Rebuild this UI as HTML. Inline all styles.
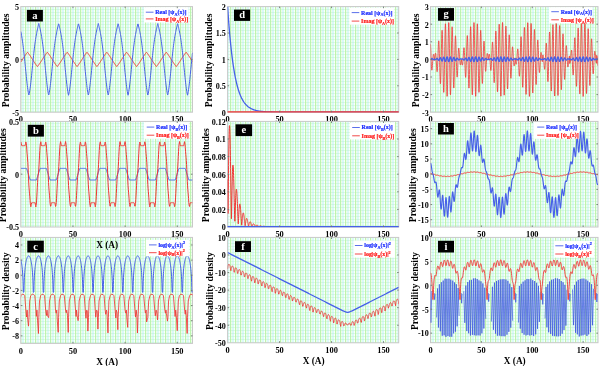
<!DOCTYPE html>
<html><head><meta charset="utf-8"><style>html,body{margin:0;padding:0;background:#fff;width:602px;height:366px;overflow:hidden}svg{display:block}</style></head>
<body>
<svg width="602" height="366" viewBox="0 0 602 366" font-family="&quot;Liberation Serif&quot;, serif" font-weight="bold" style="will-change:transform;filter:blur(0.3px)">
<defs>
<pattern id="grid" patternUnits="userSpaceOnUse" x="0" y="0" width="5" height="3">
<rect width="5" height="3" fill="#fafffa"/>
<rect x="0" y="0" width="1.2" height="3" fill="rgb(190,245,174)"/>
<rect x="2.5" y="0" width="1" height="3" fill="rgb(186,243,246)"/>
<rect x="0" y="0" width="5" height="1" fill="rgb(176,238,186)" fill-opacity="0.32"/>
</pattern>
</defs>
<rect width="602" height="366" fill="#fff"/>
<text x="20.80" y="122.40" font-size="8.4" text-anchor="middle">0</text>
<text x="72.96" y="122.40" font-size="8.4" text-anchor="middle">50</text>
<text x="125.11" y="122.40" font-size="8.4" text-anchor="middle">100</text>
<text x="177.27" y="122.40" font-size="8.4" text-anchor="middle">150</text>
<text x="20.80" y="237.20" font-size="8.4" text-anchor="middle">0</text>
<text x="72.96" y="237.20" font-size="8.4" text-anchor="middle">50</text>
<text x="125.11" y="237.20" font-size="8.4" text-anchor="middle">100</text>
<text x="177.27" y="237.20" font-size="8.4" text-anchor="middle">150</text>
<text x="20.80" y="353.60" font-size="8.4" text-anchor="middle">0</text>
<text x="72.96" y="353.60" font-size="8.4" text-anchor="middle">50</text>
<text x="125.11" y="353.60" font-size="8.4" text-anchor="middle">100</text>
<text x="177.27" y="353.60" font-size="8.4" text-anchor="middle">150</text>
<text x="227.60" y="122.40" font-size="8.4" text-anchor="middle">0</text>
<text x="279.57" y="122.40" font-size="8.4" text-anchor="middle">50</text>
<text x="331.55" y="122.40" font-size="8.4" text-anchor="middle">100</text>
<text x="383.52" y="122.40" font-size="8.4" text-anchor="middle">150</text>
<text x="227.60" y="237.20" font-size="8.4" text-anchor="middle">0</text>
<text x="279.57" y="237.20" font-size="8.4" text-anchor="middle">50</text>
<text x="331.55" y="237.20" font-size="8.4" text-anchor="middle">100</text>
<text x="383.52" y="237.20" font-size="8.4" text-anchor="middle">150</text>
<text x="227.60" y="353.00" font-size="8.4" text-anchor="middle">0</text>
<text x="279.57" y="353.00" font-size="8.4" text-anchor="middle">50</text>
<text x="331.55" y="353.00" font-size="8.4" text-anchor="middle">100</text>
<text x="383.52" y="353.00" font-size="8.4" text-anchor="middle">150</text>
<text x="430.50" y="122.40" font-size="8.4" text-anchor="middle">0</text>
<text x="481.38" y="122.40" font-size="8.4" text-anchor="middle">50</text>
<text x="532.26" y="122.40" font-size="8.4" text-anchor="middle">100</text>
<text x="583.14" y="122.40" font-size="8.4" text-anchor="middle">150</text>
<text x="430.50" y="237.20" font-size="8.4" text-anchor="middle">0</text>
<text x="481.38" y="237.20" font-size="8.4" text-anchor="middle">50</text>
<text x="532.26" y="237.20" font-size="8.4" text-anchor="middle">100</text>
<text x="583.14" y="237.20" font-size="8.4" text-anchor="middle">150</text>
<text x="430.50" y="352.90" font-size="8.4" text-anchor="middle">0</text>
<text x="481.38" y="352.90" font-size="8.4" text-anchor="middle">50</text>
<text x="532.26" y="352.90" font-size="8.4" text-anchor="middle">100</text>
<text x="583.14" y="352.90" font-size="8.4" text-anchor="middle">150</text>
<clipPath id="ca"><rect x="20.80" y="6.60" width="171.70" height="105.60"/></clipPath>
<rect x="20.80" y="6.60" width="171.70" height="105.60" fill="url(#grid)" stroke="#c8c8c8" stroke-width="1"/>
<clipPath id="cb"><rect x="20.80" y="121.40" width="171.70" height="105.60"/></clipPath>
<rect x="20.80" y="121.40" width="171.70" height="105.60" fill="url(#grid)" stroke="#c8c8c8" stroke-width="1"/>
<clipPath id="cc"><rect x="20.80" y="237.40" width="171.70" height="106.00"/></clipPath>
<rect x="20.80" y="237.40" width="171.70" height="106.00" fill="url(#grid)" stroke="#c8c8c8" stroke-width="1"/>
<clipPath id="cd"><rect x="227.60" y="6.60" width="171.10" height="105.60"/></clipPath>
<rect x="227.60" y="6.60" width="171.10" height="105.60" fill="url(#grid)" stroke="#c8c8c8" stroke-width="1"/>
<clipPath id="ce"><rect x="227.60" y="121.40" width="171.10" height="105.60"/></clipPath>
<rect x="227.60" y="121.40" width="171.10" height="105.60" fill="url(#grid)" stroke="#c8c8c8" stroke-width="1"/>
<clipPath id="cf"><rect x="227.60" y="237.40" width="171.10" height="105.40"/></clipPath>
<rect x="227.60" y="237.40" width="171.10" height="105.40" fill="url(#grid)" stroke="#c8c8c8" stroke-width="1"/>
<clipPath id="cg"><rect x="430.50" y="6.60" width="167.50" height="105.60"/></clipPath>
<rect x="430.50" y="6.60" width="167.50" height="105.60" fill="url(#grid)" stroke="#c8c8c8" stroke-width="1"/>
<clipPath id="ch"><rect x="430.50" y="121.40" width="167.50" height="105.60"/></clipPath>
<rect x="430.50" y="121.40" width="167.50" height="105.60" fill="url(#grid)" stroke="#c8c8c8" stroke-width="1"/>
<clipPath id="ci"><rect x="430.50" y="237.40" width="167.50" height="105.30"/></clipPath>
<rect x="430.50" y="237.40" width="167.50" height="105.30" fill="url(#grid)" stroke="#c8c8c8" stroke-width="1"/>
<polyline clip-path="url(#ca)" fill="none" stroke="#f03535" stroke-width="1.0" stroke-linejoin="round"  points="20.80,62.11 21.05,61.73 21.30,61.34 21.55,60.96 21.80,60.57 22.05,60.17 22.30,59.78 22.55,59.39 22.80,59.00 23.05,58.60 23.30,58.21 23.55,57.82 23.80,57.43 24.05,57.05 24.30,56.67 24.55,56.29 24.80,55.91 25.05,55.54 25.30,55.18 25.55,54.82 25.80,54.46 26.05,54.12 26.30,53.77 26.55,53.44 26.80,53.11 27.05,52.78 27.30,52.47 27.55,52.28 27.80,52.59 28.05,52.91 28.30,53.24 28.55,53.57 28.80,53.91 29.05,54.25 29.30,54.61 29.55,54.96 29.80,55.32 30.05,55.69 30.30,56.06 30.55,56.44 30.80,56.82 31.05,57.20 31.30,57.59 31.55,57.98 31.80,58.37 32.05,58.76 32.30,59.15 32.55,59.55 32.80,59.94 33.05,60.33 33.30,60.72 33.55,61.11 33.80,61.50 34.05,61.88 34.30,62.26 34.55,62.64 34.80,63.01 35.05,63.38 35.30,63.74 35.55,64.10 35.80,64.45 36.05,64.80 36.30,65.14 36.55,65.48 36.80,65.80 37.05,66.12 37.30,66.44 37.55,66.41 37.80,66.10 38.05,65.78 38.30,65.45 38.55,65.11 38.80,64.77 39.05,64.43 39.30,64.07 39.55,63.71 39.80,63.35 40.05,62.98 40.30,62.61 40.55,62.23 40.80,61.85 41.05,61.47 41.30,61.08 41.55,60.69 41.80,60.30 42.05,59.91 42.30,59.51 42.55,59.12 42.80,58.73 43.05,58.34 43.30,57.95 43.55,57.56 43.80,57.17 44.05,56.79 44.30,56.41 44.55,56.03 44.80,55.66 45.05,55.30 45.30,54.93 45.55,54.58 45.80,54.23 46.05,53.88 46.30,53.54 46.55,53.21 46.80,52.89 47.05,52.57 47.30,52.26 47.55,52.49 47.80,52.81 48.05,53.13 48.30,53.46 48.55,53.80 48.80,54.14 49.05,54.49 49.30,54.85 49.55,55.21 49.80,55.57 50.05,55.94 50.30,56.32 50.55,56.70 50.80,57.08 51.05,57.46 51.30,57.85 51.55,58.24 51.80,58.63 52.05,59.03 52.30,59.42 52.55,59.81 52.80,60.21 53.05,60.60 53.30,60.99 53.55,61.37 53.80,61.76 54.05,62.14 54.30,62.52 54.55,62.89 54.80,63.26 55.05,63.63 55.30,63.99 55.55,64.34 55.80,64.69 56.05,65.03 56.30,65.37 56.55,65.70 56.80,66.02 57.05,66.34 57.30,66.51 57.55,66.20 57.80,65.88 58.05,65.55 58.30,65.22 58.55,64.88 58.80,64.54 59.05,64.19 59.30,63.83 59.55,63.47 59.80,63.10 60.05,62.73 60.30,62.35 60.55,61.97 60.80,61.59 61.05,61.20 61.30,60.81 61.55,60.42 61.80,60.03 62.05,59.64 62.30,59.25 62.55,58.85 62.80,58.46 63.05,58.07 63.30,57.68 63.55,57.29 63.80,56.91 64.05,56.53 64.30,56.15 64.55,55.78 64.80,55.41 65.05,55.05 65.30,54.69 65.55,54.34 65.80,53.99 66.05,53.65 66.30,53.32 66.55,52.99 66.80,52.67 67.05,52.36 67.30,52.39 67.55,52.71 67.80,53.03 68.05,53.36 68.30,53.69 68.55,54.03 68.80,54.38 69.05,54.73 69.30,55.09 69.55,55.46 69.80,55.82 70.05,56.20 70.30,56.58 70.55,56.96 70.80,57.34 71.05,57.73 71.30,58.12 71.55,58.51 71.80,58.90 72.05,59.29 72.30,59.69 72.55,60.08 72.80,60.47 73.05,60.86 73.30,61.25 73.55,61.64 73.80,62.02 74.05,62.40 74.30,62.77 74.55,63.15 74.80,63.51 75.05,63.87 75.30,64.23 75.55,64.58 75.80,64.92 76.05,65.26 76.30,65.59 76.55,65.92 76.80,66.24 77.05,66.55 77.30,66.30 77.55,65.98 77.80,65.66 78.05,65.33 78.30,64.99 78.55,64.65 78.80,64.30 79.05,63.95 79.30,63.58 79.55,63.22 79.80,62.85 80.05,62.47 80.30,62.10 80.55,61.71 80.80,61.33 81.05,60.94 81.30,60.55 81.55,60.16 81.80,59.77 82.05,59.37 82.30,58.98 82.55,58.59 82.80,58.20 83.05,57.81 83.30,57.42 83.55,57.03 83.80,56.65 84.05,56.27 84.30,55.90 84.55,55.53 84.80,55.16 85.05,54.80 85.30,54.45 85.55,54.10 85.80,53.76 86.05,53.42 86.30,53.09 86.55,52.77 86.80,52.46 87.05,52.29 87.30,52.61 87.55,52.93 87.80,53.25 88.05,53.58 88.30,53.92 88.55,54.27 88.80,54.62 89.05,54.98 89.30,55.34 89.55,55.71 89.80,56.08 90.05,56.45 90.30,56.83 90.55,57.22 90.80,57.60 91.05,57.99 91.30,58.38 91.55,58.78 91.80,59.17 92.05,59.56 92.30,59.95 92.55,60.35 92.80,60.74 93.05,61.13 93.30,61.51 93.55,61.90 93.80,62.28 94.05,62.65 94.30,63.03 94.55,63.40 94.80,63.76 95.05,64.12 95.30,64.47 95.55,64.81 95.80,65.15 96.05,65.49 96.30,65.82 96.55,66.14 96.80,66.45 97.05,66.40 97.30,66.09 97.55,65.76 97.80,65.44 98.05,65.10 98.30,64.76 98.55,64.41 98.80,64.06 99.05,63.70 99.30,63.34 99.55,62.97 99.80,62.59 100.05,62.22 100.30,61.84 100.55,61.45 100.80,61.06 101.05,60.67 101.30,60.28 101.55,59.89 101.80,59.50 102.05,59.11 102.30,58.71 102.55,58.32 102.80,57.93 103.05,57.54 103.30,57.16 103.55,56.77 103.80,56.39 104.05,56.02 104.30,55.65 104.55,55.28 104.80,54.92 105.05,54.56 105.30,54.21 105.55,53.87 105.80,53.53 106.05,53.20 106.30,52.87 106.55,52.56 106.80,52.24 107.05,52.51 107.30,52.82 107.55,53.15 107.80,53.48 108.05,53.81 108.30,54.16 108.55,54.51 108.80,54.86 109.05,55.22 109.30,55.59 109.55,55.96 109.80,56.33 110.05,56.71 110.30,57.09 110.55,57.48 110.80,57.87 111.05,58.26 111.30,58.65 111.55,59.04 111.80,59.44 112.05,59.83 112.30,60.22 112.55,60.61 112.80,61.00 113.05,61.39 113.30,61.77 113.55,62.16 113.80,62.53 114.05,62.91 114.30,63.28 114.55,63.64 114.80,64.00 115.05,64.36 115.30,64.70 115.55,65.05 115.80,65.38 116.05,65.71 116.30,66.04 116.55,66.35 116.80,66.50 117.05,66.19 117.30,65.87 117.55,65.54 117.80,65.21 118.05,64.87 118.30,64.52 118.55,64.17 118.80,63.82 119.05,63.45 119.30,63.09 119.55,62.71 119.80,62.34 120.05,61.96 120.30,61.57 120.55,61.19 120.80,60.80 121.05,60.41 121.30,60.02 121.55,59.62 121.80,59.23 122.05,58.84 122.30,58.45 122.55,58.06 122.80,57.67 123.05,57.28 123.30,56.90 123.55,56.52 123.80,56.14 124.05,55.77 124.30,55.40 124.55,55.03 124.80,54.68 125.05,54.32 125.30,53.98 125.55,53.64 125.80,53.30 126.05,52.98 126.30,52.66 126.55,52.34 126.80,52.41 127.05,52.72 127.30,53.04 127.55,53.37 127.80,53.71 128.05,54.05 128.30,54.39 128.55,54.75 128.80,55.11 129.05,55.47 129.30,55.84 129.55,56.21 129.80,56.59 130.05,56.97 130.30,57.36 130.55,57.74 130.80,58.13 131.05,58.52 131.30,58.92 131.55,59.31 131.80,59.70 132.05,60.10 132.30,60.49 132.55,60.88 132.80,61.27 133.05,61.65 133.30,62.03 133.55,62.41 133.80,62.79 134.05,63.16 134.30,63.53 134.55,63.89 134.80,64.24 135.05,64.59 135.30,64.94 135.55,65.28 135.80,65.61 136.05,65.93 136.30,66.25 136.55,66.56 136.80,66.29 137.05,65.97 137.30,65.65 137.55,65.32 137.80,64.98 138.05,64.64 138.30,64.29 138.55,63.93 138.80,63.57 139.05,63.20 139.30,62.83 139.55,62.46 139.80,62.08 140.05,61.70 140.30,61.31 140.55,60.92 140.80,60.53 141.05,60.14 141.30,59.75 141.55,59.36 141.80,58.96 142.05,58.57 142.30,58.18 142.55,57.79 142.80,57.40 143.05,57.02 143.30,56.64 143.55,56.26 143.80,55.88 144.05,55.51 144.30,55.15 144.55,54.79 144.80,54.44 145.05,54.09 145.30,53.75 145.55,53.41 145.80,53.08 146.05,52.76 146.30,52.44 146.55,52.31 146.80,52.62 147.05,52.94 147.30,53.26 147.55,53.60 147.80,53.94 148.05,54.28 148.30,54.63 148.55,54.99 148.80,55.35 149.05,55.72 149.30,56.09 149.55,56.47 149.80,56.85 150.05,57.23 150.30,57.62 150.55,58.01 150.80,58.40 151.05,58.79 151.30,59.18 151.55,59.58 151.80,59.97 152.05,60.36 152.30,60.75 152.55,61.14 152.80,61.53 153.05,61.91 153.30,62.29 153.55,62.67 153.80,63.04 154.05,63.41 154.30,63.77 154.55,64.13 154.80,64.48 155.05,64.83 155.30,65.17 155.55,65.50 155.80,65.83 156.05,66.15 156.30,66.46 156.55,66.39 156.80,66.07 157.05,65.75 157.30,65.42 157.55,65.09 157.80,64.75 158.05,64.40 158.30,64.05 158.55,63.69 158.80,63.32 159.05,62.95 159.30,62.58 159.55,62.20 159.80,61.82 160.05,61.44 160.30,61.05 160.55,60.66 160.80,60.27 161.05,59.88 161.30,59.48 161.55,59.09 161.80,58.70 162.05,58.31 162.30,57.91 162.55,57.53 162.80,57.14 163.05,56.76 163.30,56.38 163.55,56.00 163.80,55.63 164.05,55.27 164.30,54.91 164.55,54.55 164.80,54.20 165.05,53.86 165.30,53.52 165.55,53.19 165.80,52.86 166.05,52.54 166.30,52.23 166.55,52.52 166.80,52.84 167.05,53.16 167.30,53.49 167.55,53.83 167.80,54.17 168.05,54.52 168.30,54.88 168.55,55.24 168.80,55.60 169.05,55.97 169.30,56.35 169.55,56.73 169.80,57.11 170.05,57.50 170.30,57.88 170.55,58.27 170.80,58.67 171.05,59.06 171.30,59.45 171.55,59.84 171.80,60.24 172.05,60.63 172.30,61.02 172.55,61.40 172.80,61.79 173.05,62.17 173.30,62.55 173.55,62.92 173.80,63.29 174.05,63.66 174.30,64.02 174.55,64.37 174.80,64.72 175.05,65.06 175.30,65.40 175.55,65.73 175.80,66.05 176.05,66.36 176.30,66.49 176.55,66.17 176.80,65.86 177.05,65.53 177.30,65.20 177.55,64.86 177.80,64.51 178.05,64.16 178.30,63.80 178.55,63.44 178.80,63.07 179.05,62.70 179.30,62.32 179.55,61.94 179.80,61.56 180.05,61.17 180.30,60.78 180.55,60.39 180.80,60.00 181.05,59.61 181.30,59.22 181.55,58.82 181.80,58.43 182.05,58.04 182.30,57.65 182.55,57.26 182.80,56.88 183.05,56.50 183.30,56.12 183.55,55.75 183.80,55.38 184.05,55.02 184.30,54.66 184.55,54.31 184.80,53.96 185.05,53.62 185.30,53.29 185.55,52.96 185.80,52.64 186.05,52.33 186.30,52.42 186.55,52.73 186.80,53.06 187.05,53.38 187.30,53.72 187.55,54.06 187.80,54.41 188.05,54.76 188.30,55.12 188.55,55.49 188.80,55.85 189.05,56.23 189.30,56.61 189.55,56.99 189.80,57.37 190.05,57.76 190.30,58.15 190.55,58.54 190.80,58.93 191.05,59.33 191.30,59.72 191.55,60.11 191.80,60.50 192.05,60.89 192.30,61.28 192.50,61.59"/>
<polyline clip-path="url(#ca)" fill="none" stroke="#4760e8" stroke-width="1.0" stroke-linejoin="round"  points="20.80,31.49 21.05,32.74 21.30,34.06 21.55,35.44 21.80,36.90 22.05,38.43 22.30,40.06 22.55,41.78 22.80,43.59 23.05,45.49 23.30,47.50 23.55,49.60 23.80,51.79 24.05,54.06 24.30,56.41 24.55,58.83 24.80,61.30 25.05,63.82 25.30,66.36 25.55,68.91 25.80,71.45 26.05,73.96 26.30,76.44 26.55,78.84 26.80,81.17 27.05,83.39 27.30,85.50 27.55,87.47 27.80,89.30 28.05,90.97 28.30,92.48 28.55,93.81 28.80,94.95 29.05,94.61 29.30,93.40 29.55,92.02 29.80,90.46 30.05,88.73 30.30,86.86 30.55,84.84 30.80,82.69 31.05,80.43 31.30,78.08 31.55,75.65 31.80,73.16 32.05,70.64 32.30,68.09 32.55,65.54 32.80,63.01 33.05,60.51 33.30,58.05 33.55,55.65 33.80,53.33 34.05,51.08 34.30,48.92 34.55,46.85 34.80,44.87 35.05,43.00 35.30,41.22 35.55,39.53 35.80,37.93 36.05,36.42 36.30,34.99 36.55,33.63 36.80,32.33 37.05,31.10 37.30,29.91 37.55,28.76 37.80,27.66 38.05,26.58 38.30,25.53 38.55,24.50 38.80,23.50 39.05,24.50 39.30,25.53 39.55,26.58 39.80,27.66 40.05,28.76 40.30,29.91 40.55,31.10 40.80,32.33 41.05,33.63 41.30,34.99 41.55,36.42 41.80,37.93 42.05,39.53 42.30,41.22 42.55,43.00 42.80,44.87 43.05,46.85 43.30,48.92 43.55,51.08 43.80,53.33 44.05,55.65 44.30,58.05 44.55,60.51 44.80,63.01 45.05,65.54 45.30,68.09 45.55,70.64 45.80,73.16 46.05,75.65 46.30,78.08 46.55,80.43 46.80,82.69 47.05,84.84 47.30,86.86 47.55,88.73 47.80,90.46 48.05,92.02 48.30,93.40 48.55,94.61 48.80,94.95 49.05,93.81 49.30,92.48 49.55,90.97 49.80,89.30 50.05,87.47 50.30,85.50 50.55,83.39 50.80,81.17 51.05,78.84 51.30,76.44 51.55,73.96 51.80,71.45 52.05,68.91 52.30,66.36 52.55,63.82 52.80,61.30 53.05,58.83 53.30,56.41 53.55,54.06 53.80,51.79 54.05,49.60 54.30,47.50 54.55,45.49 54.80,43.59 55.05,41.78 55.30,40.06 55.55,38.43 55.80,36.90 56.05,35.44 56.30,34.06 56.55,32.74 56.80,31.49 57.05,30.28 57.30,29.13 57.55,28.01 57.80,26.92 58.05,25.86 58.30,24.83 58.55,23.82 58.80,24.18 59.05,25.20 59.30,26.24 59.55,27.31 59.80,28.41 60.05,29.54 60.30,30.71 60.55,31.93 60.80,33.21 61.05,34.55 61.30,35.95 61.55,37.44 61.80,39.01 62.05,40.67 62.30,42.42 62.55,44.26 62.80,46.20 63.05,48.24 63.30,50.38 63.55,52.60 63.80,54.90 64.05,57.28 64.30,59.72 64.55,62.21 64.80,64.73 65.05,67.28 65.30,69.82 65.55,72.36 65.80,74.86 66.05,77.31 66.30,79.69 66.55,81.98 66.80,84.16 67.05,86.23 67.30,88.15 67.55,89.92 67.80,91.53 68.05,92.98 68.30,94.24 68.55,95.28 68.80,94.19 69.05,92.92 69.30,91.47 69.55,89.86 69.80,88.08 70.05,86.15 70.30,84.08 70.55,81.89 70.80,79.60 71.05,77.21 71.30,74.76 71.55,72.26 71.80,69.72 72.05,67.17 72.30,64.63 72.55,62.10 72.80,59.62 73.05,57.18 73.30,54.81 73.55,52.51 73.80,50.29 74.05,48.16 74.30,46.13 74.55,44.19 74.80,42.34 75.05,40.60 75.30,38.94 75.55,37.38 75.80,35.90 76.05,34.49 76.30,33.16 76.55,31.88 76.80,30.66 77.05,29.49 77.30,28.36 77.55,27.27 77.80,26.20 78.05,25.16 78.30,24.14 78.55,23.86 78.80,24.87 79.05,25.90 79.30,26.96 79.55,28.05 79.80,29.17 80.05,30.33 80.30,31.54 80.55,32.79 80.80,34.11 81.05,35.50 81.30,36.96 81.55,38.50 81.80,40.13 82.05,41.85 82.30,43.66 82.55,45.57 82.80,47.58 83.05,49.68 83.30,51.88 83.55,54.15 83.80,56.51 84.05,58.93 84.30,61.40 84.55,63.92 84.80,66.46 85.05,69.01 85.30,71.55 85.55,74.06 85.80,76.53 86.05,78.94 86.30,81.26 86.55,83.48 86.80,85.58 87.05,87.55 87.30,89.37 87.55,91.04 87.80,92.53 88.05,93.86 88.30,95.00 88.55,94.56 88.80,93.35 89.05,91.96 89.30,90.39 89.55,88.66 89.80,86.78 90.05,84.75 90.30,82.60 90.55,80.34 90.80,77.98 91.05,75.55 91.30,73.06 91.55,70.54 91.80,67.99 92.05,65.44 92.30,62.91 92.55,60.41 92.80,57.95 93.05,55.56 93.30,53.23 93.55,50.99 93.80,48.83 94.05,46.77 94.30,44.80 94.55,42.92 94.80,41.15 95.05,39.46 95.30,37.87 95.55,36.36 95.80,34.93 96.05,33.58 96.30,32.28 96.55,31.05 96.80,29.86 97.05,28.72 97.30,27.61 97.55,26.54 97.80,25.49 98.05,24.46 98.30,23.54 98.55,24.54 98.80,25.57 99.05,26.62 99.30,27.70 99.55,28.81 99.80,29.96 100.05,31.14 100.30,32.38 100.55,33.68 100.80,35.04 101.05,36.48 101.30,37.99 101.55,39.59 101.80,41.29 102.05,43.07 102.30,44.95 102.55,46.93 102.80,49.00 103.05,51.17 103.30,53.42 103.55,55.75 103.80,58.15 104.05,60.61 104.30,63.11 104.55,65.65 104.80,68.19 105.05,70.74 105.30,73.26 105.55,75.75 105.80,78.18 106.05,80.52 106.30,82.78 106.55,84.92 106.80,86.93 107.05,88.81 107.30,90.52 107.55,92.07 107.80,93.45 108.05,94.65 108.30,94.91 108.55,93.76 108.80,92.42 109.05,90.91 109.30,89.23 109.55,87.40 109.80,85.42 110.05,83.30 110.30,81.07 110.55,78.75 110.80,76.34 111.05,73.87 111.30,71.35 111.55,68.81 111.80,66.26 112.05,63.72 112.30,61.20 112.55,58.73 112.80,56.32 113.05,53.97 113.30,51.70 113.55,49.51 113.80,47.42 114.05,45.42 114.30,43.51 114.55,41.70 114.80,39.99 115.05,38.37 115.30,36.84 115.55,35.38 115.80,34.00 116.05,32.69 116.30,31.44 116.55,30.24 116.80,29.08 117.05,27.96 117.30,26.88 117.55,25.82 117.80,24.79 118.05,23.78 118.30,24.22 118.55,25.24 118.80,26.28 119.05,27.35 119.30,28.45 119.55,29.58 119.80,30.76 120.05,31.98 120.30,33.26 120.55,34.60 120.80,36.01 121.05,37.50 121.30,39.07 121.55,40.73 121.80,42.49 122.05,44.34 122.30,46.28 122.55,48.33 122.80,50.46 123.05,52.69 123.30,54.99 123.55,57.37 123.80,59.81 124.05,62.31 124.30,64.83 124.55,67.38 124.80,69.93 125.05,72.46 125.30,74.96 125.55,77.41 125.80,79.78 126.05,82.07 126.30,84.25 126.55,86.30 126.80,88.22 127.05,89.99 127.30,91.60 127.55,93.03 127.80,94.29 128.05,95.24 128.30,94.15 128.55,92.87 128.80,91.41 129.05,89.79 129.30,88.00 129.55,86.06 129.80,83.99 130.05,81.80 130.30,79.50 130.55,77.12 130.80,74.66 131.05,72.16 131.30,69.62 131.55,67.07 131.80,64.53 132.05,62.00 132.30,59.52 132.55,57.08 132.80,54.71 133.05,52.42 133.30,50.20 133.55,48.08 133.80,46.05 134.05,44.11 134.30,42.27 134.55,40.53 134.80,38.88 135.05,37.32 135.30,35.84 135.55,34.44 135.80,33.10 136.05,31.83 136.30,30.62 136.55,29.45 136.80,28.32 137.05,27.22 137.30,26.16 137.55,25.12 137.80,24.10 138.05,23.90 138.30,24.91 138.55,25.95 138.80,27.01 139.05,28.10 139.30,29.22 139.55,30.38 139.80,31.58 140.05,32.84 140.30,34.16 140.55,35.55 140.80,37.02 141.05,38.56 141.30,40.19 141.55,41.92 141.80,43.74 142.05,45.65 142.30,47.66 142.55,49.77 142.80,51.97 143.05,54.25 143.30,56.60 143.55,59.03 143.80,61.50 144.05,64.02 144.30,66.56 144.55,69.11 144.80,71.65 145.05,74.16 145.30,76.63 145.55,79.03 145.80,81.35 146.05,83.56 146.30,85.66 146.55,87.63 146.80,89.44 147.05,91.10 147.30,92.59 147.55,93.90 147.80,95.04 148.05,94.52 148.30,93.30 148.55,91.90 148.80,90.32 149.05,88.59 149.30,86.70 149.55,84.67 149.80,82.51 150.05,80.25 150.30,77.89 150.55,75.45 150.80,72.96 151.05,70.44 151.30,67.89 151.55,65.34 151.80,62.81 152.05,60.31 152.30,57.86 152.55,55.46 152.80,53.14 153.05,50.90 153.30,48.75 153.55,46.69 153.80,44.72 154.05,42.85 154.30,41.08 154.55,39.40 154.80,37.81 155.05,36.30 155.30,34.88 155.55,33.52 155.80,32.23 156.05,31.00 156.30,29.82 156.55,28.67 156.80,27.57 157.05,26.49 157.30,25.45 157.55,24.42 157.80,23.58 158.05,24.58 158.30,25.61 158.55,26.66 158.80,27.74 159.05,28.85 159.30,30.00 159.55,31.19 159.80,32.44 160.05,33.74 160.30,35.10 160.55,36.54 160.80,38.06 161.05,39.66 161.30,41.35 161.55,43.14 161.80,45.03 162.05,47.01 162.30,49.09 162.55,51.25 162.80,53.51 163.05,55.84 163.30,58.25 163.55,60.71 163.80,63.21 164.05,65.75 164.30,68.30 164.55,70.84 164.80,73.36 165.05,75.85 165.30,78.27 165.55,80.62 165.80,82.87 166.05,85.00 166.30,87.01 166.55,88.88 166.80,90.59 167.05,92.13 167.30,93.50 167.55,94.70 167.80,94.87 168.05,93.71 168.30,92.36 168.55,90.85 168.80,89.16 169.05,87.32 169.30,85.33 169.55,83.22 169.80,80.98 170.05,78.65 170.30,76.24 170.55,73.77 170.80,71.25 171.05,68.70 171.30,66.15 171.55,63.62 171.80,61.10 172.05,58.64 172.30,56.22 172.55,53.88 172.80,51.61 173.05,49.43 173.30,47.33 173.55,45.34 173.80,43.44 174.05,41.63 174.30,39.93 174.55,38.31 174.80,36.78 175.05,35.33 175.30,33.95 175.55,32.64 175.80,31.39 176.05,30.19 176.30,29.04 176.55,27.92 176.80,26.84 177.05,25.78 177.30,24.75 177.55,23.74 177.80,24.26 178.05,25.28 178.30,26.33 178.55,27.40 178.80,28.50 179.05,29.63 179.30,30.81 179.55,32.03 179.80,33.31 180.05,34.66 180.30,36.07 180.55,37.56 180.80,39.14 181.05,40.80 181.30,42.56 181.55,44.41 181.80,46.36 182.05,48.41 182.30,50.55 182.55,52.78 182.80,55.09 183.05,57.47 183.30,59.91 183.55,62.41 183.80,64.93 184.05,67.48 184.30,70.03 184.55,72.56 184.80,75.06 185.05,77.50 185.30,79.88 185.55,82.16 185.80,84.33 186.05,86.38 186.30,88.30 186.55,90.06 186.80,91.66 187.05,93.08 187.30,94.33 187.55,95.20 187.80,94.10 188.05,92.81 188.30,91.35 188.55,89.72 188.80,87.93 189.05,85.98 189.30,83.91 189.55,81.71 189.80,79.41 190.05,77.02 190.30,74.56 190.55,72.06 190.80,69.52 191.05,66.97 191.30,64.43 191.55,61.90 191.80,59.42 192.05,56.99 192.30,54.62 192.50,52.78"/>
<polyline clip-path="url(#cb)" fill="none" stroke="#4760e8" stroke-width="1.0" stroke-linejoin="round"  points="20.80,168.39 21.05,168.39 21.30,168.39 21.55,168.39 21.80,168.39 22.05,168.39 22.30,168.39 22.55,168.39 22.80,168.39 23.05,168.39 23.30,168.39 23.55,168.39 23.80,168.39 24.05,168.39 24.30,168.39 24.55,168.39 24.80,168.39 25.05,168.39 25.30,168.39 25.55,168.39 25.80,168.39 26.05,168.39 26.30,168.39 26.55,168.66 26.80,169.34 27.05,170.04 27.30,170.76 27.55,171.53 27.80,172.33 28.05,173.16 28.30,174.00 28.55,174.85 28.80,175.69 29.05,176.51 29.30,177.29 29.55,178.03 29.80,178.74 30.05,179.43 30.30,180.01 30.55,180.01 30.80,180.01 31.05,180.01 31.30,180.01 31.55,180.01 31.80,180.01 32.05,180.01 32.30,180.01 32.55,180.01 32.80,180.01 33.05,180.01 33.30,180.01 33.55,180.01 33.80,180.01 34.05,180.01 34.30,180.01 34.55,180.01 34.80,180.01 35.05,180.01 35.30,180.01 35.55,180.01 35.80,180.01 36.05,180.01 36.30,180.01 36.55,179.51 36.80,178.83 37.05,178.12 37.30,177.38 37.55,176.60 37.80,175.79 38.05,174.96 38.30,174.11 38.55,173.26 38.80,172.43 39.05,171.62 39.30,170.85 39.55,170.12 39.80,169.42 40.05,168.74 40.30,168.39 40.55,168.39 40.80,168.39 41.05,168.39 41.30,168.39 41.55,168.39 41.80,168.39 42.05,168.39 42.30,168.39 42.55,168.39 42.80,168.39 43.05,168.39 43.30,168.39 43.55,168.39 43.80,168.39 44.05,168.39 44.30,168.39 44.55,168.39 44.80,168.39 45.05,168.39 45.30,168.39 45.55,168.39 45.80,168.39 46.05,168.39 46.30,168.44 46.55,169.12 46.80,169.81 47.05,170.53 47.30,171.28 47.55,172.07 47.80,172.89 48.05,173.73 48.30,174.58 48.55,175.43 48.80,176.25 49.05,177.04 49.30,177.80 49.55,178.52 49.80,179.21 50.05,179.89 50.30,180.01 50.55,180.01 50.80,180.01 51.05,180.01 51.30,180.01 51.55,180.01 51.80,180.01 52.05,180.01 52.30,180.01 52.55,180.01 52.80,180.01 53.05,180.01 53.30,180.01 53.55,180.01 53.80,180.01 54.05,180.01 54.30,180.01 54.55,180.01 54.80,180.01 55.05,180.01 55.30,180.01 55.55,180.01 55.80,180.01 56.05,180.01 56.30,179.73 56.55,179.05 56.80,178.35 57.05,177.62 57.30,176.86 57.55,176.05 57.80,175.23 58.05,174.38 58.30,173.53 58.55,172.69 58.80,171.88 59.05,171.10 59.30,170.35 59.55,169.64 59.80,168.96 60.05,168.39 60.30,168.39 60.55,168.39 60.80,168.39 61.05,168.39 61.30,168.39 61.55,168.39 61.80,168.39 62.05,168.39 62.30,168.39 62.55,168.39 62.80,168.39 63.05,168.39 63.30,168.39 63.55,168.39 63.80,168.39 64.05,168.39 64.30,168.39 64.55,168.39 64.80,168.39 65.05,168.39 65.30,168.39 65.55,168.39 65.80,168.39 66.05,168.39 66.30,168.90 66.55,169.59 66.80,170.29 67.05,171.04 67.30,171.81 67.55,172.62 67.80,173.46 68.05,174.31 68.30,175.16 68.55,175.99 68.80,176.79 69.05,177.56 69.30,178.29 69.55,178.99 69.80,179.67 70.05,180.01 70.30,180.01 70.55,180.01 70.80,180.01 71.05,180.01 71.30,180.01 71.55,180.01 71.80,180.01 72.05,180.01 72.30,180.01 72.55,180.01 72.80,180.01 73.05,180.01 73.30,180.01 73.55,180.01 73.80,180.01 74.05,180.01 74.30,180.01 74.55,180.01 74.80,180.01 75.05,180.01 75.30,180.01 75.55,180.01 75.80,180.01 76.05,179.94 76.30,179.27 76.55,178.58 76.80,177.86 77.05,177.10 77.30,176.31 77.55,175.49 77.80,174.65 78.05,173.80 78.30,172.96 78.55,172.13 78.80,171.34 79.05,170.59 79.30,169.87 79.55,169.17 79.80,168.50 80.05,168.39 80.30,168.39 80.55,168.39 80.80,168.39 81.05,168.39 81.30,168.39 81.55,168.39 81.80,168.39 82.05,168.39 82.30,168.39 82.55,168.39 82.80,168.39 83.05,168.39 83.30,168.39 83.55,168.39 83.80,168.39 84.05,168.39 84.30,168.39 84.55,168.39 84.80,168.39 85.05,168.39 85.30,168.39 85.55,168.39 85.80,168.39 86.05,168.69 86.30,169.36 86.55,170.06 86.80,170.79 87.05,171.56 87.30,172.36 87.55,173.19 87.80,174.04 88.05,174.89 88.30,175.73 88.55,176.54 88.80,177.32 89.05,178.06 89.30,178.77 89.55,179.46 89.80,180.01 90.05,180.01 90.30,180.01 90.55,180.01 90.80,180.01 91.05,180.01 91.30,180.01 91.55,180.01 91.80,180.01 92.05,180.01 92.30,180.01 92.55,180.01 92.80,180.01 93.05,180.01 93.30,180.01 93.55,180.01 93.80,180.01 94.05,180.01 94.30,180.01 94.55,180.01 94.80,180.01 95.05,180.01 95.30,180.01 95.55,180.01 95.80,180.01 96.05,179.48 96.30,178.80 96.55,178.09 96.80,177.35 97.05,176.57 97.30,175.76 97.55,174.92 97.80,174.07 98.05,173.22 98.30,172.39 98.55,171.59 98.80,170.82 99.05,170.09 99.30,169.39 99.55,168.71 99.80,168.39 100.05,168.39 100.30,168.39 100.55,168.39 100.80,168.39 101.05,168.39 101.30,168.39 101.55,168.39 101.80,168.39 102.05,168.39 102.30,168.39 102.55,168.39 102.80,168.39 103.05,168.39 103.30,168.39 103.55,168.39 103.80,168.39 104.05,168.39 104.30,168.39 104.55,168.39 104.80,168.39 105.05,168.39 105.30,168.39 105.55,168.39 105.80,168.47 106.05,169.15 106.30,169.84 106.55,170.56 106.80,171.31 107.05,172.10 107.30,172.92 107.55,173.77 107.80,174.62 108.05,175.46 108.30,176.28 108.55,177.07 108.80,177.83 109.05,178.55 109.30,179.24 109.55,179.92 109.80,180.01 110.05,180.01 110.30,180.01 110.55,180.01 110.80,180.01 111.05,180.01 111.30,180.01 111.55,180.01 111.80,180.01 112.05,180.01 112.30,180.01 112.55,180.01 112.80,180.01 113.05,180.01 113.30,180.01 113.55,180.01 113.80,180.01 114.05,180.01 114.30,180.01 114.55,180.01 114.80,180.01 115.05,180.01 115.30,180.01 115.55,180.01 115.80,179.70 116.05,179.02 116.30,178.32 116.55,177.59 116.80,176.82 117.05,176.02 117.30,175.19 117.55,174.34 117.80,173.49 118.05,172.66 118.30,171.84 118.55,171.07 118.80,170.32 119.05,169.61 119.30,168.93 119.55,168.39 119.80,168.39 120.05,168.39 120.30,168.39 120.55,168.39 120.80,168.39 121.05,168.39 121.30,168.39 121.55,168.39 121.80,168.39 122.05,168.39 122.30,168.39 122.55,168.39 122.80,168.39 123.05,168.39 123.30,168.39 123.55,168.39 123.80,168.39 124.05,168.39 124.30,168.39 124.55,168.39 124.80,168.39 125.05,168.39 125.30,168.39 125.55,168.39 125.80,168.93 126.05,169.61 126.30,170.32 126.55,171.07 126.80,171.84 127.05,172.66 127.30,173.49 127.55,174.34 127.80,175.19 128.05,176.02 128.30,176.82 128.55,177.59 128.80,178.32 129.05,179.02 129.30,179.70 129.55,180.01 129.80,180.01 130.05,180.01 130.30,180.01 130.55,180.01 130.80,180.01 131.05,180.01 131.30,180.01 131.55,180.01 131.80,180.01 132.05,180.01 132.30,180.01 132.55,180.01 132.80,180.01 133.05,180.01 133.30,180.01 133.55,180.01 133.80,180.01 134.05,180.01 134.30,180.01 134.55,180.01 134.80,180.01 135.05,180.01 135.30,180.01 135.55,179.92 135.80,179.24 136.05,178.55 136.30,177.83 136.55,177.07 136.80,176.28 137.05,175.46 137.30,174.62 137.55,173.77 137.80,172.92 138.05,172.10 138.30,171.31 138.55,170.56 138.80,169.84 139.05,169.15 139.30,168.47 139.55,168.39 139.80,168.39 140.05,168.39 140.30,168.39 140.55,168.39 140.80,168.39 141.05,168.39 141.30,168.39 141.55,168.39 141.80,168.39 142.05,168.39 142.30,168.39 142.55,168.39 142.80,168.39 143.05,168.39 143.30,168.39 143.55,168.39 143.80,168.39 144.05,168.39 144.30,168.39 144.55,168.39 144.80,168.39 145.05,168.39 145.30,168.39 145.55,168.71 145.80,169.39 146.05,170.09 146.30,170.82 146.55,171.59 146.80,172.39 147.05,173.22 147.30,174.07 147.55,174.92 147.80,175.76 148.05,176.57 148.30,177.35 148.55,178.09 148.80,178.80 149.05,179.48 149.30,180.01 149.55,180.01 149.80,180.01 150.05,180.01 150.30,180.01 150.55,180.01 150.80,180.01 151.05,180.01 151.30,180.01 151.55,180.01 151.80,180.01 152.05,180.01 152.30,180.01 152.55,180.01 152.80,180.01 153.05,180.01 153.30,180.01 153.55,180.01 153.80,180.01 154.05,180.01 154.30,180.01 154.55,180.01 154.80,180.01 155.05,180.01 155.30,180.01 155.55,179.46 155.80,178.77 156.05,178.06 156.30,177.32 156.55,176.54 156.80,175.73 157.05,174.89 157.30,174.04 157.55,173.19 157.80,172.36 158.05,171.56 158.30,170.79 158.55,170.06 158.80,169.36 159.05,168.69 159.30,168.39 159.55,168.39 159.80,168.39 160.05,168.39 160.30,168.39 160.55,168.39 160.80,168.39 161.05,168.39 161.30,168.39 161.55,168.39 161.80,168.39 162.05,168.39 162.30,168.39 162.55,168.39 162.80,168.39 163.05,168.39 163.30,168.39 163.55,168.39 163.80,168.39 164.05,168.39 164.30,168.39 164.55,168.39 164.80,168.39 165.05,168.39 165.30,168.50 165.55,169.17 165.80,169.87 166.05,170.59 166.30,171.34 166.55,172.13 166.80,172.96 167.05,173.80 167.30,174.65 167.55,175.49 167.80,176.31 168.05,177.10 168.30,177.86 168.55,178.58 168.80,179.27 169.05,179.94 169.30,180.01 169.55,180.01 169.80,180.01 170.05,180.01 170.30,180.01 170.55,180.01 170.80,180.01 171.05,180.01 171.30,180.01 171.55,180.01 171.80,180.01 172.05,180.01 172.30,180.01 172.55,180.01 172.80,180.01 173.05,180.01 173.30,180.01 173.55,180.01 173.80,180.01 174.05,180.01 174.30,180.01 174.55,180.01 174.80,180.01 175.05,180.01 175.30,179.67 175.55,178.99 175.80,178.29 176.05,177.56 176.30,176.79 176.55,175.99 176.80,175.16 177.05,174.31 177.30,173.46 177.55,172.62 177.80,171.81 178.05,171.04 178.30,170.29 178.55,169.59 178.80,168.90 179.05,168.39 179.30,168.39 179.55,168.39 179.80,168.39 180.05,168.39 180.30,168.39 180.55,168.39 180.80,168.39 181.05,168.39 181.30,168.39 181.55,168.39 181.80,168.39 182.05,168.39 182.30,168.39 182.55,168.39 182.80,168.39 183.05,168.39 183.30,168.39 183.55,168.39 183.80,168.39 184.05,168.39 184.30,168.39 184.55,168.39 184.80,168.39 185.05,168.39 185.30,168.96 185.55,169.64 185.80,170.35 186.05,171.10 186.30,171.88 186.55,172.69 186.80,173.53 187.05,174.38 187.30,175.23 187.55,176.05 187.80,176.86 188.05,177.62 188.30,178.35 188.55,179.05 188.80,179.73 189.05,180.01 189.30,180.01 189.55,180.01 189.80,180.01 190.05,180.01 190.30,180.01 190.55,180.01 190.80,180.01 191.05,180.01 191.30,180.01 191.55,180.01 191.80,180.01 192.05,180.01 192.30,180.01 192.50,180.01"/>
<polyline clip-path="url(#cb)" fill="none" stroke="#f03535" stroke-width="1.0" stroke-linejoin="round"  points="20.80,142.16 21.05,142.20 21.30,143.64 21.55,145.08 21.80,145.69 22.05,145.69 22.30,145.69 22.55,145.69 22.80,145.69 23.05,145.69 23.30,145.69 23.55,145.69 23.80,145.69 24.05,145.69 24.30,145.69 24.55,145.69 24.80,145.69 25.05,145.69 25.30,144.79 25.55,143.35 25.80,141.92 26.05,142.45 26.30,143.89 26.55,145.77 26.80,149.96 27.05,153.22 27.30,156.06 27.55,158.96 27.80,162.49 28.05,167.05 28.30,172.75 28.55,178.86 28.80,183.95 29.05,187.92 29.30,191.05 29.55,193.85 29.80,196.86 30.05,200.48 30.30,203.85 30.55,205.29 30.80,206.73 31.05,205.71 31.30,204.27 31.55,202.83 31.80,202.71 32.05,202.71 32.30,202.71 32.55,202.71 32.80,202.71 33.05,202.71 33.30,202.71 33.55,202.71 33.80,202.71 34.05,202.71 34.30,202.71 34.55,202.71 34.80,202.71 35.05,202.71 35.30,204.10 35.55,205.53 35.80,206.90 36.05,205.46 36.30,204.02 36.55,200.95 36.80,196.87 37.05,192.18 37.30,187.21 37.55,182.51 37.80,178.59 38.05,175.78 38.30,174.04 38.55,172.10 38.80,169.04 39.05,164.91 39.30,160.10 39.55,155.15 39.80,150.57 40.05,146.41 40.30,144.06 40.55,142.62 40.80,141.74 41.05,143.18 41.30,144.62 41.55,145.69 41.80,145.69 42.05,145.69 42.30,145.69 42.55,145.69 42.80,145.69 43.05,145.69 43.30,145.69 43.55,145.69 43.80,145.69 44.05,145.69 44.30,145.69 44.55,145.69 44.80,145.69 45.05,145.25 45.30,143.81 45.55,142.38 45.80,141.99 46.05,143.43 46.30,144.86 46.55,148.77 46.80,152.25 47.05,155.17 47.30,157.99 47.55,161.26 47.80,165.47 48.05,170.81 48.30,176.99 48.55,182.45 48.80,186.76 49.05,190.11 49.30,192.95 49.55,195.84 49.80,199.25 50.05,203.39 50.30,204.83 50.55,206.27 50.80,206.17 51.05,204.73 51.30,203.29 51.55,202.71 51.80,202.71 52.05,202.71 52.30,202.71 52.55,202.71 52.80,202.71 53.05,202.71 53.30,202.71 53.55,202.71 53.80,202.71 54.05,202.71 54.30,202.71 54.55,202.71 54.80,202.71 55.05,203.64 55.30,205.07 55.55,206.51 55.80,205.92 56.05,204.48 56.30,202.52 56.55,198.25 56.80,193.74 57.05,188.80 57.30,183.95 57.55,179.73 57.80,176.55 58.05,174.51 58.30,172.84 58.55,170.15 58.80,166.33 59.05,161.68 59.30,156.71 59.55,151.97 59.80,147.84 60.05,144.52 60.30,143.08 60.55,141.64 60.80,142.72 61.05,144.16 61.30,145.60 61.55,145.69 61.80,145.69 62.05,145.69 62.30,145.69 62.55,145.69 62.80,145.69 63.05,145.69 63.30,145.69 63.55,145.69 63.80,145.69 64.05,145.69 64.30,145.69 64.55,145.69 64.80,145.69 65.05,144.27 65.30,142.84 65.55,141.53 65.80,142.97 66.05,144.40 66.30,147.53 66.55,151.21 66.80,154.27 67.05,157.07 67.30,160.13 67.55,164.00 67.80,168.98 68.05,175.02 68.30,180.83 68.55,185.50 68.80,189.12 69.05,192.06 69.30,194.88 69.55,198.08 69.80,202.10 70.05,204.37 70.30,205.81 70.55,206.63 70.80,205.19 71.05,203.75 71.30,202.71 71.55,202.71 71.80,202.71 72.05,202.71 72.30,202.71 72.55,202.71 72.80,202.71 73.05,202.71 73.30,202.71 73.55,202.71 73.80,202.71 74.05,202.71 74.30,202.71 74.55,202.71 74.80,203.18 75.05,204.61 75.30,206.05 75.55,206.38 75.80,204.94 76.05,203.51 76.30,199.55 76.55,195.24 76.80,190.40 77.05,185.46 77.30,180.98 77.55,177.44 77.80,175.05 78.05,173.46 78.30,171.13 78.55,167.66 78.80,163.23 79.05,158.30 79.30,153.43 79.55,149.09 79.80,144.98 80.05,143.54 80.30,142.10 80.55,142.26 80.80,143.70 81.05,145.14 81.30,145.69 81.55,145.69 81.80,145.69 82.05,145.69 82.30,145.69 82.55,145.69 82.80,145.69 83.05,145.69 83.30,145.69 83.55,145.69 83.80,145.69 84.05,145.69 84.30,145.69 84.55,145.69 84.80,144.74 85.05,143.30 85.30,141.86 85.55,142.51 85.80,143.94 86.05,145.98 86.30,150.10 86.55,153.34 86.80,156.17 87.05,159.09 87.30,162.65 87.55,167.26 87.80,173.00 88.05,179.08 88.30,184.13 88.55,188.06 88.80,191.16 89.05,193.96 89.30,196.99 89.55,200.64 89.80,203.91 90.05,205.35 90.30,206.79 90.55,205.65 90.80,204.21 91.05,202.77 91.30,202.71 91.55,202.71 91.80,202.71 92.05,202.71 92.30,202.71 92.55,202.71 92.80,202.71 93.05,202.71 93.30,202.71 93.55,202.71 93.80,202.71 94.05,202.71 94.30,202.71 94.55,202.72 94.80,204.15 95.05,205.59 95.30,206.84 95.55,205.40 95.80,203.97 96.05,200.79 96.30,196.70 96.55,191.98 96.80,187.02 97.05,182.33 97.30,178.45 97.55,175.69 97.80,173.99 98.05,172.00 98.30,168.89 98.55,164.73 98.80,159.90 99.05,154.95 99.30,150.40 99.55,146.19 99.80,144.00 100.05,142.56 100.30,141.80 100.55,143.24 100.80,144.68 101.05,145.69 101.30,145.69 101.55,145.69 101.80,145.69 102.05,145.69 102.30,145.69 102.55,145.69 102.80,145.69 103.05,145.69 103.30,145.69 103.55,145.69 103.80,145.69 104.05,145.69 104.30,145.69 104.55,145.20 104.80,143.76 105.05,142.32 105.30,142.05 105.55,143.48 105.80,144.92 106.05,148.92 106.30,152.37 106.55,155.28 106.80,158.11 107.05,161.41 107.30,165.66 107.55,171.05 107.80,177.23 108.05,182.64 108.30,186.91 108.55,190.23 108.80,193.06 109.05,195.97 109.30,199.40 109.55,203.45 109.80,204.89 110.05,206.32 110.30,206.11 110.55,204.67 110.80,203.23 111.05,202.71 111.30,202.71 111.55,202.71 111.80,202.71 112.05,202.71 112.30,202.71 112.55,202.71 112.80,202.71 113.05,202.71 113.30,202.71 113.55,202.71 113.80,202.71 114.05,202.71 114.30,202.71 114.55,203.69 114.80,205.13 115.05,206.57 115.30,205.86 115.55,204.43 115.80,202.31 116.05,198.08 116.30,193.54 116.55,188.60 116.80,183.76 117.05,179.58 117.30,176.45 117.55,174.44 117.80,172.75 118.05,170.01 118.30,166.16 118.55,161.48 118.80,156.51 119.05,151.79 119.30,147.69 119.55,144.46 119.80,143.02 120.05,141.59 120.30,142.78 120.55,144.22 120.80,145.66 121.05,145.69 121.30,145.69 121.55,145.69 121.80,145.69 122.05,145.69 122.30,145.69 122.55,145.69 122.80,145.69 123.05,145.69 123.30,145.69 123.55,145.69 123.80,145.69 124.05,145.69 124.30,145.66 124.55,144.22 124.80,142.78 125.05,141.59 125.30,143.02 125.55,144.46 125.80,147.69 126.05,151.34 126.30,154.38 126.55,157.18 126.80,160.27 127.05,164.18 127.30,169.20 127.55,175.28 127.80,181.04 128.05,185.67 128.30,189.25 128.55,192.18 128.80,195.00 129.05,198.23 129.30,202.31 129.55,204.43 129.80,205.86 130.05,206.57 130.30,205.13 130.55,203.69 130.80,202.71 131.05,202.71 131.30,202.71 131.55,202.71 131.80,202.71 132.05,202.71 132.30,202.71 132.55,202.71 132.80,202.71 133.05,202.71 133.30,202.71 133.55,202.71 133.80,202.71 134.05,202.71 134.30,203.23 134.55,204.67 134.80,206.11 135.05,206.32 135.30,204.89 135.55,203.45 135.80,199.39 136.05,195.06 136.30,190.20 136.55,185.27 136.80,180.82 137.05,177.32 137.30,174.97 137.55,173.39 137.80,171.02 138.05,167.50 138.30,163.04 138.55,158.10 138.80,153.25 139.05,148.93 139.30,144.92 139.55,143.48 139.80,142.05 140.05,142.32 140.30,143.76 140.55,145.20 140.80,145.69 141.05,145.69 141.30,145.69 141.55,145.69 141.80,145.69 142.05,145.69 142.30,145.69 142.55,145.69 142.80,145.69 143.05,145.69 143.30,145.69 143.55,145.69 143.80,145.69 144.05,145.69 144.30,144.68 144.55,143.24 144.80,141.80 145.05,142.56 145.30,144.00 145.55,146.19 145.80,150.25 146.05,153.46 146.30,156.28 146.55,159.22 146.80,162.81 147.05,167.47 147.30,173.25 147.55,179.31 147.80,184.31 148.05,188.20 148.30,191.28 148.55,194.07 148.80,197.12 149.05,200.79 149.30,203.97 149.55,205.40 149.80,206.84 150.05,205.59 150.30,204.15 150.55,202.72 150.80,202.71 151.05,202.71 151.30,202.71 151.55,202.71 151.80,202.71 152.05,202.71 152.30,202.71 152.55,202.71 152.80,202.71 153.05,202.71 153.30,202.71 153.55,202.71 153.80,202.71 154.05,202.77 154.30,204.21 154.55,205.65 154.80,206.79 155.05,205.35 155.30,203.91 155.55,200.64 155.80,196.52 156.05,191.79 156.30,186.82 156.55,182.16 156.80,178.32 157.05,175.60 157.30,173.92 157.55,171.90 157.80,168.74 158.05,164.54 158.30,159.70 158.55,154.76 158.80,150.24 159.05,145.98 159.30,143.94 159.55,142.51 159.80,141.86 160.05,143.30 160.30,144.74 160.55,145.69 160.80,145.69 161.05,145.69 161.30,145.69 161.55,145.69 161.80,145.69 162.05,145.69 162.30,145.69 162.55,145.69 162.80,145.69 163.05,145.69 163.30,145.69 163.55,145.69 163.80,145.69 164.05,145.14 164.30,143.70 164.55,142.26 164.80,142.10 165.05,143.54 165.30,144.98 165.55,149.08 165.80,152.50 166.05,155.39 166.30,158.23 166.55,161.56 166.80,165.85 167.05,171.29 167.30,177.47 167.55,182.84 167.80,187.06 168.05,190.35 168.30,193.17 168.55,196.09 168.80,199.55 169.05,203.51 169.30,204.94 169.55,206.38 169.80,206.05 170.05,204.61 170.30,203.18 170.55,202.71 170.80,202.71 171.05,202.71 171.30,202.71 171.55,202.71 171.80,202.71 172.05,202.71 172.30,202.71 172.55,202.71 172.80,202.71 173.05,202.71 173.30,202.71 173.55,202.71 173.80,202.71 174.05,203.75 174.30,205.19 174.55,206.63 174.80,205.81 175.05,204.37 175.30,202.10 175.55,197.91 175.80,193.35 176.05,188.40 176.30,183.58 176.55,179.43 176.80,176.35 177.05,174.39 177.30,172.66 177.55,169.88 177.80,165.98 178.05,161.29 178.30,156.32 178.55,151.62 178.80,147.53 179.05,144.40 179.30,142.97 179.55,141.53 179.80,142.84 180.05,144.27 180.30,145.69 180.55,145.69 180.80,145.69 181.05,145.69 181.30,145.69 181.55,145.69 181.80,145.69 182.05,145.69 182.30,145.69 182.55,145.69 182.80,145.69 183.05,145.69 183.30,145.69 183.55,145.69 183.80,145.60 184.05,144.16 184.30,142.72 184.55,141.64 184.80,143.08 185.05,144.52 185.30,147.84 185.55,151.47 185.80,154.50 186.05,157.29 186.30,160.41 186.55,164.36 186.80,169.43 187.05,175.52 187.30,181.24 187.55,185.83 187.80,189.37 188.05,192.29 188.30,195.12 188.55,198.37 188.80,202.52 189.05,204.48 189.30,205.92 189.55,206.51 189.80,205.07 190.05,203.64 190.30,202.71 190.55,202.71 190.80,202.71 191.05,202.71 191.30,202.71 191.55,202.71 191.80,202.71 192.05,202.71 192.30,202.71 192.50,202.71"/>
<polyline clip-path="url(#cc)" fill="none" stroke="#4760e8" stroke-width="1.0" stroke-linejoin="round"  points="20.80,259.59 20.95,260.18 21.10,260.84 21.25,261.57 21.40,262.37 21.55,263.24 21.70,264.21 21.85,265.28 22.00,266.47 22.15,267.80 22.30,269.30 22.45,271.00 22.60,272.95 22.75,275.22 22.90,277.95 23.05,281.31 23.20,285.70 23.35,291.94 23.50,292.29 23.65,292.29 23.80,292.29 23.95,291.18 24.10,285.19 24.25,280.94 24.40,277.65 24.55,274.98 24.70,272.74 24.85,270.82 25.00,269.14 25.15,267.66 25.30,266.35 25.45,265.17 25.60,264.11 25.75,263.15 25.90,262.28 26.05,261.49 26.20,260.77 26.35,260.12 26.50,259.53 26.65,258.99 26.80,258.50 26.95,258.07 27.10,257.67 27.25,257.33 27.40,257.02 27.55,256.75 27.70,256.52 27.85,256.33 28.00,256.17 28.15,256.05 28.30,255.96 28.45,255.91 28.60,255.90 28.75,255.91 28.90,255.96 29.05,256.05 29.20,256.17 29.35,256.33 29.50,256.52 29.65,256.75 29.80,257.02 29.95,257.33 30.10,257.67 30.25,258.07 30.40,258.50 30.55,258.99 30.70,259.53 30.85,260.12 31.00,260.77 31.15,261.49 31.30,262.28 31.45,263.15 31.60,264.11 31.75,265.17 31.90,266.35 32.05,267.66 32.20,269.14 32.35,270.82 32.50,272.74 32.65,274.98 32.80,277.65 32.95,280.94 33.10,285.19 33.25,291.18 33.40,292.29 33.55,292.29 33.70,292.29 33.85,291.94 34.00,285.70 34.15,281.31 34.30,277.95 34.45,275.22 34.60,272.95 34.75,271.00 34.90,269.30 35.05,267.80 35.20,266.47 35.35,265.28 35.50,264.21 35.65,263.24 35.80,262.37 35.95,261.57 36.10,260.84 36.25,260.18 36.40,259.59 36.55,259.04 36.70,258.55 36.85,258.11 37.00,257.71 37.15,257.36 37.30,257.05 37.45,256.77 37.60,256.54 37.75,256.34 37.90,256.18 38.05,256.06 38.20,255.97 38.35,255.92 38.50,255.90 38.65,255.91 38.80,255.96 38.95,256.04 39.10,256.16 39.25,256.31 39.40,256.50 39.55,256.72 39.70,256.99 39.85,257.29 40.00,257.64 40.15,258.03 40.30,258.46 40.45,258.94 40.60,259.47 40.75,260.06 40.90,260.71 41.05,261.42 41.20,262.20 41.35,263.06 41.50,264.01 41.65,265.06 41.80,266.23 41.95,267.53 42.10,268.98 42.25,270.64 42.40,272.53 42.55,274.74 42.70,277.36 42.85,280.58 43.00,284.71 43.15,290.46 43.30,292.29 43.45,292.29 43.60,292.29 43.75,292.29 43.90,286.21 44.05,281.70 44.20,278.25 44.35,275.47 44.50,273.16 44.65,271.18 44.80,269.46 44.95,267.95 45.10,266.60 45.25,265.40 45.40,264.32 45.55,263.34 45.70,262.45 45.85,261.65 46.00,260.91 46.15,260.25 46.30,259.64 46.45,259.09 46.60,258.60 46.75,258.15 46.90,257.75 47.05,257.39 47.20,257.08 47.35,256.80 47.50,256.56 47.65,256.36 47.80,256.20 47.95,256.07 48.10,255.98 48.25,255.92 48.40,255.90 48.55,255.91 48.70,255.95 48.85,256.03 49.00,256.14 49.15,256.29 49.30,256.48 49.45,256.70 49.60,256.96 49.75,257.26 49.90,257.60 50.05,257.98 50.20,258.41 50.35,258.89 50.50,259.42 50.65,260.00 50.80,260.64 50.95,261.34 51.10,262.12 51.25,262.97 51.40,263.91 51.55,264.95 51.70,266.10 51.85,267.39 52.00,268.83 52.15,270.46 52.30,272.33 52.45,274.50 52.60,277.07 52.75,280.22 52.90,284.24 53.05,289.78 53.20,292.29 53.35,292.29 53.50,292.29 53.65,292.29 53.80,286.75 53.95,282.09 54.10,278.56 54.25,275.73 54.40,273.37 54.55,271.36 54.70,269.62 54.85,268.09 55.00,266.73 55.15,265.51 55.30,264.42 55.45,263.43 55.60,262.54 55.75,261.72 55.90,260.98 56.05,260.31 56.20,259.70 56.35,259.15 56.50,258.65 56.65,258.19 56.80,257.79 56.95,257.43 57.10,257.11 57.25,256.83 57.40,256.58 57.55,256.38 57.70,256.21 57.85,256.08 58.00,255.99 58.15,255.92 58.30,255.90 58.45,255.90 58.60,255.94 58.75,256.02 58.90,256.13 59.05,256.28 59.20,256.46 59.35,256.68 59.50,256.93 59.65,257.23 59.80,257.56 59.95,257.94 60.10,258.37 60.25,258.84 60.40,259.36 60.55,259.94 60.70,260.57 60.85,261.27 61.00,262.04 61.15,262.88 61.30,263.81 61.45,264.84 61.60,265.98 61.75,267.25 61.90,268.68 62.05,270.29 62.20,272.13 62.35,274.27 62.50,276.79 62.65,279.87 62.80,283.78 62.95,289.12 63.10,292.29 63.25,292.29 63.40,292.29 63.55,292.29 63.70,287.31 63.85,282.50 64.00,278.88 64.15,275.99 64.30,273.59 64.45,271.55 64.60,269.78 64.75,268.23 64.90,266.86 65.05,265.63 65.20,264.52 65.35,263.53 65.50,262.62 65.65,261.80 65.80,261.05 65.95,260.38 66.10,259.76 66.25,259.20 66.40,258.69 66.55,258.24 66.70,257.83 66.85,257.46 67.00,257.14 67.15,256.85 67.30,256.61 67.45,256.40 67.60,256.23 67.75,256.09 67.90,255.99 68.05,255.93 68.20,255.90 68.35,255.90 68.50,255.94 68.65,256.01 68.80,256.12 68.95,256.26 69.10,256.44 69.25,256.65 69.40,256.91 69.55,257.20 69.70,257.53 69.85,257.90 70.00,258.32 70.15,258.79 70.30,259.31 70.45,259.88 70.60,260.51 70.75,261.20 70.90,261.96 71.05,262.79 71.20,263.72 71.35,264.74 71.50,265.86 71.65,267.12 71.80,268.53 71.95,270.12 72.10,271.93 72.25,274.04 72.40,276.52 72.55,279.53 72.70,283.34 72.85,288.49 73.00,292.29 73.15,292.29 73.30,292.29 73.45,292.29 73.60,287.89 73.75,282.91 73.90,279.20 74.05,276.25 74.20,273.81 74.35,271.74 74.50,269.95 74.65,268.38 74.80,266.99 74.95,265.75 75.10,264.63 75.25,263.62 75.40,262.71 75.55,261.88 75.70,261.13 75.85,260.44 76.00,259.82 76.15,259.25 76.30,258.74 76.45,258.28 76.60,257.86 76.75,257.49 76.90,257.17 77.05,256.88 77.20,256.63 77.35,256.42 77.50,256.24 77.65,256.11 77.80,256.00 77.95,255.93 78.10,255.90 78.25,255.90 78.40,255.93 78.55,256.00 78.70,256.11 78.85,256.24 79.00,256.42 79.15,256.63 79.30,256.88 79.45,257.17 79.60,257.49 79.75,257.86 79.90,258.28 80.05,258.74 80.20,259.25 80.35,259.82 80.50,260.44 80.65,261.13 80.80,261.88 80.95,262.71 81.10,263.62 81.25,264.63 81.40,265.75 81.55,266.99 81.70,268.38 81.85,269.95 82.00,271.74 82.15,273.81 82.30,276.25 82.45,279.20 82.60,282.91 82.75,287.89 82.90,292.29 83.05,292.29 83.20,292.29 83.35,292.29 83.50,288.49 83.65,283.34 83.80,279.53 83.95,276.52 84.10,274.04 84.25,271.93 84.40,270.12 84.55,268.53 84.70,267.12 84.85,265.86 85.00,264.74 85.15,263.72 85.30,262.79 85.45,261.96 85.60,261.20 85.75,260.51 85.90,259.88 86.05,259.31 86.20,258.79 86.35,258.32 86.50,257.90 86.65,257.53 86.80,257.20 86.95,256.91 87.10,256.65 87.25,256.44 87.40,256.26 87.55,256.12 87.70,256.01 87.85,255.94 88.00,255.90 88.15,255.90 88.30,255.93 88.45,255.99 88.60,256.09 88.75,256.23 88.90,256.40 89.05,256.61 89.20,256.85 89.35,257.14 89.50,257.46 89.65,257.83 89.80,258.24 89.95,258.69 90.10,259.20 90.25,259.76 90.40,260.38 90.55,261.05 90.70,261.80 90.85,262.62 91.00,263.53 91.15,264.52 91.30,265.63 91.45,266.86 91.60,268.23 91.75,269.78 91.90,271.55 92.05,273.59 92.20,275.99 92.35,278.88 92.50,282.50 92.65,287.31 92.80,292.29 92.95,292.29 93.10,292.29 93.25,292.29 93.40,289.12 93.55,283.78 93.70,279.87 93.85,276.79 94.00,274.27 94.15,272.13 94.30,270.29 94.45,268.68 94.60,267.25 94.75,265.98 94.90,264.84 95.05,263.81 95.20,262.88 95.35,262.04 95.50,261.27 95.65,260.57 95.80,259.94 95.95,259.36 96.10,258.84 96.25,258.37 96.40,257.94 96.55,257.56 96.70,257.23 96.85,256.93 97.00,256.68 97.15,256.46 97.30,256.28 97.45,256.13 97.60,256.02 97.75,255.94 97.90,255.90 98.05,255.90 98.20,255.92 98.35,255.99 98.50,256.08 98.65,256.21 98.80,256.38 98.95,256.58 99.10,256.83 99.25,257.11 99.40,257.43 99.55,257.79 99.70,258.19 99.85,258.65 100.00,259.15 100.15,259.70 100.30,260.31 100.45,260.98 100.60,261.72 100.75,262.54 100.90,263.43 101.05,264.42 101.20,265.51 101.35,266.73 101.50,268.09 101.65,269.62 101.80,271.36 101.95,273.37 102.10,275.73 102.25,278.56 102.40,282.09 102.55,286.75 102.70,292.29 102.85,292.29 103.00,292.29 103.15,292.29 103.30,289.78 103.45,284.24 103.60,280.22 103.75,277.07 103.90,274.50 104.05,272.33 104.20,270.46 104.35,268.83 104.50,267.39 104.65,266.10 104.80,264.95 104.95,263.91 105.10,262.97 105.25,262.12 105.40,261.34 105.55,260.64 105.70,260.00 105.85,259.42 106.00,258.89 106.15,258.41 106.30,257.98 106.45,257.60 106.60,257.26 106.75,256.96 106.90,256.70 107.05,256.48 107.20,256.29 107.35,256.14 107.50,256.03 107.65,255.95 107.80,255.91 107.95,255.90 108.10,255.92 108.25,255.98 108.40,256.07 108.55,256.20 108.70,256.36 108.85,256.56 109.00,256.80 109.15,257.08 109.30,257.39 109.45,257.75 109.60,258.15 109.75,258.60 109.90,259.09 110.05,259.64 110.20,260.25 110.35,260.91 110.50,261.65 110.65,262.45 110.80,263.34 110.95,264.32 111.10,265.40 111.25,266.60 111.40,267.95 111.55,269.46 111.70,271.18 111.85,273.16 112.00,275.47 112.15,278.25 112.30,281.70 112.45,286.21 112.60,292.29 112.75,292.29 112.90,292.29 113.05,292.29 113.20,290.46 113.35,284.71 113.50,280.58 113.65,277.36 113.80,274.74 113.95,272.53 114.10,270.64 114.25,268.98 114.40,267.53 114.55,266.23 114.70,265.06 114.85,264.01 115.00,263.06 115.15,262.20 115.30,261.42 115.45,260.71 115.60,260.06 115.75,259.47 115.90,258.94 116.05,258.46 116.20,258.03 116.35,257.64 116.50,257.29 116.65,256.99 116.80,256.72 116.95,256.50 117.10,256.31 117.25,256.16 117.40,256.04 117.55,255.96 117.70,255.91 117.85,255.90 118.00,255.92 118.15,255.97 118.30,256.06 118.45,256.18 118.60,256.34 118.75,256.54 118.90,256.77 119.05,257.05 119.20,257.36 119.35,257.71 119.50,258.11 119.65,258.55 119.80,259.04 119.95,259.59 120.10,260.18 120.25,260.84 120.40,261.57 120.55,262.37 120.70,263.24 120.85,264.21 121.00,265.28 121.15,266.47 121.30,267.80 121.45,269.30 121.60,271.00 121.75,272.95 121.90,275.22 122.05,277.95 122.20,281.31 122.35,285.70 122.50,291.94 122.65,292.29 122.80,292.29 122.95,292.29 123.10,291.18 123.25,285.19 123.40,280.94 123.55,277.65 123.70,274.98 123.85,272.74 124.00,270.82 124.15,269.14 124.30,267.66 124.45,266.35 124.60,265.17 124.75,264.11 124.90,263.15 125.05,262.28 125.20,261.49 125.35,260.77 125.50,260.12 125.65,259.53 125.80,258.99 125.95,258.50 126.10,258.07 126.25,257.67 126.40,257.33 126.55,257.02 126.70,256.75 126.85,256.52 127.00,256.33 127.15,256.17 127.30,256.05 127.45,255.96 127.60,255.91 127.75,255.90 127.90,255.91 128.05,255.96 128.20,256.05 128.35,256.17 128.50,256.33 128.65,256.52 128.80,256.75 128.95,257.02 129.10,257.33 129.25,257.67 129.40,258.07 129.55,258.50 129.70,258.99 129.85,259.53 130.00,260.12 130.15,260.77 130.30,261.49 130.45,262.28 130.60,263.15 130.75,264.11 130.90,265.17 131.05,266.35 131.20,267.66 131.35,269.14 131.50,270.82 131.65,272.74 131.80,274.98 131.95,277.65 132.10,280.94 132.25,285.19 132.40,291.18 132.55,292.29 132.70,292.29 132.85,292.29 133.00,291.94 133.15,285.70 133.30,281.31 133.45,277.95 133.60,275.22 133.75,272.95 133.90,271.00 134.05,269.30 134.20,267.80 134.35,266.47 134.50,265.28 134.65,264.21 134.80,263.24 134.95,262.37 135.10,261.57 135.25,260.84 135.40,260.18 135.55,259.59 135.70,259.04 135.85,258.55 136.00,258.11 136.15,257.71 136.30,257.36 136.45,257.05 136.60,256.77 136.75,256.54 136.90,256.34 137.05,256.18 137.20,256.06 137.35,255.97 137.50,255.92 137.65,255.90 137.80,255.91 137.95,255.96 138.10,256.04 138.25,256.16 138.40,256.31 138.55,256.50 138.70,256.72 138.85,256.99 139.00,257.29 139.15,257.64 139.30,258.03 139.45,258.46 139.60,258.94 139.75,259.47 139.90,260.06 140.05,260.71 140.20,261.42 140.35,262.20 140.50,263.06 140.65,264.01 140.80,265.06 140.95,266.23 141.10,267.53 141.25,268.98 141.40,270.64 141.55,272.53 141.70,274.74 141.85,277.36 142.00,280.58 142.15,284.71 142.30,290.46 142.45,292.29 142.60,292.29 142.75,292.29 142.90,292.29 143.05,286.21 143.20,281.70 143.35,278.25 143.50,275.47 143.65,273.16 143.80,271.18 143.95,269.46 144.10,267.95 144.25,266.60 144.40,265.40 144.55,264.32 144.70,263.34 144.85,262.45 145.00,261.65 145.15,260.91 145.30,260.25 145.45,259.64 145.60,259.09 145.75,258.60 145.90,258.15 146.05,257.75 146.20,257.39 146.35,257.08 146.50,256.80 146.65,256.56 146.80,256.36 146.95,256.20 147.10,256.07 147.25,255.98 147.40,255.92 147.55,255.90 147.70,255.91 147.85,255.95 148.00,256.03 148.15,256.14 148.30,256.29 148.45,256.48 148.60,256.70 148.75,256.96 148.90,257.26 149.05,257.60 149.20,257.98 149.35,258.41 149.50,258.89 149.65,259.42 149.80,260.00 149.95,260.64 150.10,261.34 150.25,262.12 150.40,262.97 150.55,263.91 150.70,264.95 150.85,266.10 151.00,267.39 151.15,268.83 151.30,270.46 151.45,272.33 151.60,274.50 151.75,277.07 151.90,280.22 152.05,284.24 152.20,289.78 152.35,292.29 152.50,292.29 152.65,292.29 152.80,292.29 152.95,286.75 153.10,282.09 153.25,278.56 153.40,275.73 153.55,273.37 153.70,271.36 153.85,269.62 154.00,268.09 154.15,266.73 154.30,265.51 154.45,264.42 154.60,263.43 154.75,262.54 154.90,261.72 155.05,260.98 155.20,260.31 155.35,259.70 155.50,259.15 155.65,258.65 155.80,258.19 155.95,257.79 156.10,257.43 156.25,257.11 156.40,256.83 156.55,256.58 156.70,256.38 156.85,256.21 157.00,256.08 157.15,255.99 157.30,255.92 157.45,255.90 157.60,255.90 157.75,255.94 157.90,256.02 158.05,256.13 158.20,256.28 158.35,256.46 158.50,256.68 158.65,256.93 158.80,257.23 158.95,257.56 159.10,257.94 159.25,258.37 159.40,258.84 159.55,259.36 159.70,259.94 159.85,260.57 160.00,261.27 160.15,262.04 160.30,262.88 160.45,263.81 160.60,264.84 160.75,265.98 160.90,267.25 161.05,268.68 161.20,270.29 161.35,272.13 161.50,274.27 161.65,276.79 161.80,279.87 161.95,283.78 162.10,289.12 162.25,292.29 162.40,292.29 162.55,292.29 162.70,292.29 162.85,287.31 163.00,282.50 163.15,278.88 163.30,275.99 163.45,273.59 163.60,271.55 163.75,269.78 163.90,268.23 164.05,266.86 164.20,265.63 164.35,264.52 164.50,263.53 164.65,262.62 164.80,261.80 164.95,261.05 165.10,260.38 165.25,259.76 165.40,259.20 165.55,258.69 165.70,258.24 165.85,257.83 166.00,257.46 166.15,257.14 166.30,256.85 166.45,256.61 166.60,256.40 166.75,256.23 166.90,256.09 167.05,255.99 167.20,255.93 167.35,255.90 167.50,255.90 167.65,255.94 167.80,256.01 167.95,256.12 168.10,256.26 168.25,256.44 168.40,256.65 168.55,256.91 168.70,257.20 168.85,257.53 169.00,257.90 169.15,258.32 169.30,258.79 169.45,259.31 169.60,259.88 169.75,260.51 169.90,261.20 170.05,261.96 170.20,262.79 170.35,263.72 170.50,264.74 170.65,265.86 170.80,267.12 170.95,268.53 171.10,270.12 171.25,271.93 171.40,274.04 171.55,276.52 171.70,279.53 171.85,283.34 172.00,288.49 172.15,292.29 172.30,292.29 172.45,292.29 172.60,292.29 172.75,287.89 172.90,282.91 173.05,279.20 173.20,276.25 173.35,273.81 173.50,271.74 173.65,269.95 173.80,268.38 173.95,266.99 174.10,265.75 174.25,264.63 174.40,263.62 174.55,262.71 174.70,261.88 174.85,261.13 175.00,260.44 175.15,259.82 175.30,259.25 175.45,258.74 175.60,258.28 175.75,257.86 175.90,257.49 176.05,257.17 176.20,256.88 176.35,256.63 176.50,256.42 176.65,256.24 176.80,256.11 176.95,256.00 177.10,255.93 177.25,255.90 177.40,255.90 177.55,255.93 177.70,256.00 177.85,256.11 178.00,256.24 178.15,256.42 178.30,256.63 178.45,256.88 178.60,257.17 178.75,257.49 178.90,257.86 179.05,258.28 179.20,258.74 179.35,259.25 179.50,259.82 179.65,260.44 179.80,261.13 179.95,261.88 180.10,262.71 180.25,263.62 180.40,264.63 180.55,265.75 180.70,266.99 180.85,268.38 181.00,269.95 181.15,271.74 181.30,273.81 181.45,276.25 181.60,279.20 181.75,282.91 181.90,287.89 182.05,292.29 182.20,292.29 182.35,292.29 182.50,292.29 182.65,288.49 182.80,283.34 182.95,279.53 183.10,276.52 183.25,274.04 183.40,271.93 183.55,270.12 183.70,268.53 183.85,267.12 184.00,265.86 184.15,264.74 184.30,263.72 184.45,262.79 184.60,261.96 184.75,261.20 184.90,260.51 185.05,259.88 185.20,259.31 185.35,258.79 185.50,258.32 185.65,257.90 185.80,257.53 185.95,257.20 186.10,256.91 186.25,256.65 186.40,256.44 186.55,256.26 186.70,256.12 186.85,256.01 187.00,255.94 187.15,255.90 187.30,255.90 187.45,255.93 187.60,255.99 187.75,256.09 187.90,256.23 188.05,256.40 188.20,256.61 188.35,256.85 188.50,257.14 188.65,257.46 188.80,257.83 188.95,258.24 189.10,258.69 189.25,259.20 189.40,259.76 189.55,260.38 189.70,261.05 189.85,261.80 190.00,262.62 190.15,263.53 190.30,264.52 190.45,265.63 190.60,266.86 190.75,268.23 190.90,269.78 191.05,271.55 191.20,273.59 191.35,275.99 191.50,278.88 191.65,282.50 191.80,287.31 191.95,292.29 192.10,292.29 192.25,292.29 192.40,292.29 192.50,291.43"/>
<polyline clip-path="url(#cc)" fill="none" stroke="#f03535" stroke-width="0.85" stroke-linejoin="round"  points="-1.27,333.51 -0.91,317.66 0.08,301.00 0.92,295.70 2.37,294.19 3.90,294.56 5.06,295.70 5.95,310.09 6.61,314.40 7.18,310.09 7.71,311.14 8.70,330.39 8.99,317.66 9.81,301.00 10.95,295.70 12.39,294.19 13.75,294.56 14.76,295.70 16.06,310.09 16.69,312.49 17.19,310.09 17.70,311.15 18.54,321.86 19.13,317.66 19.70,301.00 20.92,295.70 22.19,294.19 23.88,294.56 24.73,295.70 25.85,310.09 26.49,317.02 27.14,310.09 27.73,319.40 28.50,326.15 29.00,317.66 29.66,301.00 30.66,295.70 32.18,294.19 33.60,294.56 34.80,295.70 35.92,310.09 36.30,316.34 36.95,310.09 37.57,320.87 38.44,333.47 38.82,317.66 39.52,301.00 40.59,295.70 42.05,294.19 43.47,294.56 44.57,295.70 45.63,310.09 46.38,315.58 47.04,310.09 47.56,315.62 48.37,317.17 48.70,317.66 49.53,301.00 50.53,295.70 52.08,294.19 53.51,294.56 54.61,295.70 55.49,310.09 56.14,313.17 56.76,310.09 57.39,321.76 58.22,332.33 58.58,317.66 59.31,301.00 60.50,295.70 61.72,294.19 63.42,294.56 64.30,295.70 65.56,310.09 66.20,312.80 66.72,310.09 67.49,315.35 68.24,332.41 68.56,317.66 69.31,301.00 70.50,295.70 71.90,294.19 73.48,294.56 74.34,295.70 75.53,310.09 76.02,316.47 76.58,310.09 77.13,315.81 78.08,320.69 78.54,317.66 79.17,301.00 80.42,295.70 81.80,294.19 83.36,294.56 84.24,295.70 85.26,310.09 85.98,318.26 86.61,310.09 87.27,310.78 87.88,331.07 88.49,317.66 89.14,301.00 90.40,295.70 91.66,294.19 93.33,294.56 94.24,295.70 95.23,310.09 95.75,317.15 96.50,310.09 97.20,310.84 97.91,329.14 98.37,317.66 99.07,301.00 100.32,295.70 101.46,294.19 103.04,294.56 104.11,295.70 105.12,310.09 105.77,314.31 106.54,310.09 106.88,311.75 107.97,332.91 108.39,317.66 108.93,301.00 110.14,295.70 111.30,294.19 112.97,294.56 113.97,295.70 115.13,310.09 115.81,317.99 116.33,310.09 117.01,312.50 117.82,329.66 118.11,317.66 119.03,301.00 120.06,295.70 121.33,294.19 122.90,294.56 123.85,295.70 125.04,310.09 125.68,313.12 126.35,310.09 126.92,318.94 127.71,327.38 127.99,317.66 128.72,301.00 130.06,295.70 131.21,294.19 132.90,294.56 133.83,295.70 134.91,310.09 135.50,317.02 136.23,310.09 136.85,316.08 137.43,333.01 137.99,317.66 138.77,301.00 139.96,295.70 141.07,294.19 142.78,294.56 143.73,295.70 144.99,310.09 145.39,313.10 146.16,310.09 146.61,321.92 147.45,318.71 147.81,317.66 148.70,301.00 149.92,295.70 151.03,294.19 152.72,294.56 153.61,295.70 154.76,310.09 155.30,315.82 156.04,310.09 156.58,310.71 157.53,319.90 157.75,317.66 158.45,301.00 159.74,295.70 161.07,294.19 162.59,294.56 163.46,295.70 164.84,310.09 165.41,313.21 166.01,310.09 166.41,313.42 167.43,321.12 167.88,317.66 168.59,301.00 169.55,295.70 170.93,294.19 172.65,294.56 173.46,295.70 174.58,310.09 175.08,316.52 175.74,310.09 176.31,315.70 177.26,330.67 177.67,317.66 178.32,301.00 179.39,295.70 180.83,294.19 182.50,294.56 183.55,295.70 184.63,310.09 185.23,314.19 185.72,310.09 186.26,315.23 187.15,333.42 187.52,317.66 188.25,301.00 189.57,295.70 190.61,294.19 192.47,294.56 193.31,295.70 194.53,310.09 195.06,313.03 195.72,310.09 196.22,315.45 196.96,331.44 197.42,317.66 198.18,301.00 199.22,295.70 200.78,294.19 202.13,294.56 203.38,295.70 204.21,310.09 204.97,316.33 205.42,310.09 206.29,316.06"/>
<polyline clip-path="url(#cd)" fill="none" stroke="#4760e8" stroke-width="1.3" stroke-linejoin="round"  points="227.60,6.60 227.85,10.33 228.10,13.93 228.35,17.40 228.60,20.74 228.85,23.97 229.10,27.09 229.35,30.09 229.60,32.99 229.85,35.79 230.10,38.49 230.35,41.09 230.60,43.60 230.85,46.02 231.10,48.36 231.35,50.62 231.60,52.79 231.85,54.89 232.10,56.91 232.35,58.86 232.60,60.75 232.85,62.56 233.10,64.32 233.35,66.01 233.60,67.64 233.85,69.21 234.10,70.73 234.35,72.19 234.60,73.61 234.85,74.97 235.10,76.28 235.35,77.55 235.60,78.78 235.85,79.96 236.10,81.10 236.35,82.19 236.60,83.25 236.85,84.28 237.10,85.26 237.35,86.21 237.60,87.13 237.85,88.02 238.10,88.87 238.35,89.69 238.60,90.49 238.85,91.25 239.10,91.99 239.35,92.71 239.60,93.40 239.85,94.06 240.10,94.70 240.35,95.32 240.60,95.91 240.85,96.49 241.10,97.04 241.35,97.58 241.60,98.10 241.85,98.59 242.10,99.07 242.35,99.54 242.60,99.99 242.85,100.42 243.10,100.83 243.35,101.23 243.60,101.62 243.85,101.99 244.10,102.36 244.35,102.70 244.60,103.04 244.85,103.36 245.10,103.67 245.35,103.97 245.60,104.27 245.85,104.55 246.10,104.82 246.35,105.08 246.60,105.33 246.85,105.57 247.10,105.80 247.35,106.03 247.60,106.25 247.85,106.46 248.10,106.66 248.35,106.86 248.60,107.05 248.85,107.23 249.10,107.40 249.35,107.57 249.60,107.74 249.85,107.89 250.10,108.05 250.35,108.19 250.60,108.33 250.85,108.47 251.10,108.60 251.35,108.73 251.60,108.85 251.85,108.97 252.10,109.08 252.35,109.19 252.60,109.30 252.85,109.40 253.10,109.50 253.35,109.60 253.60,109.69 253.85,109.78 254.10,109.86 254.35,109.95 254.60,110.02 254.85,110.10 255.10,110.18 255.35,110.25 255.60,110.32 255.85,110.38 256.10,110.45 256.35,110.51 256.60,110.57 256.85,110.63 257.10,110.68 257.35,110.74 257.60,110.79 257.85,110.84 258.10,110.89 258.35,110.93 258.60,110.98 258.85,111.02 259.10,111.06 259.35,111.10 259.60,111.14 259.85,111.18 260.10,111.21 260.35,111.25 260.60,111.28 260.85,111.31 261.10,111.35 261.35,111.38 261.60,111.41 261.85,111.43 262.10,111.46 262.35,111.49 262.60,111.51 262.85,111.54 263.10,111.56 263.35,111.58 263.60,111.60 263.85,111.62 264.10,111.65 264.35,111.66 264.60,111.68 264.85,111.70 265.10,111.72 265.35,111.74 265.60,111.75 265.85,111.77 266.10,111.78 266.35,111.80 266.60,111.81 266.85,111.83 267.10,111.84 267.35,111.85 267.60,111.86 267.85,111.88 268.10,111.89 268.35,111.90 268.60,111.91 268.85,111.92 269.10,111.93 269.35,111.94 269.60,111.95 269.85,111.96 270.10,111.97 270.35,111.97 270.60,111.98 270.85,111.99 271.10,112.00 271.35,112.00 271.60,112.01 271.85,112.02 272.10,112.02 272.35,112.03 272.60,112.04 272.85,112.04 273.10,112.05 273.35,112.05 273.60,112.06 273.85,112.06 274.10,112.07 274.35,112.07 274.60,112.08 274.85,112.08 275.10,112.09 275.35,112.09 275.60,112.09 275.85,112.10 276.10,112.10 276.35,112.10 276.60,112.11 276.85,112.11 277.10,112.11 277.35,112.12 277.60,112.12 277.85,112.12 278.10,112.13 278.35,112.13 278.60,112.13 278.85,112.13 279.10,112.14 279.35,112.14 279.60,112.14 279.85,112.14 280.10,112.14 280.35,112.15 280.60,112.15 280.85,112.15 281.10,112.15 281.35,112.15 281.60,112.16 281.85,112.16 282.10,112.16 282.35,112.16 282.60,112.16 282.85,112.16 283.10,112.16 283.35,112.17 283.60,112.17 283.85,112.17 284.10,112.17 284.35,112.17 284.60,112.17 284.85,112.17 285.10,112.17 285.35,112.17 285.60,112.17 285.85,112.18 286.10,112.18 286.35,112.18 286.60,112.18 286.85,112.18 287.10,112.18 287.35,112.18 287.60,112.18 287.85,112.18 288.10,112.18 288.35,112.18 288.60,112.18 288.85,112.18 289.10,112.18 289.35,112.19 289.60,112.19 289.85,112.19 290.10,112.19 290.35,112.19 290.60,112.19 290.85,112.19 291.10,112.19 291.35,112.19 291.60,112.19 291.85,112.19 292.10,112.19 292.35,112.19 292.60,112.19 292.85,112.19 293.10,112.19 293.35,112.19 293.60,112.19 293.85,112.19 294.10,112.19 294.35,112.19 294.60,112.19 294.85,112.19 295.10,112.19 295.35,112.19 295.60,112.19 295.85,112.19 296.10,112.19 296.35,112.19 296.60,112.19 296.85,112.20 297.10,112.20 297.35,112.20 297.60,112.20 297.85,112.20 298.10,112.20 298.35,112.20 298.60,112.20 298.85,112.20 299.10,112.20 299.35,112.20 299.60,112.20 299.85,112.20 300.10,112.20 300.35,112.20 300.60,112.20 300.85,112.20 301.10,112.20 301.35,112.20 301.60,112.20 301.85,112.20 302.10,112.20 302.35,112.20 302.60,112.20 302.85,112.20 303.10,112.20 303.35,112.20 303.60,112.20 303.85,112.20 304.10,112.20 304.35,112.20 304.60,112.20 304.85,112.20 305.10,112.20 305.35,112.20 305.60,112.20 305.85,112.20 306.10,112.20 306.35,112.20 306.60,112.20 306.85,112.20 307.10,112.20 307.35,112.20 307.60,112.20 307.85,112.20 308.10,112.20 308.35,112.20 308.60,112.20 308.85,112.20 309.10,112.20 309.35,112.20 309.60,112.20 309.85,112.20 310.10,112.20 310.35,112.20 310.60,112.20 310.85,112.20 311.10,112.20 311.35,112.20 311.60,112.20 311.85,112.20 312.10,112.20 312.35,112.20 312.60,112.20 312.85,112.20 313.10,112.20 313.35,112.20 313.60,112.20 313.85,112.20 314.10,112.20 314.35,112.20 314.60,112.20 314.85,112.20 315.10,112.20 315.35,112.20 315.60,112.20 315.85,112.20 316.10,112.20 316.35,112.20 316.60,112.20 316.85,112.20 317.10,112.20 317.35,112.20 317.60,112.20 317.85,112.20 318.10,112.20 318.35,112.20 318.60,112.20 318.85,112.20 319.10,112.20 319.35,112.20 319.60,112.20 319.85,112.20 320.10,112.20 320.35,112.20 320.60,112.20 320.85,112.20 321.10,112.20 321.35,112.20 321.60,112.20 321.85,112.20 322.10,112.20 322.35,112.20 322.60,112.20 322.85,112.20 323.10,112.20 323.35,112.20 323.60,112.20 323.85,112.20 324.10,112.20 324.35,112.20 324.60,112.20 324.85,112.20 325.10,112.20 325.35,112.20 325.60,112.20 325.85,112.20 326.10,112.20 326.35,112.20 326.60,112.20 326.85,112.20 327.10,112.20 327.35,112.20 327.60,112.20 327.85,112.20 328.10,112.20 328.35,112.20 328.60,112.20 328.85,112.20 329.10,112.20 329.35,112.20 329.60,112.20 329.85,112.20 330.10,112.20 330.35,112.20 330.60,112.20 330.85,112.20 331.10,112.20 331.35,112.20 331.60,112.20 331.85,112.20 332.10,112.20 332.35,112.20 332.60,112.20 332.85,112.20 333.10,112.20 333.35,112.20 333.60,112.20 333.85,112.20 334.10,112.20 334.35,112.20 334.60,112.20 334.85,112.20 335.10,112.20 335.35,112.20 335.60,112.20 335.85,112.20 336.10,112.20 336.35,112.20 336.60,112.20 336.85,112.20 337.10,112.20 337.35,112.20 337.60,112.20 337.85,112.20 338.10,112.20 338.35,112.20 338.60,112.20 338.85,112.20 339.10,112.20 339.35,112.20 339.60,112.20 339.85,112.20 340.10,112.20 340.35,112.20 340.60,112.20 340.85,112.20 341.10,112.20 341.35,112.20 341.60,112.20 341.85,112.20 342.10,112.20 342.35,112.20 342.60,112.20 342.85,112.20 343.10,112.20 343.35,112.20 343.60,112.20 343.85,112.20 344.10,112.20 344.35,112.20 344.60,112.20 344.85,112.20 345.10,112.20 345.35,112.20 345.60,112.20 345.85,112.20 346.10,112.20 346.35,112.20 346.60,112.20 346.85,112.20 347.10,112.20 347.35,112.20 347.60,112.20 347.85,112.20 348.10,112.20 348.35,112.20 348.60,112.20 348.85,112.20 349.10,112.20 349.35,112.20 349.60,112.20 349.85,112.20 350.10,112.20 350.35,112.20 350.60,112.20 350.85,112.20 351.10,112.20 351.35,112.20 351.60,112.20 351.85,112.20 352.10,112.20 352.35,112.20 352.60,112.20 352.85,112.20 353.10,112.20 353.35,112.20 353.60,112.20 353.85,112.20 354.10,112.20 354.35,112.20 354.60,112.20 354.85,112.20 355.10,112.20 355.35,112.20 355.60,112.20 355.85,112.20 356.10,112.20 356.35,112.20 356.60,112.20 356.85,112.20 357.10,112.20 357.35,112.20 357.60,112.20 357.85,112.20 358.10,112.20 358.35,112.20 358.60,112.20 358.85,112.20 359.10,112.20 359.35,112.20 359.60,112.20 359.85,112.20 360.10,112.20 360.35,112.20 360.60,112.20 360.85,112.20 361.10,112.20 361.35,112.20 361.60,112.20 361.85,112.20 362.10,112.20 362.35,112.20 362.60,112.20 362.85,112.20 363.10,112.20 363.35,112.20 363.60,112.20 363.85,112.20 364.10,112.20 364.35,112.20 364.60,112.20 364.85,112.20 365.10,112.20 365.35,112.20 365.60,112.20 365.85,112.20 366.10,112.20 366.35,112.20 366.60,112.20 366.85,112.20 367.10,112.20 367.35,112.20 367.60,112.20 367.85,112.20 368.10,112.20 368.35,112.20 368.60,112.20 368.85,112.20 369.10,112.20 369.35,112.20 369.60,112.20 369.85,112.20 370.10,112.20 370.35,112.20 370.60,112.20 370.85,112.20 371.10,112.20 371.35,112.20 371.60,112.20 371.85,112.20 372.10,112.20 372.35,112.20 372.60,112.20 372.85,112.20 373.10,112.20 373.35,112.20 373.60,112.20 373.85,112.20 374.10,112.20 374.35,112.20 374.60,112.20 374.85,112.20 375.10,112.20 375.35,112.20 375.60,112.20 375.85,112.20 376.10,112.20 376.35,112.20 376.60,112.20 376.85,112.20 377.10,112.20 377.35,112.20 377.60,112.20 377.85,112.20 378.10,112.20 378.35,112.20 378.60,112.20 378.85,112.20 379.10,112.20 379.35,112.20 379.60,112.20 379.85,112.20 380.10,112.20 380.35,112.20 380.60,112.20 380.85,112.20 381.10,112.20 381.35,112.20 381.60,112.20 381.85,112.20 382.10,112.20 382.35,112.20 382.60,112.20 382.85,112.20 383.10,112.20 383.35,112.20 383.60,112.20 383.85,112.20 384.10,112.20 384.35,112.20 384.60,112.20 384.85,112.20 385.10,112.20 385.35,112.20 385.60,112.20 385.85,112.20 386.10,112.20 386.35,112.20 386.60,112.20 386.85,112.20 387.10,112.20 387.35,112.20 387.60,112.20 387.85,112.20 388.10,112.20 388.35,112.20 388.60,112.20 388.85,112.20 389.10,112.20 389.35,112.20 389.60,112.20 389.85,112.20 390.10,112.20 390.35,112.20 390.60,112.20 390.85,112.20 391.10,112.20 391.35,112.20 391.60,112.20 391.85,112.20 392.10,112.20 392.35,112.20 392.60,112.20 392.85,112.20 393.10,112.20 393.35,112.20 393.60,112.20 393.85,112.20 394.10,112.20 394.35,112.20 394.60,112.20 394.85,112.20 395.10,112.20 395.35,112.20 395.60,112.20 395.85,112.20 396.10,112.20 396.35,112.20 396.60,112.20 396.85,112.20 397.10,112.20 397.35,112.20 397.60,112.20 397.85,112.20 398.10,112.20 398.35,112.20 398.60,112.20 398.70,112.20"/>
<line x1="227.60" y1="111.90" x2="398.70" y2="111.90" stroke="#f03535" stroke-width="1.3"/>
<polyline clip-path="url(#ce)" fill="none" stroke="#f03535" stroke-width="1.0" stroke-linejoin="round"  points="227.60,179.33 227.70,189.93 227.80,199.80 227.90,208.55 228.00,213.52 228.10,206.76 228.20,198.74 228.30,190.30 228.40,181.79 228.50,173.44 228.60,165.44 228.70,157.92 228.80,151.00 228.90,144.78 229.00,139.35 229.10,134.76 229.20,131.07 229.30,128.30 229.40,126.49 229.50,125.62 229.60,125.69 229.70,126.68 229.80,128.56 229.90,131.28 230.00,134.79 230.10,139.03 230.20,143.92 230.30,149.38 230.40,155.33 230.50,161.68 230.60,168.33 230.70,175.18 230.80,182.13 230.90,189.07 231.00,195.89 231.10,202.46 231.20,208.64 231.30,214.22 231.40,218.73 231.50,216.00 231.60,211.25 231.70,206.15 231.80,200.94 231.90,195.81 232.00,190.84 232.10,186.16 232.20,181.81 232.30,177.89 232.40,174.42 232.50,171.46 232.60,169.04 232.70,167.18 232.80,165.89 232.90,165.19 233.00,165.06 233.10,165.50 233.20,166.49 233.30,168.00 233.40,170.00 233.50,172.46 233.60,175.33 233.70,178.57 233.80,182.12 233.90,185.93 234.00,189.94 234.10,194.09 234.20,198.33 234.30,202.57 234.40,206.77 234.50,210.83 234.60,214.69 234.70,218.22 234.80,221.24 234.90,221.07 235.00,218.29 235.10,215.21 235.20,212.04 235.30,208.88 235.40,205.82 235.50,202.90 235.60,200.18 235.70,197.70 235.80,195.50 235.90,193.59 236.00,192.01 236.10,190.77 236.20,189.88 236.30,189.35 236.40,189.16 236.50,189.33 236.60,189.83 236.70,190.66 236.80,191.80 236.90,193.22 237.00,194.90 237.10,196.81 237.20,198.92 237.30,201.21 237.40,203.62 237.50,206.14 237.60,208.71 237.70,211.31 237.80,213.88 237.90,216.39 238.00,218.79 238.10,221.02 238.20,222.98 238.30,223.81 238.40,222.22 238.50,220.37 238.60,218.45 238.70,216.51 238.80,214.62 238.90,212.80 239.00,211.10 239.10,209.54 239.20,208.15 239.30,206.93 239.40,205.90 239.50,205.08 239.60,204.48 239.70,204.08 239.80,203.91 239.90,203.94 240.00,204.19 240.10,204.64 240.20,205.28 240.30,206.09 240.40,207.07 240.50,208.20 240.60,209.46 240.70,210.82 240.80,212.28 240.90,213.80 241.00,215.36 241.10,216.94 241.20,218.52 241.30,220.07 241.40,221.56 241.50,222.95 241.60,224.21 241.70,225.19 241.80,224.39 241.90,223.30 242.00,222.13 242.10,220.95 242.20,219.78 242.30,218.66 242.40,217.60 242.50,216.62 242.60,215.73 242.70,214.95 242.80,214.29 242.90,213.75 243.00,213.34 243.10,213.06 243.20,212.92 243.30,212.90 243.40,213.01 243.50,213.25 243.60,213.61 243.70,214.07 243.80,214.64 243.90,215.31 244.00,216.05 244.10,216.86 244.20,217.74 244.30,218.65 244.40,219.60 244.50,220.57 244.60,221.53 244.70,222.49 244.80,223.41 244.90,224.28 245.00,225.08 245.10,225.75 245.20,225.59 245.30,224.95 245.40,224.24 245.50,223.52 245.60,222.80 245.70,222.11 245.80,221.45 245.90,220.83 246.00,220.27 246.10,219.78 246.20,219.35 246.30,219.00 246.40,218.73 246.50,218.53 246.60,218.42 246.70,218.38 246.80,218.43 246.90,218.55 247.00,218.75 247.10,219.01 247.20,219.34 247.30,219.73 247.40,220.17 247.50,220.66 247.60,221.18 247.70,221.73 247.80,222.31 247.90,222.89 248.00,223.49 248.10,224.07 248.20,224.64 248.30,225.18 248.40,225.69 248.50,226.12 248.60,226.24 248.70,225.87 248.80,225.45 248.90,225.01 249.00,224.57 249.10,224.14 249.20,223.73 249.30,223.34 249.40,222.99 249.50,222.68 249.60,222.40 249.70,222.18 249.80,221.99 249.90,221.86 250.00,221.78 250.10,221.74 250.20,221.75 250.30,221.81 250.40,221.92 250.50,222.07 250.60,222.26 250.70,222.49 250.80,222.75 250.90,223.04 251.00,223.35 251.10,223.68 251.20,224.03 251.30,224.39 251.40,224.75 251.50,225.10 251.60,225.46 251.70,225.79 251.80,226.11 251.90,226.39 252.00,226.59 252.10,226.38 252.20,226.13 252.30,225.86 252.40,225.60 252.50,225.33 252.60,225.08 252.70,224.84 252.80,224.61 252.90,224.42 253.00,224.24 253.10,224.09 253.20,223.97 253.30,223.88 253.40,223.82 253.50,223.79 253.60,223.79 253.70,223.82 253.80,223.88 253.90,223.96 254.00,224.07 254.10,224.20 254.20,224.35 254.30,224.52 254.40,224.71 254.50,224.91 254.60,225.12 254.70,225.34 254.80,225.56 254.90,225.78 255.00,225.99 255.10,226.20 255.20,226.40 255.30,226.58 255.40,226.73 255.50,226.67 255.60,226.52 255.70,226.36 255.80,226.19 255.90,226.03 256.00,225.87 256.10,225.72 256.20,225.58 256.30,225.46 256.40,225.35 256.50,225.25 256.60,225.17 256.70,225.11 256.80,225.07 256.90,225.04 257.00,225.04 257.10,225.05 257.20,225.08 257.30,225.13 257.40,225.19 257.50,225.26 257.60,225.35 257.70,225.46 257.80,225.57 257.90,225.69 258.00,225.81 258.10,225.94 258.20,226.08 258.30,226.21 258.40,226.35 258.50,226.48 258.60,226.60 258.70,226.71 258.80,226.81 258.90,226.82 259.00,226.73 259.10,226.64 259.20,226.54 259.30,226.44 259.40,226.34 259.50,226.25 259.60,226.16 259.70,226.08 259.80,226.01 259.90,225.95 260.00,225.90 260.10,225.86 260.20,225.83 260.30,225.81 260.40,225.80 260.50,225.81 260.60,225.82 260.70,225.85 260.80,225.88 260.90,225.93 261.00,225.98 261.10,226.04 261.20,226.10 261.30,226.18 261.40,226.25 261.50,226.33 261.60,226.41 261.70,226.49 261.80,226.58 261.90,226.66 262.00,226.73 262.10,226.80 262.20,226.87 262.30,226.90 262.40,226.85 262.50,226.80 262.60,226.74 262.70,226.67 262.80,226.61 262.90,226.56 263.00,226.50 263.10,226.45 263.20,226.41 263.30,226.37 263.40,226.34 263.50,226.31 263.60,226.29 263.70,226.28 263.80,226.27 263.90,226.27 264.00,226.28 264.10,226.29 264.20,226.31 264.30,226.34 264.40,226.37 264.50,226.40 264.60,226.44 264.70,226.48 264.80,226.53 264.90,226.58 265.00,226.63 265.10,226.68 265.20,226.73 265.30,226.78 265.40,226.82 265.50,226.87 265.60,226.91 265.70,226.94 265.80,226.92 265.90,226.89 266.00,226.85 266.10,226.81 266.20,226.78 266.30,226.74 266.40,226.71 266.50,226.67 266.60,226.65 266.70,226.62 266.80,226.60 266.90,226.58 267.00,226.57 267.10,226.56 267.20,226.55 267.30,226.55 267.40,226.56 267.50,226.56 267.60,226.57 267.70,226.59 267.80,226.61 267.90,226.63 268.00,226.65 268.10,226.68 268.20,226.70 268.30,226.73 268.40,226.76 268.50,226.79 268.60,226.82 268.70,226.85 268.80,226.88 268.90,226.91 269.00,226.94 269.10,226.96 269.20,226.96 269.30,226.94 269.40,226.92 269.50,226.89 269.60,226.87 269.70,226.85 269.80,226.83 269.90,226.81 270.00,226.79 270.10,226.77 270.20,226.76 270.30,226.75 270.40,226.74 270.50,226.73 270.60,226.73 270.70,226.73 270.80,226.73 270.90,226.73 271.00,226.74 271.10,226.75 271.20,226.76 271.30,226.77 271.40,226.78 271.50,226.80 271.60,226.81 271.70,226.83 271.80,226.85 271.90,226.87 272.00,226.89 272.10,226.91 272.20,226.92 272.30,226.94 272.40,226.96 272.50,226.97 272.60,226.98 272.70,226.97 272.80,226.95 272.90,226.94 273.00,226.92 273.10,226.91 273.20,226.90 273.30,226.89 273.40,226.87 273.50,226.86 273.60,226.86 273.70,226.85 273.80,226.84 273.90,226.84 274.00,226.83 274.10,226.83 274.20,226.83 274.30,226.84 274.40,226.84 274.50,226.84 274.60,226.85 274.70,226.86 274.80,226.86 274.90,226.87 275.00,226.88 275.10,226.89 275.20,226.90 275.30,226.92 275.40,226.93 275.50,226.94 275.60,226.95 275.70,226.96 275.80,226.97 275.90,226.98 276.00,226.99 276.10,226.98 276.20,226.97 276.30,226.96 276.40,226.96 276.50,226.95 276.60,226.94 276.70,226.93 276.80,226.93 276.90,226.92 277.00,226.91 277.10,226.91 277.20,226.90 277.30,226.90 277.40,226.90 277.50,226.90 277.60,226.90 277.70,226.90 277.80,226.90 277.90,226.90 278.00,226.91 278.10,226.91 278.20,226.92 278.30,226.92 278.40,226.93 278.50,226.93 278.60,226.94 278.70,226.95 278.80,226.95 278.90,226.96 279.00,226.97 279.10,226.97 279.20,226.98 279.30,226.99 279.40,226.99 279.50,226.99 279.60,226.99 279.70,226.98 279.80,226.97 279.90,226.97 280.00,226.96 280.10,226.96 280.20,226.96 280.30,226.95 280.40,226.95 280.50,226.94 280.60,226.94 280.70,226.94 280.80,226.94 280.90,226.94 281.00,226.94 281.10,226.94 281.20,226.94 281.30,226.94 281.40,226.94 281.50,226.94 281.60,226.95 281.70,226.95 281.80,226.95 281.90,226.96 282.00,226.96 282.10,226.97 282.20,226.97 282.30,226.97 282.40,226.98 282.50,226.98 282.60,226.99 282.70,226.99 282.80,226.99 282.90,226.99 283.00,226.99 283.10,226.99 283.20,226.99 283.30,226.98 283.40,226.98 283.50,226.98 283.60,226.97 283.70,226.97 283.80,226.97 283.90,226.97 284.00,226.97 284.10,226.96 284.20,226.96 284.30,226.96 284.40,226.96 284.50,226.96 284.60,226.96 284.70,226.96 284.80,226.96 284.90,226.97 285.00,226.97 285.10,226.97 285.20,226.97 285.30,226.97 285.40,226.98 285.50,226.98 285.60,226.98 285.70,226.98 285.80,226.99 285.90,226.99 286.00,226.99 286.10,226.99 286.20,227.00 286.30,227.00 286.40,227.00 286.50,226.99 286.60,226.99 286.70,226.99 286.80,226.99 286.90,226.99 287.00,226.98 287.10,226.98 287.20,226.98 287.30,226.98 287.40,226.98 287.50,226.98 287.60,226.98 287.70,226.98 287.80,226.98 287.90,226.98 288.00,226.98 288.10,226.98 288.20,226.98 288.30,226.98 288.40,226.98 288.50,226.98 288.60,226.98 288.70,226.98 288.80,226.98 288.90,226.99 289.00,226.99 289.10,226.99 289.20,226.99 289.30,226.99 289.40,226.99 289.50,227.00 289.60,227.00 289.70,227.00 289.80,227.00 289.90,227.00 290.00,227.00 290.10,226.99 290.20,226.99 290.30,226.99 290.40,226.99 290.50,226.99 290.60,226.99 290.70,226.99 290.80,226.99 290.90,226.99 291.00,226.99 291.10,226.99 291.20,226.99 291.30,226.99 291.40,226.99 291.50,226.99 291.60,226.99 291.70,226.99 291.80,226.99 291.90,226.99 292.00,226.99 292.10,226.99 292.20,226.99 292.30,226.99 292.40,226.99 292.50,226.99 292.60,226.99 292.70,227.00 292.80,227.00 292.90,227.00 293.00,227.00 293.10,227.00 293.20,227.00 293.30,227.00 293.40,227.00 293.50,227.00 293.60,227.00 293.70,227.00 293.80,226.99 293.90,226.99 294.00,226.99 294.10,226.99 294.20,226.99 294.30,226.99 294.40,226.99 294.50,226.99 294.60,226.99 294.70,226.99 294.80,226.99 294.90,226.99 295.00,226.99 295.10,226.99 295.20,226.99 295.30,226.99 295.40,226.99 295.50,226.99 295.60,226.99 295.70,226.99 295.80,227.00 295.90,227.00 296.00,227.00 296.10,227.00 296.20,227.00 296.30,227.00 296.40,227.00 296.50,227.00 296.60,227.00 296.70,227.00 296.80,227.00 296.90,227.00 297.00,227.00 297.10,227.00 297.20,227.00 297.30,227.00 297.40,227.00 297.50,227.00 297.60,227.00 297.70,227.00 297.80,227.00 297.90,226.99 298.00,226.99 298.10,226.99 298.20,226.99 298.30,226.99 298.40,226.99 298.50,227.00 298.60,227.00 298.70,227.00 298.80,227.00 298.90,227.00 299.00,227.00 299.10,227.00 299.20,227.00 299.30,227.00 299.40,227.00 299.50,227.00 299.60,227.00 299.70,227.00 299.80,227.00 299.90,227.00 300.00,227.00 300.10,227.00 300.20,227.00 300.30,227.00 300.40,227.00 300.50,227.00 300.60,227.00 300.70,227.00 300.80,227.00 300.90,227.00 301.00,227.00 301.10,227.00 301.20,227.00 301.30,227.00 301.40,227.00 301.50,227.00 301.60,227.00 301.70,227.00 301.80,227.00 301.90,227.00 302.00,227.00 302.10,227.00 302.20,227.00 302.30,227.00 302.40,227.00 302.50,227.00 302.60,227.00 302.70,227.00 302.80,227.00 302.90,227.00 303.00,227.00 303.10,227.00 303.20,227.00 303.30,227.00 303.40,227.00 303.50,227.00 303.60,227.00 303.70,227.00 303.80,227.00 303.90,227.00 304.00,227.00 304.10,227.00 304.20,227.00 304.30,227.00 304.40,227.00 304.50,227.00 304.60,227.00 304.70,227.00 304.80,227.00 304.90,227.00 305.00,227.00 305.10,227.00 305.20,227.00 305.30,227.00 305.40,227.00 305.50,227.00 305.60,227.00 305.70,227.00 305.80,227.00 305.90,227.00 306.00,227.00 306.10,227.00 306.20,227.00 306.30,227.00 306.40,227.00 306.50,227.00 306.60,227.00 306.70,227.00 306.80,227.00 306.90,227.00 307.00,227.00 307.10,227.00 307.20,227.00 307.30,227.00 307.40,227.00 307.50,227.00 307.60,227.00 307.70,227.00 307.80,227.00 307.90,227.00 308.00,227.00 308.10,227.00 308.20,227.00 308.30,227.00 308.40,227.00 308.50,227.00 308.60,227.00 308.70,227.00 308.80,227.00 308.90,227.00 309.00,227.00 309.10,227.00 309.20,227.00 309.30,227.00 309.40,227.00 309.50,227.00 309.60,227.00 309.70,227.00 309.80,227.00 309.90,227.00 310.00,227.00 310.10,227.00 310.20,227.00 310.30,227.00 310.40,227.00 310.50,227.00 310.60,227.00 310.70,227.00 310.80,227.00 310.90,227.00 311.00,227.00 311.10,227.00 311.20,227.00 311.30,227.00 311.40,227.00 311.50,227.00 311.60,227.00 311.70,227.00 311.80,227.00 311.90,227.00 312.00,227.00 312.10,227.00 312.20,227.00 312.30,227.00 312.40,227.00 312.50,227.00 312.60,227.00 312.70,227.00 312.80,227.00 312.90,227.00 313.00,227.00 313.10,227.00 313.20,227.00 313.30,227.00 313.40,227.00 313.50,227.00 313.60,227.00 313.70,227.00 313.80,227.00 313.90,227.00 314.00,227.00 314.10,227.00 314.20,227.00 314.30,227.00 314.40,227.00 314.50,227.00 314.60,227.00 314.70,227.00 314.80,227.00 314.90,227.00 315.00,227.00 315.10,227.00 315.20,227.00 315.30,227.00 315.40,227.00 315.50,227.00 315.60,227.00 315.70,227.00 315.80,227.00 315.90,227.00 316.00,227.00 316.10,227.00 316.20,227.00 316.30,227.00 316.40,227.00 316.50,227.00 316.60,227.00 316.70,227.00 316.80,227.00 316.90,227.00 317.00,227.00 317.10,227.00 317.20,227.00 317.30,227.00 317.40,227.00 317.50,227.00 317.60,227.00 317.70,227.00 317.80,227.00 317.90,227.00 318.00,227.00 318.10,227.00 318.20,227.00 318.30,227.00 318.40,227.00 318.50,227.00 318.60,227.00 318.70,227.00 318.80,227.00 318.90,227.00 319.00,227.00 319.10,227.00 319.20,227.00 319.30,227.00 319.40,227.00 319.50,227.00 319.60,227.00 319.70,227.00 319.80,227.00 319.90,227.00 320.00,227.00 320.10,227.00 320.20,227.00 320.30,227.00 320.40,227.00 320.50,227.00 320.60,227.00 320.70,227.00 320.80,227.00 320.90,227.00 321.00,227.00 321.10,227.00 321.20,227.00 321.30,227.00 321.40,227.00 321.50,227.00 321.60,227.00 321.70,227.00 321.80,227.00 321.90,227.00 322.00,227.00 322.10,227.00 322.20,227.00 322.30,227.00 322.40,227.00 322.50,227.00 322.60,227.00 322.70,227.00 322.80,227.00 322.90,227.00 323.00,227.00 323.10,227.00 323.20,227.00 323.30,227.00 323.40,227.00 323.50,227.00 323.60,227.00 323.70,227.00 323.80,227.00 323.90,227.00 324.00,227.00 324.10,227.00 324.20,227.00 324.30,227.00 324.40,227.00 324.50,227.00 324.60,227.00 324.70,227.00 324.80,227.00 324.90,227.00 325.00,227.00 325.10,227.00 325.20,227.00 325.30,227.00 325.40,227.00 325.50,227.00 325.60,227.00 325.70,227.00 325.80,227.00 325.90,227.00 326.00,227.00 326.10,227.00 326.20,227.00 326.30,227.00 326.40,227.00 326.50,227.00 326.60,227.00 326.70,227.00 326.80,227.00 326.90,227.00 327.00,227.00 327.10,227.00 327.20,227.00 327.30,227.00 327.40,227.00 327.50,227.00 327.60,227.00 327.70,227.00 327.80,227.00 327.90,227.00 328.00,227.00 328.10,227.00 328.20,227.00 328.30,227.00 328.40,227.00 328.50,227.00 328.60,227.00 328.70,227.00 328.80,227.00 328.90,227.00 329.00,227.00 329.10,227.00 329.20,227.00 329.30,227.00 329.40,227.00 329.50,227.00 329.60,227.00 329.70,227.00 329.80,227.00 329.90,227.00 330.00,227.00 330.10,227.00 330.20,227.00 330.30,227.00 330.40,227.00 330.50,227.00 330.60,227.00 330.70,227.00 330.80,227.00 330.90,227.00 331.00,227.00 331.10,227.00 331.20,227.00 331.30,227.00 331.40,227.00 331.50,227.00 331.60,227.00 331.70,227.00 331.80,227.00 331.90,227.00 332.00,227.00 332.10,227.00 332.20,227.00 332.30,227.00 332.40,227.00 332.50,227.00 332.60,227.00 332.70,227.00 332.80,227.00 332.90,227.00 333.00,227.00 333.10,227.00 333.20,227.00 333.30,227.00 333.40,227.00 333.50,227.00 333.60,227.00 333.70,227.00 333.80,227.00 333.90,227.00 334.00,227.00 334.10,227.00 334.20,227.00 334.30,227.00 334.40,227.00 334.50,227.00 334.60,227.00 334.70,227.00 334.80,227.00 334.90,227.00 335.00,227.00 335.10,227.00 335.20,227.00 335.30,227.00 335.40,227.00 335.50,227.00 335.60,227.00 335.70,227.00 335.80,227.00 335.90,227.00 336.00,227.00 336.10,227.00 336.20,227.00 336.30,227.00 336.40,227.00 336.50,227.00 336.60,227.00 336.70,227.00 336.80,227.00 336.90,227.00 337.00,227.00 337.10,227.00 337.20,227.00 337.30,227.00 337.40,227.00 337.50,227.00 337.60,227.00 337.70,227.00 337.80,227.00 337.90,227.00 338.00,227.00 338.10,227.00 338.20,227.00 338.30,227.00 338.40,227.00 338.50,227.00 338.60,227.00 338.70,227.00 338.80,227.00 338.90,227.00 339.00,227.00 339.10,227.00 339.20,227.00 339.30,227.00 339.40,227.00 339.50,227.00 339.60,227.00 339.70,227.00 339.80,227.00 339.90,227.00 340.00,227.00 340.10,227.00 340.20,227.00 340.30,227.00 340.40,227.00 340.50,227.00 340.60,227.00 340.70,227.00 340.80,227.00 340.90,227.00 341.00,227.00 341.10,227.00 341.20,227.00 341.30,227.00 341.40,227.00 341.50,227.00 341.60,227.00 341.70,227.00 341.80,227.00 341.90,227.00 342.00,227.00 342.10,227.00 342.20,227.00 342.30,227.00 342.40,227.00 342.50,227.00 342.60,227.00 342.70,227.00 342.80,227.00 342.90,227.00 343.00,227.00 343.10,227.00 343.20,227.00 343.30,227.00 343.40,227.00 343.50,227.00 343.60,227.00 343.70,227.00 343.80,227.00 343.90,227.00 344.00,227.00 344.10,227.00 344.20,227.00 344.30,227.00 344.40,227.00 344.50,227.00 344.60,227.00 344.70,227.00 344.80,227.00 344.90,227.00 345.00,227.00 345.10,227.00 345.20,227.00 345.30,227.00 345.40,227.00 345.50,227.00 345.60,227.00 345.70,227.00 345.80,227.00 345.90,227.00 346.00,227.00 346.10,227.00 346.20,227.00 346.30,227.00 346.40,227.00 346.50,227.00 346.60,227.00 346.70,227.00 346.80,227.00 346.90,227.00 347.00,227.00 347.10,227.00 347.20,227.00 347.30,227.00 347.40,227.00 347.50,227.00 347.60,227.00 347.70,227.00 347.80,227.00 347.90,227.00 348.00,227.00 348.10,227.00 348.20,227.00 348.30,227.00 348.40,227.00 348.50,227.00 348.60,227.00 348.70,227.00 348.80,227.00 348.90,227.00 349.00,227.00 349.10,227.00 349.20,227.00 349.30,227.00 349.40,227.00 349.50,227.00 349.60,227.00 349.70,227.00 349.80,227.00 349.90,227.00 350.00,227.00 350.10,227.00 350.20,227.00 350.30,227.00 350.40,227.00 350.50,227.00 350.60,227.00 350.70,227.00 350.80,227.00 350.90,227.00 351.00,227.00 351.10,227.00 351.20,227.00 351.30,227.00 351.40,227.00 351.50,227.00 351.60,227.00 351.70,227.00 351.80,227.00 351.90,227.00 352.00,227.00 352.10,227.00 352.20,227.00 352.30,227.00 352.40,227.00 352.50,227.00 352.60,227.00 352.70,227.00 352.80,227.00 352.90,227.00 353.00,227.00 353.10,227.00 353.20,227.00 353.30,227.00 353.40,227.00 353.50,227.00 353.60,227.00 353.70,227.00 353.80,227.00 353.90,227.00 354.00,227.00 354.10,227.00 354.20,227.00 354.30,227.00 354.40,227.00 354.50,227.00 354.60,227.00 354.70,227.00 354.80,227.00 354.90,227.00 355.00,227.00 355.10,227.00 355.20,227.00 355.30,227.00 355.40,227.00 355.50,227.00 355.60,227.00 355.70,227.00 355.80,227.00 355.90,227.00 356.00,227.00 356.10,227.00 356.20,227.00 356.30,227.00 356.40,227.00 356.50,227.00 356.60,227.00 356.70,227.00 356.80,227.00 356.90,227.00 357.00,227.00 357.10,227.00 357.20,227.00 357.30,227.00 357.40,227.00 357.50,227.00 357.60,227.00 357.70,227.00 357.80,227.00 357.90,227.00 358.00,227.00 358.10,227.00 358.20,227.00 358.30,227.00 358.40,227.00 358.50,227.00 358.60,227.00 358.70,227.00 358.80,227.00 358.90,227.00 359.00,227.00 359.10,227.00 359.20,227.00 359.30,227.00 359.40,227.00 359.50,227.00 359.60,227.00 359.70,227.00 359.80,227.00 359.90,227.00 360.00,227.00 360.10,227.00 360.20,227.00 360.30,227.00 360.40,227.00 360.50,227.00 360.60,227.00 360.70,227.00 360.80,227.00 360.90,227.00 361.00,227.00 361.10,227.00 361.20,227.00 361.30,227.00 361.40,227.00 361.50,227.00 361.60,227.00 361.70,227.00 361.80,227.00 361.90,227.00 362.00,227.00 362.10,227.00 362.20,227.00 362.30,227.00 362.40,227.00 362.50,227.00 362.60,227.00 362.70,227.00 362.80,227.00 362.90,227.00 363.00,227.00 363.10,227.00 363.20,227.00 363.30,227.00 363.40,227.00 363.50,227.00 363.60,227.00 363.70,227.00 363.80,227.00 363.90,227.00 364.00,227.00 364.10,227.00 364.20,227.00 364.30,227.00 364.40,227.00 364.50,227.00 364.60,227.00 364.70,227.00 364.80,227.00 364.90,227.00 365.00,227.00 365.10,227.00 365.20,227.00 365.30,227.00 365.40,227.00 365.50,227.00 365.60,227.00 365.70,227.00 365.80,227.00 365.90,227.00 366.00,227.00 366.10,227.00 366.20,227.00 366.30,227.00 366.40,227.00 366.50,227.00 366.60,227.00 366.70,227.00 366.80,227.00 366.90,227.00 367.00,227.00 367.10,227.00 367.20,227.00 367.30,227.00 367.40,227.00 367.50,227.00 367.60,227.00 367.70,227.00 367.80,227.00 367.90,227.00 368.00,227.00 368.10,227.00 368.20,227.00 368.30,227.00 368.40,227.00 368.50,227.00 368.60,227.00 368.70,227.00 368.80,227.00 368.90,227.00 369.00,227.00 369.10,227.00 369.20,227.00 369.30,227.00 369.40,227.00 369.50,227.00 369.60,227.00 369.70,227.00 369.80,227.00 369.90,227.00 370.00,227.00 370.10,227.00 370.20,227.00 370.30,227.00 370.40,227.00 370.50,227.00 370.60,227.00 370.70,227.00 370.80,227.00 370.90,227.00 371.00,227.00 371.10,227.00 371.20,227.00 371.30,227.00 371.40,227.00 371.50,227.00 371.60,227.00 371.70,227.00 371.80,227.00 371.90,227.00 372.00,227.00 372.10,227.00 372.20,227.00 372.30,227.00 372.40,227.00 372.50,227.00 372.60,227.00 372.70,227.00 372.80,227.00 372.90,227.00 373.00,227.00 373.10,227.00 373.20,227.00 373.30,227.00 373.40,227.00 373.50,227.00 373.60,227.00 373.70,227.00 373.80,227.00 373.90,227.00 374.00,227.00 374.10,227.00 374.20,227.00 374.30,227.00 374.40,227.00 374.50,227.00 374.60,227.00 374.70,227.00 374.80,227.00 374.90,227.00 375.00,227.00 375.10,227.00 375.20,227.00 375.30,227.00 375.40,227.00 375.50,227.00 375.60,227.00 375.70,227.00 375.80,227.00 375.90,227.00 376.00,227.00 376.10,227.00 376.20,227.00 376.30,227.00 376.40,227.00 376.50,227.00 376.60,227.00 376.70,227.00 376.80,227.00 376.90,227.00 377.00,227.00 377.10,227.00 377.20,227.00 377.30,227.00 377.40,227.00 377.50,227.00 377.60,227.00 377.70,227.00 377.80,227.00 377.90,227.00 378.00,227.00 378.10,227.00 378.20,227.00 378.30,227.00 378.40,227.00 378.50,227.00 378.60,227.00 378.70,227.00 378.80,227.00 378.90,227.00 379.00,227.00 379.10,227.00 379.20,227.00 379.30,227.00 379.40,227.00 379.50,227.00 379.60,227.00 379.70,227.00 379.80,227.00 379.90,227.00 380.00,227.00 380.10,227.00 380.20,227.00 380.30,227.00 380.40,227.00 380.50,227.00 380.60,227.00 380.70,227.00 380.80,227.00 380.90,227.00 381.00,227.00 381.10,227.00 381.20,227.00 381.30,227.00 381.40,227.00 381.50,227.00 381.60,227.00 381.70,227.00 381.80,227.00 381.90,227.00 382.00,227.00 382.10,227.00 382.20,227.00 382.30,227.00 382.40,227.00 382.50,227.00 382.60,227.00 382.70,227.00 382.80,227.00 382.90,227.00 383.00,227.00 383.10,227.00 383.20,227.00 383.30,227.00 383.40,227.00 383.50,227.00 383.60,227.00 383.70,227.00 383.80,227.00 383.90,227.00 384.00,227.00 384.10,227.00 384.20,227.00 384.30,227.00 384.40,227.00 384.50,227.00 384.60,227.00 384.70,227.00 384.80,227.00 384.90,227.00 385.00,227.00 385.10,227.00 385.20,227.00 385.30,227.00 385.40,227.00 385.50,227.00 385.60,227.00 385.70,227.00 385.80,227.00 385.90,227.00 386.00,227.00 386.10,227.00 386.20,227.00 386.30,227.00 386.40,227.00 386.50,227.00 386.60,227.00 386.70,227.00 386.80,227.00 386.90,227.00 387.00,227.00 387.10,227.00 387.20,227.00 387.30,227.00 387.40,227.00 387.50,227.00 387.60,227.00 387.70,227.00 387.80,227.00 387.90,227.00 388.00,227.00 388.10,227.00 388.20,227.00 388.30,227.00 388.40,227.00 388.50,227.00 388.60,227.00 388.70,227.00 388.80,227.00 388.90,227.00 389.00,227.00 389.10,227.00 389.20,227.00 389.30,227.00 389.40,227.00 389.50,227.00 389.60,227.00 389.70,227.00 389.80,227.00 389.90,227.00 390.00,227.00 390.10,227.00 390.20,227.00 390.30,227.00 390.40,227.00 390.50,227.00 390.60,227.00 390.70,227.00 390.80,227.00 390.90,227.00 391.00,227.00 391.10,227.00 391.20,227.00 391.30,227.00 391.40,227.00 391.50,227.00 391.60,227.00 391.70,227.00 391.80,227.00 391.90,227.00 392.00,227.00 392.10,227.00 392.20,227.00 392.30,227.00 392.40,227.00 392.50,227.00 392.60,227.00 392.70,227.00 392.80,227.00 392.90,227.00 393.00,227.00 393.10,227.00 393.20,227.00 393.30,227.00 393.40,227.00 393.50,227.00 393.60,227.00 393.70,227.00 393.80,227.00 393.90,227.00 394.00,227.00 394.10,227.00 394.20,227.00 394.30,227.00 394.40,227.00 394.50,227.00 394.60,227.00 394.70,227.00 394.80,227.00 394.90,227.00 395.00,227.00 395.10,227.00 395.20,227.00 395.30,227.00 395.40,227.00 395.50,227.00 395.60,227.00 395.70,227.00 395.80,227.00 395.90,227.00 396.00,227.00 396.10,227.00 396.20,227.00 396.30,227.00 396.40,227.00 396.50,227.00 396.60,227.00 396.70,227.00 396.80,227.00 396.90,227.00 397.00,227.00 397.10,227.00 397.20,227.00 397.30,227.00 397.40,227.00 397.50,227.00 397.60,227.00 397.70,227.00 397.80,227.00 397.90,227.00 398.00,227.00 398.10,227.00 398.20,227.00 398.30,227.00 398.40,227.00 398.50,227.00 398.60,227.00 398.70,227.00"/>
<line x1="227.60" y1="226.60" x2="398.70" y2="226.60" stroke="#4760e8" stroke-width="1.3"/>
<polyline clip-path="url(#cf)" fill="none" stroke="#4760e8" stroke-width="1.3" stroke-linejoin="round"  points="227.60,252.53 228.10,252.78 228.60,253.04 229.10,253.29 229.60,253.54 230.10,253.79 230.60,254.05 231.10,254.30 231.60,254.55 232.10,254.80 232.60,255.06 233.10,255.31 233.60,255.56 234.10,255.82 234.60,256.07 235.10,256.32 235.60,256.57 236.10,256.83 236.60,257.08 237.10,257.33 237.60,257.58 238.10,257.84 238.60,258.09 239.10,258.34 239.60,258.59 240.10,258.85 240.60,259.10 241.10,259.35 241.60,259.60 242.10,259.86 242.60,260.11 243.10,260.36 243.60,260.61 244.10,260.87 244.60,261.12 245.10,261.37 245.60,261.63 246.10,261.88 246.60,262.13 247.10,262.38 247.60,262.64 248.10,262.89 248.60,263.14 249.10,263.39 249.60,263.65 250.10,263.90 250.60,264.15 251.10,264.40 251.60,264.66 252.10,264.91 252.60,265.16 253.10,265.41 253.60,265.67 254.10,265.92 254.60,266.17 255.10,266.42 255.60,266.68 256.10,266.93 256.60,267.18 257.10,267.44 257.60,267.69 258.10,267.94 258.60,268.19 259.10,268.45 259.60,268.70 260.10,268.95 260.60,269.20 261.10,269.46 261.60,269.71 262.10,269.96 262.60,270.21 263.10,270.47 263.60,270.72 264.10,270.97 264.60,271.22 265.10,271.48 265.60,271.73 266.10,271.98 266.60,272.23 267.10,272.49 267.60,272.74 268.10,272.99 268.60,273.25 269.10,273.50 269.60,273.75 270.10,274.00 270.60,274.26 271.10,274.51 271.60,274.76 272.10,275.01 272.60,275.27 273.10,275.52 273.60,275.77 274.10,276.02 274.60,276.28 275.10,276.53 275.60,276.78 276.10,277.03 276.60,277.29 277.10,277.54 277.60,277.79 278.10,278.04 278.60,278.30 279.10,278.55 279.60,278.80 280.10,279.06 280.60,279.31 281.10,279.56 281.60,279.81 282.10,280.07 282.60,280.32 283.10,280.57 283.60,280.82 284.10,281.08 284.60,281.33 285.10,281.58 285.60,281.83 286.10,282.09 286.60,282.34 287.10,282.59 287.60,282.84 288.10,283.10 288.60,283.35 289.10,283.60 289.60,283.85 290.10,284.11 290.60,284.36 291.10,284.61 291.60,284.87 292.10,285.12 292.60,285.37 293.10,285.62 293.60,285.88 294.10,286.13 294.60,286.38 295.10,286.63 295.60,286.89 296.10,287.14 296.60,287.39 297.10,287.64 297.60,287.90 298.10,288.15 298.60,288.40 299.10,288.65 299.60,288.91 300.10,289.16 300.60,289.41 301.10,289.66 301.60,289.92 302.10,290.17 302.60,290.42 303.10,290.68 303.60,290.93 304.10,291.18 304.60,291.43 305.10,291.69 305.60,291.94 306.10,292.19 306.60,292.44 307.10,292.70 307.60,292.95 308.10,293.20 308.60,293.45 309.10,293.71 309.60,293.96 310.10,294.21 310.60,294.46 311.10,294.72 311.60,294.97 312.10,295.22 312.60,295.47 313.10,295.73 313.60,295.98 314.10,296.23 314.60,296.49 315.10,296.74 315.60,296.99 316.10,297.24 316.60,297.50 317.10,297.75 317.60,298.00 318.10,298.25 318.60,298.51 319.10,298.76 319.60,299.01 320.10,299.26 320.60,299.52 321.10,299.77 321.60,300.02 322.10,300.27 322.60,300.53 323.10,300.78 323.60,301.03 324.10,301.28 324.60,301.54 325.10,301.79 325.60,302.04 326.10,302.30 326.60,302.55 327.10,302.80 327.60,303.05 328.10,303.31 328.60,303.56 329.10,303.81 329.60,304.06 330.10,304.32 330.60,304.57 331.10,304.82 331.60,305.07 332.10,305.33 332.60,305.58 333.10,305.83 333.60,306.08 334.10,306.34 334.60,306.59 335.10,306.84 335.60,307.09 336.10,307.35 336.60,307.60 337.10,307.85 337.60,308.10 338.10,308.35 338.60,308.60 339.10,308.86 339.60,309.11 340.10,309.35 340.60,309.60 341.10,309.85 341.60,310.09 342.10,310.34 342.60,310.57 343.10,310.81 343.60,311.04 344.10,311.26 344.60,311.47 345.10,311.67 345.60,311.86 346.10,312.03 346.60,312.18 347.10,312.32 347.60,312.43 348.10,312.32 348.60,312.18 349.10,312.03 349.60,311.86 350.10,311.67 350.60,311.47 351.10,311.26 351.60,311.04 352.10,310.81 352.60,310.57 353.10,310.34 353.60,310.09 354.10,309.85 354.60,309.60 355.10,309.35 355.60,309.11 356.10,308.86 356.60,308.60 357.10,308.35 357.60,308.10 358.10,307.85 358.60,307.60 359.10,307.35 359.60,307.09 360.10,306.84 360.60,306.59 361.10,306.34 361.60,306.08 362.10,305.83 362.60,305.58 363.10,305.33 363.60,305.07 364.10,304.82 364.60,304.57 365.10,304.32 365.60,304.06 366.10,303.81 366.60,303.56 367.10,303.31 367.60,303.05 368.10,302.80 368.60,302.55 369.10,302.30 369.60,302.04 370.10,301.79 370.60,301.54 371.10,301.28 371.60,301.03 372.10,300.78 372.60,300.53 373.10,300.27 373.60,300.02 374.10,299.77 374.60,299.52 375.10,299.26 375.60,299.01 376.10,298.76 376.60,298.51 377.10,298.25 377.60,298.00 378.10,297.75 378.60,297.50 379.10,297.24 379.60,296.99 380.10,296.74 380.60,296.49 381.10,296.23 381.60,295.98 382.10,295.73 382.60,295.47 383.10,295.22 383.60,294.97 384.10,294.72 384.60,294.46 385.10,294.21 385.60,293.96 386.10,293.71 386.60,293.45 387.10,293.20 387.60,292.95 388.10,292.70 388.60,292.44 389.10,292.19 389.60,291.94 390.10,291.69 390.60,291.43 391.10,291.18 391.60,290.93 392.10,290.68 392.60,290.42 393.10,290.17 393.60,289.92 394.10,289.66 394.60,289.41 395.10,289.16 395.60,288.91 396.10,288.65 396.60,288.40 397.10,288.15 397.60,287.90 398.10,287.64 398.60,287.39 398.70,287.34"/>
<polyline clip-path="url(#cf)" fill="none" stroke="#f03535" stroke-width="0.85" stroke-linejoin="round"  points="227.60,268.89 227.68,268.28 227.76,267.50 227.84,266.90 227.92,266.41 228.00,266.00 228.08,265.67 228.16,265.39 228.24,265.15 228.32,264.95 228.40,264.78 228.48,264.64 228.56,264.53 228.64,264.45 228.72,264.38 228.80,264.34 228.88,264.32 228.96,264.31 229.04,264.33 229.12,264.37 229.20,264.42 229.28,264.50 229.36,264.59 229.44,264.70 229.52,264.84 229.60,264.99 229.68,265.17 229.76,265.37 229.84,265.61 229.92,265.87 230.00,266.17 230.08,266.51 230.16,266.90 230.24,267.35 230.32,267.87 230.40,268.50 230.48,269.26 230.56,270.24 230.64,270.42 230.72,270.46 230.80,270.50 230.88,270.59 230.96,270.63 231.04,270.67 231.12,269.90 231.20,269.15 231.28,268.56 231.36,268.09 231.44,267.69 231.52,267.36 231.60,267.09 231.68,266.85 231.76,266.66 231.84,266.49 231.92,266.36 232.00,266.25 232.08,266.17 232.16,266.11 232.24,266.07 232.32,266.05 232.40,266.05 232.48,266.07 232.56,266.11 232.64,266.16 232.72,266.24 232.80,266.33 232.88,266.45 232.96,266.59 233.04,266.74 233.12,266.93 233.20,267.14 233.28,267.37 233.36,267.64 233.44,267.94 233.52,268.29 233.60,268.69 233.68,269.14 233.76,269.68 233.84,270.32 233.92,271.10 234.00,272.11 234.08,272.20 234.16,272.25 234.24,272.29 234.32,271.70 234.40,271.74 234.48,271.78 234.56,271.53 234.64,270.80 234.72,270.23 234.80,269.77 234.88,269.38 234.96,269.06 235.04,268.79 235.12,268.56 235.20,268.37 235.28,268.21 235.36,268.08 235.44,267.97 235.52,267.89 235.60,267.83 235.68,267.80 235.76,267.78 235.84,267.78 235.92,267.80 236.00,267.84 236.08,267.90 236.16,267.98 236.24,268.08 236.32,268.20 236.40,268.34 236.48,268.50 236.56,268.68 236.64,268.90 236.72,269.14 236.80,269.41 236.88,269.72 236.96,270.07 237.04,270.47 237.12,270.94 237.20,271.48 237.28,272.14 237.36,272.95 237.44,273.27 237.52,273.31 237.60,273.35 237.68,273.34 237.76,273.38 237.84,273.42 237.92,273.46 238.00,273.16 238.08,272.46 238.16,271.90 238.24,271.45 238.32,271.07 238.40,270.76 238.48,270.49 238.56,270.27 238.64,270.08 238.72,269.92 238.80,269.80 238.88,269.70 238.96,269.62 239.04,269.56 239.12,269.53 239.20,269.51 239.28,269.52 239.36,269.54 239.44,269.58 239.52,269.65 239.60,269.73 239.68,269.83 239.76,269.95 239.84,270.09 239.92,270.25 240.00,270.44 240.08,270.66 240.16,270.90 240.24,271.18 240.32,271.49 240.40,271.85 240.48,272.26 240.56,272.73 240.64,273.29 240.72,273.96 240.80,274.79 240.88,274.96 240.96,275.00 241.04,275.04 241.12,274.90 241.20,274.94 241.28,274.98 241.36,275.03 241.44,274.80 241.52,274.11 241.60,273.57 241.68,273.13 241.76,272.76 241.84,272.45 241.92,272.19 242.00,271.97 242.08,271.79 242.16,271.64 242.24,271.52 242.32,271.42 242.40,271.34 242.48,271.29 242.56,271.26 242.64,271.24 242.72,271.25 242.80,271.28 242.88,271.32 242.96,271.39 243.04,271.47 243.12,271.57 243.20,271.70 243.28,271.84 243.36,272.01 243.44,272.20 243.52,272.42 243.60,272.67 243.68,272.95 243.76,273.27 243.84,273.63 243.92,274.05 244.00,274.53 244.08,275.10 244.16,275.79 244.24,276.48 244.32,276.52 244.40,276.56 244.48,276.60 244.56,276.78 244.64,276.82 244.72,276.86 244.80,276.90 244.88,276.43 244.96,275.77 245.04,275.24 245.12,274.81 245.20,274.45 245.28,274.15 245.36,273.90 245.44,273.68 245.52,273.50 245.60,273.36 245.68,273.24 245.76,273.14 245.84,273.07 245.92,273.02 246.00,272.99 246.08,272.98 246.16,272.99 246.24,273.02 246.32,273.06 246.40,273.13 246.48,273.22 246.56,273.32 246.64,273.45 246.72,273.59 246.80,273.76 246.88,273.96 246.96,274.18 247.04,274.43 247.12,274.72 247.20,275.04 247.28,275.41 247.36,275.84 247.44,276.33 247.52,276.91 247.60,277.62 247.68,278.36 247.76,278.40 247.84,278.44 247.92,278.48 248.00,278.21 248.08,278.25 248.16,278.29 248.24,278.33 248.32,278.08 248.40,277.43 248.48,276.92 248.56,276.50 248.64,276.14 248.72,275.85 248.80,275.60 248.88,275.39 248.96,275.22 249.04,275.07 249.12,274.95 249.20,274.86 249.28,274.79 249.36,274.75 249.44,274.72 249.52,274.71 249.60,274.72 249.68,274.75 249.76,274.80 249.84,274.87 249.92,274.96 250.00,275.07 250.08,275.20 250.16,275.35 250.24,275.52 250.32,275.72 250.40,275.94 250.48,276.20 250.56,276.49 250.64,276.82 250.72,277.20 250.80,277.63 250.88,278.13 250.96,278.73 251.04,279.45 251.12,279.79 251.20,279.83 251.28,279.87 251.36,279.91 251.44,281.11 251.52,281.15 251.60,281.19 251.68,280.52 251.76,279.72 251.84,279.10 251.92,278.59 252.00,278.18 252.08,277.84 252.16,277.55 252.24,277.31 252.32,277.10 252.40,276.93 252.48,276.79 252.56,276.67 252.64,276.59 252.72,276.52 252.80,276.47 252.88,276.45 252.96,276.44 253.04,276.46 253.12,276.49 253.20,276.54 253.28,276.62 253.36,276.71 253.44,276.82 253.52,276.95 253.60,277.10 253.68,277.28 253.76,277.48 253.84,277.71 253.92,277.97 254.00,278.26 254.08,278.60 254.16,278.98 254.24,279.42 254.32,279.93 254.40,280.54 254.48,281.28 254.56,282.23 254.64,282.73 254.72,282.77 254.80,282.81 254.88,282.08 254.96,282.12 255.04,282.16 255.12,282.14 255.20,281.37 255.28,280.76 255.36,280.27 255.44,279.87 255.52,279.53 255.60,279.25 255.68,279.01 255.76,278.81 255.84,278.64 255.92,278.51 256.00,278.40 256.08,278.31 256.16,278.24 256.24,278.20 256.32,278.18 256.40,278.18 256.48,278.19 256.56,278.23 256.64,278.28 256.72,278.36 256.80,278.45 256.88,278.56 256.96,278.70 257.04,278.85 257.12,279.03 257.20,279.24 257.28,279.47 257.36,279.73 257.44,280.03 257.52,280.37 257.60,280.76 257.68,281.21 257.76,281.74 257.84,282.36 257.92,283.12 258.00,283.66 258.08,283.70 258.16,283.74 258.24,283.78 258.32,283.04 258.40,283.08 258.48,283.12 258.56,283.16 258.64,283.02 258.72,282.43 258.80,281.95 258.88,281.56 258.96,281.23 259.04,280.95 259.12,280.72 259.20,280.52 259.28,280.36 259.36,280.22 259.44,280.12 259.52,280.03 259.60,279.97 259.68,279.93 259.76,279.91 259.84,279.91 259.92,279.93 260.00,279.97 260.08,280.03 260.16,280.10 260.24,280.20 260.32,280.31 260.40,280.45 260.48,280.61 260.56,280.79 260.64,281.00 260.72,281.23 260.80,281.50 260.88,281.81 260.96,282.15 261.04,282.55 261.12,283.01 261.20,283.54 261.28,284.18 261.36,284.58 261.44,284.62 261.52,284.66 261.60,284.70 261.68,284.74 261.76,285.90 261.84,285.94 261.92,285.98 262.00,285.39 262.08,284.67 262.16,284.09 262.24,283.63 262.32,283.24 262.40,282.92 262.48,282.65 262.56,282.42 262.64,282.23 262.72,282.07 262.80,281.94 262.88,281.84 262.96,281.76 263.04,281.70 263.12,281.66 263.20,281.64 263.28,281.65 263.36,281.67 263.44,281.71 263.52,281.77 263.60,281.85 263.68,281.94 263.76,282.06 263.84,282.20 263.92,282.36 264.00,282.55 264.08,282.76 264.16,283.00 264.24,283.27 264.32,283.58 264.40,283.93 264.48,284.34 264.56,284.80 264.64,285.35 264.72,286.00 264.80,286.81 264.88,287.48 264.96,287.52 265.04,287.56 265.12,286.91 265.20,286.95 265.28,286.99 265.36,287.03 265.44,287.03 265.52,286.32 265.60,285.76 265.68,285.31 265.76,284.93 265.84,284.62 265.92,284.35 266.00,284.13 266.08,283.94 266.16,283.79 266.24,283.66 266.32,283.56 266.40,283.48 266.48,283.42 266.56,283.39 266.64,283.38 266.72,283.38 266.80,283.40 266.88,283.45 266.96,283.51 267.04,283.59 267.12,283.69 267.20,283.81 267.28,283.95 267.36,284.12 267.44,284.31 267.52,284.52 267.60,284.76 267.68,285.04 267.76,285.36 267.84,285.71 267.92,286.12 268.00,286.60 268.08,287.16 268.16,287.83 268.24,288.48 268.32,288.52 268.40,288.56 268.48,288.60 268.56,288.58 268.64,288.62 268.72,288.66 268.80,288.70 268.88,288.66 268.96,287.98 269.04,287.43 269.12,286.99 269.20,286.62 269.28,286.32 269.36,286.06 269.44,285.84 269.52,285.65 269.60,285.50 269.68,285.38 269.76,285.28 269.84,285.21 269.92,285.15 270.00,285.12 270.08,285.11 270.16,285.12 270.24,285.14 270.32,285.19 270.40,285.25 270.48,285.33 270.56,285.44 270.64,285.56 270.72,285.70 270.80,285.87 270.88,286.06 270.96,286.28 271.04,286.53 271.12,286.81 271.20,287.13 271.28,287.49 271.36,287.91 271.44,288.40 271.52,288.97 271.60,289.65 271.68,290.15 271.76,290.20 271.84,290.24 271.92,290.28 272.00,291.61 272.08,291.65 272.16,291.69 272.24,291.16 272.32,290.30 272.40,289.64 272.48,289.11 272.56,288.67 272.64,288.32 272.72,288.01 272.80,287.76 272.88,287.55 272.96,287.37 273.04,287.22 273.12,287.10 273.20,287.00 273.28,286.93 273.36,286.88 273.44,286.85 273.52,286.84 273.60,286.85 273.68,286.88 273.76,286.93 273.84,286.99 273.92,287.08 274.00,287.18 274.08,287.31 274.16,287.46 274.24,287.63 274.32,287.82 274.40,288.04 274.48,288.30 274.56,288.58 274.64,288.91 274.72,289.28 274.80,289.70 274.88,290.19 274.96,290.78 275.04,291.48 275.12,292.37 275.20,293.23 275.28,293.27 275.36,293.31 275.44,292.46 275.52,292.50 275.60,292.54 275.68,292.58 275.76,291.94 275.84,291.30 275.92,290.78 276.00,290.36 276.08,290.01 276.16,289.71 276.24,289.46 276.32,289.25 276.40,289.08 276.48,288.94 276.56,288.82 276.64,288.73 276.72,288.66 276.80,288.61 276.88,288.58 276.96,288.57 277.04,288.59 277.12,288.62 277.20,288.67 277.28,288.74 277.36,288.82 277.44,288.93 277.52,289.06 277.60,289.21 277.68,289.38 277.76,289.58 277.84,289.81 277.92,290.06 278.00,290.35 278.08,290.68 278.16,291.06 278.24,291.49 278.32,291.99 278.40,292.59 278.48,293.31 278.56,294.03 278.64,294.08 278.72,294.12 278.80,294.16 278.88,293.26 278.96,293.30 279.04,293.34 279.12,293.38 279.20,293.42 279.28,292.96 279.36,292.46 279.44,292.04 279.52,291.70 279.60,291.41 279.68,291.17 279.76,290.96 279.84,290.79 279.92,290.65 280.00,290.54 280.08,290.45 280.16,290.38 280.24,290.34 280.32,290.31 280.40,290.31 280.48,290.32 280.56,290.35 280.64,290.41 280.72,290.48 280.80,290.57 280.88,290.68 280.96,290.81 281.04,290.96 281.12,291.14 281.20,291.34 281.28,291.57 281.36,291.83 281.44,292.12 281.52,292.46 281.60,292.84 281.68,293.28 281.76,293.80 281.84,294.41 281.92,294.79 282.00,294.83 282.08,294.87 282.16,294.91 282.24,294.95 282.32,295.59 282.40,295.63 282.48,295.67 282.56,295.71 282.64,295.23 282.72,294.62 282.80,294.13 282.88,293.73 282.96,293.39 283.04,293.11 283.12,292.87 283.20,292.67 283.28,292.51 283.36,292.37 283.44,292.26 283.52,292.17 283.60,292.11 283.68,292.07 283.76,292.04 283.84,292.04 283.92,292.06 284.00,292.09 284.08,292.15 284.16,292.22 284.24,292.31 284.32,292.43 284.40,292.56 284.48,292.72 284.56,292.90 284.64,293.10 284.72,293.33 284.80,293.60 284.88,293.90 284.96,294.24 285.04,294.63 285.12,295.08 285.20,295.60 285.28,296.22 285.36,296.99 285.44,297.17 285.52,297.21 285.60,297.25 285.68,297.29 285.76,297.59 285.84,297.63 285.92,297.68 286.00,297.63 286.08,296.88 286.16,296.29 286.24,295.81 286.32,295.42 286.40,295.09 286.48,294.81 286.56,294.58 286.64,294.38 286.72,294.22 286.80,294.09 286.88,293.98 286.96,293.90 287.04,293.83 287.12,293.79 287.20,293.77 287.28,293.77 287.36,293.79 287.44,293.83 287.52,293.89 287.60,293.96 287.68,294.06 287.76,294.18 287.84,294.31 287.92,294.47 288.00,294.65 288.08,294.86 288.16,295.10 288.24,295.37 288.32,295.67 288.40,296.02 288.48,296.41 288.56,296.87 288.64,297.40 288.72,298.04 288.80,298.83 288.88,299.17 288.96,299.21 289.04,299.25 289.12,299.29 289.20,299.13 289.28,299.17 289.36,299.21 289.44,299.25 289.52,298.53 289.60,297.96 289.68,297.49 289.76,297.11 289.84,296.79 289.92,296.51 290.00,296.29 290.08,296.09 290.16,295.94 290.24,295.80 290.32,295.70 290.40,295.62 290.48,295.56 290.56,295.52 290.64,295.51 290.72,295.51 290.80,295.53 290.88,295.57 290.96,295.63 291.04,295.71 291.12,295.81 291.20,295.92 291.28,296.06 291.36,296.23 291.44,296.41 291.52,296.62 291.60,296.86 291.68,297.13 291.76,297.44 291.84,297.80 291.92,298.20 292.00,298.66 292.08,299.21 292.16,299.86 292.24,300.67 292.32,300.71 292.40,300.75 292.48,300.79 292.56,300.01 292.64,300.05 292.72,300.09 292.80,300.13 292.88,300.17 292.96,300.18 293.04,299.63 293.12,299.17 293.20,298.80 293.28,298.48 293.36,298.22 293.44,297.99 293.52,297.81 293.60,297.65 293.68,297.52 293.76,297.42 293.84,297.34 293.92,297.29 294.00,297.25 294.08,297.24 294.16,297.24 294.24,297.27 294.32,297.31 294.40,297.37 294.48,297.45 294.56,297.55 294.64,297.67 294.72,297.82 294.80,297.98 294.88,298.17 294.96,298.38 295.04,298.63 295.12,298.90 295.20,299.22 295.28,299.58 295.36,299.99 295.44,300.46 295.52,301.02 295.60,301.54 295.68,301.59 295.76,301.63 295.84,301.67 295.92,301.71 296.00,301.93 296.08,301.97 296.16,302.01 296.24,302.05 296.32,302.09 296.40,301.84 296.48,301.30 296.56,300.85 296.64,300.49 296.72,300.18 296.80,299.92 296.88,299.70 296.96,299.52 297.04,299.37 297.12,299.24 297.20,299.14 297.28,299.07 297.36,299.02 297.44,298.98 297.52,298.97 297.60,298.98 297.68,299.00 297.76,299.05 297.84,299.11 297.92,299.20 298.00,299.30 298.08,299.42 298.16,299.57 298.24,299.74 298.32,299.93 298.40,300.15 298.48,300.39 298.56,300.67 298.64,300.99 298.72,301.36 298.80,301.77 298.88,302.26 298.96,302.83 299.04,303.46 299.12,303.50 299.20,303.54 299.28,303.58 299.36,303.62 299.44,304.62 299.52,304.66 299.60,304.70 299.68,304.74 299.76,304.16 299.84,303.50 299.92,302.97 300.00,302.54 300.08,302.18 300.16,301.88 300.24,301.62 300.32,301.41 300.40,301.23 300.48,301.08 300.56,300.96 300.64,300.87 300.72,300.79 300.80,300.74 300.88,300.71 300.96,300.70 301.04,300.71 301.12,300.74 301.20,300.79 301.28,300.86 301.36,300.94 301.44,301.05 301.52,301.17 301.60,301.32 301.68,301.49 301.76,301.69 301.84,301.91 301.92,302.16 302.00,302.44 302.08,302.77 302.16,303.14 302.24,303.56 302.32,304.06 302.40,304.64 302.48,305.34 302.56,306.20 302.64,306.24 302.72,306.28 302.80,306.32 302.88,305.45 302.96,305.49 303.04,305.53 303.12,305.57 303.20,305.61 303.28,305.16 303.36,304.64 303.44,304.22 303.52,303.87 303.60,303.58 303.68,303.33 303.76,303.12 303.84,302.94 303.92,302.80 304.00,302.68 304.08,302.59 304.16,302.52 304.24,302.47 304.32,302.44 304.40,302.44 304.48,302.45 304.56,302.48 304.64,302.53 304.72,302.60 304.80,302.69 304.88,302.79 304.96,302.92 305.04,303.07 305.12,303.25 305.20,303.44 305.28,303.67 305.36,303.93 305.44,304.22 305.52,304.55 305.60,304.92 305.68,305.35 305.76,305.86 305.84,306.45 305.92,306.98 306.00,307.02 306.08,307.06 306.16,307.10 306.24,307.14 306.32,308.00 306.40,308.04 306.48,308.08 306.56,308.12 306.64,307.45 306.72,306.82 306.80,306.32 306.88,305.91 306.96,305.56 307.04,305.27 307.12,305.03 307.20,304.83 307.28,304.66 307.36,304.52 307.44,304.40 307.52,304.31 307.60,304.24 307.68,304.20 307.76,304.18 307.84,304.17 307.92,304.18 308.00,304.22 308.08,304.27 308.16,304.34 308.24,304.43 308.32,304.54 308.40,304.67 308.48,304.83 308.56,305.00 308.64,305.20 308.72,305.43 308.80,305.69 308.88,305.99 308.96,306.32 309.04,306.71 309.12,307.15 309.20,307.66 309.28,308.27 309.36,309.01 309.44,309.57 309.52,309.61 309.60,309.66 309.68,309.70 309.76,310.44 309.84,310.48 309.92,310.52 310.00,309.87 310.08,309.09 310.16,308.49 310.24,308.00 310.32,307.59 310.40,307.26 310.48,306.98 310.56,306.74 310.64,306.54 310.72,306.37 310.80,306.23 310.88,306.12 310.96,306.03 311.04,305.97 311.12,305.93 311.20,305.91 311.28,305.90 311.36,305.92 311.44,305.96 311.52,306.01 311.60,306.08 311.68,306.18 311.76,306.29 311.84,306.42 311.92,306.58 312.00,306.76 312.08,306.96 312.16,307.20 312.24,307.46 312.32,307.76 312.40,308.10 312.48,308.49 312.56,308.94 312.64,309.46 312.72,310.09 312.80,310.85 312.88,311.82 312.96,312.06 313.04,312.10 313.12,312.14 313.20,310.84 313.28,310.88 313.36,310.92 313.44,310.96 313.52,310.74 313.60,310.15 313.68,309.68 313.76,309.28 313.84,308.95 313.92,308.68 314.00,308.44 314.08,308.25 314.16,308.08 314.24,307.95 314.32,307.84 314.40,307.76 314.48,307.70 314.56,307.66 314.64,307.64 314.72,307.64 314.80,307.66 314.88,307.70 314.96,307.75 315.04,307.83 315.12,307.92 315.20,308.04 315.28,308.18 315.36,308.33 315.44,308.52 315.52,308.72 315.60,308.96 315.68,309.23 315.76,309.53 315.84,309.88 315.92,310.28 316.00,310.73 316.08,311.27 316.16,311.91 316.24,312.37 316.32,312.41 316.40,312.45 316.48,312.49 316.56,312.54 316.64,312.15 316.72,312.20 316.80,312.24 316.88,312.28 316.96,312.32 317.04,311.82 317.12,311.36 317.20,310.97 317.28,310.65 317.36,310.38 317.44,310.15 317.52,309.96 317.60,309.80 317.68,309.67 317.76,309.56 317.84,309.48 317.92,309.42 318.00,309.39 318.08,309.37 318.16,309.37 318.24,309.39 318.32,309.43 318.40,309.49 318.48,309.57 318.56,309.67 318.64,309.79 318.72,309.93 318.80,310.09 318.88,310.27 318.96,310.49 319.04,310.73 319.12,311.00 319.20,311.31 319.28,311.66 319.36,312.06 319.44,312.53 319.52,313.07 319.60,313.65 319.68,313.69 319.76,313.73 319.84,313.77 319.92,313.81 320.00,313.84 320.08,313.88 320.16,313.92 320.24,313.96 320.32,314.00 320.40,314.04 320.48,313.49 320.56,313.04 320.64,312.66 320.72,312.34 320.80,312.08 320.88,311.86 320.96,311.67 321.04,311.51 321.12,311.39 321.20,311.28 321.28,311.21 321.36,311.15 321.44,311.12 321.52,311.10 321.60,311.11 321.68,311.13 321.76,311.17 321.84,311.24 321.92,311.32 322.00,311.42 322.08,311.54 322.16,311.68 322.24,311.84 322.32,312.03 322.40,312.25 322.48,312.49 322.56,312.77 322.64,313.08 322.72,313.44 322.80,313.85 322.88,314.32 322.96,314.88 323.04,315.38 323.12,315.42 323.20,315.46 323.28,315.50 323.36,315.54 323.44,316.59 323.52,316.63 323.60,316.67 323.68,316.71 323.76,316.39 323.84,315.70 323.92,315.16 324.00,314.72 324.08,314.35 324.16,314.04 324.24,313.78 324.32,313.56 324.40,313.38 324.48,313.23 324.56,313.11 324.64,313.01 324.72,312.93 324.80,312.88 324.88,312.85 324.96,312.83 325.04,312.84 325.12,312.87 325.20,312.91 325.28,312.98 325.36,313.06 325.44,313.16 325.52,313.29 325.60,313.43 325.68,313.60 325.76,313.79 325.84,314.01 325.92,314.26 326.00,314.54 326.08,314.86 326.16,315.22 326.24,315.64 326.32,316.12 326.40,316.69 326.48,317.38 326.56,318.16 326.64,318.20 326.72,318.25 326.80,318.29 326.88,318.65 326.96,318.69 327.04,318.73 327.12,318.77 327.20,318.02 327.28,317.36 327.36,316.83 327.44,316.40 327.52,316.04 327.60,315.74 327.68,315.49 327.76,315.27 327.84,315.09 327.92,314.95 328.00,314.82 328.08,314.73 328.16,314.66 328.24,314.61 328.32,314.58 328.40,314.57 328.48,314.58 328.56,314.61 328.64,314.65 328.72,314.72 328.80,314.80 328.88,314.91 328.96,315.04 329.04,315.18 329.12,315.35 329.20,315.55 329.28,315.77 329.36,316.02 329.44,316.31 329.52,316.63 329.60,317.00 329.68,317.43 329.76,317.92 329.84,318.50 329.92,319.21 330.00,320.09 330.08,320.27 330.16,320.31 330.24,320.35 330.32,321.20 330.40,321.24 330.48,321.28 330.56,320.50 330.64,319.67 330.72,319.02 330.80,318.51 330.88,318.09 330.96,317.73 331.04,317.44 331.12,317.19 331.20,316.98 331.28,316.81 331.36,316.66 331.44,316.54 331.52,316.45 331.60,316.38 331.68,316.33 331.76,316.31 331.84,316.30 331.92,316.31 332.00,316.34 332.08,316.39 332.16,316.46 332.24,316.55 332.32,316.66 332.40,316.79 332.48,316.94 332.56,317.11 332.64,317.31 332.72,317.53 332.80,317.79 332.88,318.08 332.96,318.41 333.04,318.78 333.12,319.22 333.20,319.72 333.28,320.32 333.36,321.04 333.44,321.95 333.52,322.81 333.60,322.85 333.68,322.89 333.76,322.35 333.84,322.39 333.92,322.43 334.00,322.11 334.08,321.31 334.16,320.68 334.24,320.18 334.32,319.77 334.40,319.43 334.48,319.14 334.56,318.89 334.64,318.69 334.72,318.52 334.80,318.38 334.88,318.26 334.96,318.17 335.04,318.11 335.12,318.06 335.20,318.04 335.28,318.03 335.36,318.05 335.44,318.08 335.52,318.13 335.60,318.20 335.68,318.29 335.76,318.40 335.84,318.54 335.92,318.69 336.00,318.86 336.08,319.07 336.16,319.30 336.24,319.55 336.32,319.85 336.40,320.18 336.48,320.57 336.56,321.01 336.64,321.52 336.72,322.13 336.80,322.87 336.88,323.82 336.96,323.96 337.04,324.00 337.12,324.04 337.20,323.36 337.28,323.40 337.36,323.44 337.44,323.48 337.52,322.95 337.60,322.35 337.68,321.86 337.76,321.45 337.84,321.12 337.92,320.83 338.00,320.60 338.08,320.40 338.16,320.23 338.24,320.09 338.32,319.98 338.40,319.89 338.48,319.83 338.56,319.79 338.64,319.76 338.72,319.76 338.80,319.78 338.88,319.81 338.96,319.87 339.04,319.94 339.12,320.03 339.20,320.15 339.28,320.28 339.36,320.43 339.44,320.61 339.52,320.82 339.60,321.05 339.68,321.31 339.76,321.61 339.84,321.95 339.92,322.34 340.00,322.79 340.08,323.31 340.16,323.93 340.24,324.70 340.32,324.93 340.40,324.97 340.48,325.01 340.56,325.05 340.64,326.39 340.72,326.43 340.80,326.34 340.88,325.33 340.96,324.58 341.04,323.99 341.12,323.51 341.20,323.12 341.28,322.79 341.36,322.51 341.44,322.28 341.52,322.08 341.60,321.91 341.68,321.78 341.76,321.67 341.84,321.58 341.92,321.52 342.00,321.48 342.08,321.46 342.16,321.46 342.24,321.47 342.32,321.51 342.40,321.56 342.48,321.64 342.56,321.73 342.64,321.84 342.72,321.98 342.80,322.13 342.88,322.31 342.96,322.52 343.04,322.75 343.12,323.02 343.20,323.32 343.28,323.66 343.36,324.05 343.44,324.50 343.52,325.03 343.60,325.67 343.68,325.86 343.76,325.82 343.84,325.78 343.92,325.74 344.00,325.70 344.08,325.48 344.16,325.44 344.24,325.40 344.32,325.37 344.40,325.33 344.48,325.29 344.56,325.05 344.64,324.66 344.72,324.33 344.80,324.05 344.88,323.81 344.96,323.61 345.04,323.44 345.12,323.30 345.20,323.19 345.28,323.10 345.36,323.03 345.44,322.98 345.52,322.95 345.60,322.95 345.68,322.96 345.76,322.98 345.84,323.03 345.92,323.10 346.00,323.18 346.08,323.28 346.16,323.41 346.24,323.55 346.32,323.72 346.40,323.92 346.48,324.14 346.56,324.40 346.64,324.61 346.72,324.63 346.80,324.65 346.88,324.67 346.96,324.70 347.04,324.72 347.12,324.74 347.20,324.75 347.28,324.77 347.36,324.79 347.44,324.77 347.52,324.79 347.60,324.81 347.68,324.79 347.76,324.77 347.84,324.76 347.92,324.74 348.00,324.72 348.08,324.70 348.16,324.68 348.24,324.66 348.32,324.46 348.40,324.21 348.48,323.99 348.56,323.80 348.64,323.64 348.72,323.49 348.80,323.37 348.88,323.27 348.96,323.19 349.04,323.13 349.12,323.09 349.20,323.07 349.28,323.06 349.36,323.07 349.44,323.11 349.52,323.16 349.60,323.23 349.68,323.33 349.76,323.45 349.84,323.59 349.92,323.76 350.00,323.97 350.08,324.21 350.16,324.50 350.24,324.84 350.32,325.03 350.40,325.07 350.48,325.11 350.56,325.14 350.64,325.18 350.72,325.22 350.80,325.25 350.88,324.86 350.96,324.88 351.04,324.91 351.12,324.93 351.20,324.96 351.28,324.98 351.36,325.01 351.44,324.59 351.52,324.15 351.60,323.76 351.68,323.43 351.76,323.13 351.84,322.87 351.92,322.64 352.00,322.44 352.08,322.27 352.16,322.11 352.24,321.98 352.32,321.87 352.40,321.78 352.48,321.71 352.56,321.66 352.64,321.63 352.72,321.61 352.80,321.62 352.88,321.64 352.96,321.69 353.04,321.75 353.12,321.84 353.20,321.95 353.28,322.09 353.36,322.26 353.44,322.46 353.52,322.70 353.60,322.99 353.68,323.33 353.76,323.73 353.84,324.22 353.92,324.83 354.00,325.43 354.08,325.39 354.16,325.35 354.24,325.31 354.32,324.51 354.40,324.47 354.48,324.43 354.56,324.39 354.64,324.36 354.72,324.01 354.80,323.41 354.88,322.89 354.96,322.45 355.04,322.07 355.12,321.74 355.20,321.44 355.28,321.18 355.36,320.96 355.44,320.75 355.52,320.58 355.60,320.43 355.68,320.30 355.76,320.19 355.84,320.10 355.92,320.02 356.00,319.97 356.08,319.94 356.16,319.93 356.24,319.93 356.32,319.96 356.40,320.00 356.48,320.07 356.56,320.16 356.64,320.27 356.72,320.41 356.80,320.58 356.88,320.79 356.96,321.03 357.04,321.32 357.12,321.67 357.20,322.08 357.28,322.58 357.36,323.00 357.44,322.96 357.52,322.92 357.60,322.87 357.68,322.83 357.76,322.86 357.84,322.82 357.92,322.78 358.00,322.74 358.08,322.70 358.16,322.21 358.24,321.62 358.32,321.11 358.40,320.68 358.48,320.31 358.56,319.98 358.64,319.69 358.72,319.43 358.80,319.21 358.88,319.01 358.96,318.83 359.04,318.68 359.12,318.56 359.20,318.45 359.28,318.36 359.36,318.29 359.44,318.24 359.52,318.21 359.60,318.20 359.68,318.21 359.76,318.23 359.84,318.28 359.92,318.35 360.00,318.44 360.08,318.56 360.16,318.70 360.24,318.88 360.32,319.09 360.40,319.34 360.48,319.63 360.56,319.98 360.64,320.41 360.72,320.92 360.80,321.33 360.88,321.29 360.96,321.25 361.04,321.21 361.12,321.16 361.20,322.41 361.28,322.37 361.36,322.33 361.44,321.99 361.52,321.11 361.60,320.40 361.68,319.82 361.76,319.33 361.84,318.90 361.92,318.53 362.00,318.21 362.08,317.92 362.16,317.67 362.24,317.45 362.32,317.25 362.40,317.08 362.48,316.94 362.56,316.81 362.64,316.70 362.72,316.62 362.80,316.55 362.88,316.50 362.96,316.48 363.04,316.47 363.12,316.48 363.20,316.51 363.28,316.56 363.36,316.63 363.44,316.72 363.52,316.84 363.60,316.99 363.68,317.17 363.76,317.39 363.84,317.64 363.92,317.94 364.00,318.30 364.08,318.73 364.16,319.26 364.24,319.92 364.32,320.79 364.40,320.79 364.48,320.75 364.56,320.71 364.64,319.82 364.72,319.78 364.80,319.74 364.88,319.70 364.96,319.28 365.04,318.59 365.12,318.02 365.20,317.54 365.28,317.12 365.36,316.76 365.44,316.44 365.52,316.16 365.60,315.91 365.68,315.69 365.76,315.50 365.84,315.33 365.92,315.19 366.00,315.06 366.08,314.96 366.16,314.88 366.24,314.81 366.32,314.77 366.40,314.74 366.48,314.73 366.56,314.75 366.64,314.78 366.72,314.83 366.80,314.91 366.88,315.00 366.96,315.13 367.04,315.28 367.12,315.46 367.20,315.68 367.28,315.94 367.36,316.25 367.44,316.62 367.52,317.06 367.60,317.60 367.68,318.29 367.76,318.25 367.84,318.21 367.92,318.17 368.00,318.13 368.08,318.40 368.16,318.36 368.24,318.32 368.32,318.28 368.40,317.45 368.48,316.78 368.56,316.22 368.64,315.75 368.72,315.34 368.80,314.98 368.88,314.67 368.96,314.39 369.04,314.15 369.12,313.93 369.20,313.74 369.28,313.58 369.36,313.44 369.44,313.32 369.52,313.22 369.60,313.13 369.68,313.07 369.76,313.03 369.84,313.01 369.92,313.00 370.00,313.02 370.08,313.05 370.16,313.11 370.24,313.18 370.32,313.29 370.40,313.41 370.48,313.57 370.56,313.76 370.64,313.98 370.72,314.24 370.80,314.56 370.88,314.94 370.96,315.39 371.04,315.95 371.12,316.65 371.20,316.83 371.28,316.79 371.36,316.75 371.44,316.71 371.52,316.22 371.60,316.18 371.68,316.14 371.76,316.10 371.84,315.63 371.92,314.97 372.00,314.43 372.08,313.96 372.16,313.56 372.24,313.21 372.32,312.90 372.40,312.63 372.48,312.39 372.56,312.17 372.64,311.99 372.72,311.83 372.80,311.69 372.88,311.57 372.96,311.47 373.04,311.39 373.12,311.33 373.20,311.29 373.28,311.27 373.36,311.27 373.44,311.29 373.52,311.32 373.60,311.38 373.68,311.46 373.76,311.57 373.84,311.70 373.92,311.86 374.00,312.05 374.08,312.28 374.16,312.55 374.24,312.87 374.32,313.25 374.40,313.72 374.48,314.29 374.56,314.69 374.64,314.65 374.72,314.61 374.80,314.57 374.88,316.14 374.96,316.10 375.04,316.06 375.12,315.60 375.20,314.59 375.28,313.81 375.36,313.17 375.44,312.63 375.52,312.17 375.60,311.78 375.68,311.43 375.76,311.13 375.84,310.86 375.92,310.62 376.00,310.42 376.08,310.23 376.16,310.08 376.24,309.94 376.32,309.82 376.40,309.73 376.48,309.65 376.56,309.59 376.64,309.56 376.72,309.54 376.80,309.54 376.88,309.56 376.96,309.60 377.04,309.66 377.12,309.74 377.20,309.85 377.28,309.98 377.36,310.15 377.44,310.34 377.52,310.58 377.60,310.85 377.68,311.18 377.76,311.58 377.84,312.05 377.92,312.64 378.00,313.39 378.08,314.40 378.16,314.48 378.24,314.44 378.32,314.04 378.40,314.00 378.48,313.96 378.56,313.72 378.64,312.75 378.72,311.99 378.80,311.36 378.88,310.84 378.96,310.39 379.04,310.00 379.12,309.66 379.20,309.36 379.28,309.10 379.36,308.86 379.44,308.66 379.52,308.48 379.60,308.32 379.68,308.19 379.76,308.08 379.84,307.98 379.92,307.91 380.00,307.86 380.08,307.82 380.16,307.80 380.24,307.81 380.32,307.83 380.40,307.87 380.48,307.93 380.56,308.02 380.64,308.13 380.72,308.27 380.80,308.44 380.88,308.64 380.96,308.87 381.04,309.16 381.12,309.49 381.20,309.90 381.28,310.39 381.36,310.99 381.44,311.77 381.52,312.42 381.60,312.38 381.68,312.34 381.76,312.58 381.84,312.54 381.92,312.50 382.00,311.85 382.08,310.91 382.16,310.17 382.24,309.56 382.32,309.05 382.40,308.60 382.48,308.22 382.56,307.89 382.64,307.59 382.72,307.33 382.80,307.10 382.88,306.90 382.96,306.73 383.04,306.57 383.12,306.44 383.20,306.33 383.28,306.24 383.36,306.17 383.44,306.12 383.52,306.08 383.60,306.07 383.68,306.07 383.76,306.10 383.84,306.14 383.92,306.21 384.00,306.30 384.08,306.41 384.16,306.56 384.24,306.73 384.32,306.93 384.40,307.17 384.48,307.46 384.56,307.81 384.64,308.22 384.72,308.72 384.80,309.35 384.88,310.15 384.96,310.96 385.04,310.92 385.12,310.88 385.20,309.79 385.28,309.75 385.36,309.71 385.44,309.67 385.52,309.08 385.60,308.35 385.68,307.76 385.76,307.25 385.84,306.82 385.92,306.45 386.00,306.12 386.08,305.83 386.16,305.57 386.24,305.34 386.32,305.15 386.40,304.97 386.48,304.82 386.56,304.69 386.64,304.59 386.72,304.50 386.80,304.43 386.88,304.38 386.96,304.35 387.04,304.34 387.12,304.34 387.20,304.37 387.28,304.42 387.36,304.49 387.44,304.58 387.52,304.70 387.60,304.84 387.68,305.02 387.76,305.23 387.84,305.48 387.92,305.77 388.00,306.12 388.08,306.54 388.16,307.06 388.24,307.70 388.32,308.22 388.40,308.18 388.48,308.14 388.56,308.10 388.64,307.18 388.72,307.14 388.80,307.10 388.88,307.06 388.96,307.02 389.04,306.54 389.12,305.96 389.20,305.46 389.28,305.04 389.36,304.67 389.44,304.34 389.52,304.06 389.60,303.81 389.68,303.59 389.76,303.39 389.84,303.22 389.92,303.07 390.00,302.95 390.08,302.84 390.16,302.76 390.24,302.69 390.32,302.64 390.40,302.61 390.48,302.60 390.56,302.61 390.64,302.64 390.72,302.69 390.80,302.77 390.88,302.86 390.96,302.98 391.04,303.13 391.12,303.31 391.20,303.52 391.28,303.78 391.36,304.08 391.44,304.44 391.52,304.87 391.60,305.40 391.68,305.65 391.76,305.61 391.84,305.57 391.92,305.53 392.00,305.49 392.08,305.88 392.16,305.84 392.24,305.80 392.32,305.76 392.40,305.41 392.48,304.73 392.56,304.16 392.64,303.67 392.72,303.26 392.80,302.89 392.88,302.57 392.96,302.29 393.04,302.05 393.12,301.83 393.20,301.64 393.28,301.47 393.36,301.32 393.44,301.20 393.52,301.10 393.60,301.01 393.68,300.95 393.76,300.90 393.84,300.88 393.92,300.87 394.00,300.88 394.08,300.92 394.16,300.97 394.24,301.04 394.32,301.14 394.40,301.27 394.48,301.42 394.56,301.60 394.64,301.82 394.72,302.08 394.80,302.39 394.88,302.75 394.96,303.20 395.04,303.74 395.12,304.34 395.20,304.30 395.28,304.26 395.36,304.22 395.44,304.18 395.52,305.81 395.60,305.77 395.68,305.51 395.76,304.42 395.84,303.59 395.92,302.92 396.00,302.36 396.08,301.89 396.16,301.48 396.24,301.12 396.32,300.80 396.40,300.53 396.48,300.28 396.56,300.07 396.64,299.88 396.72,299.72 396.80,299.57 396.88,299.45 396.96,299.35 397.04,299.27 397.12,299.21 397.20,299.17 397.28,299.14 397.36,299.14 397.44,299.15 397.52,299.19 397.60,299.24 397.68,299.32 397.76,299.42 397.84,299.55 397.92,299.71 398.00,299.89 398.08,300.12 398.16,300.38 398.24,300.70 398.32,301.07 398.40,301.53 398.48,302.08 398.56,302.79 398.64,303.72 398.70,304.20"/>
<polyline clip-path="url(#cg)" fill="none" stroke="#f03535" stroke-width="0.8" stroke-linejoin="round"  points="430.50,44.22 430.62,46.30 430.74,48.93 430.86,51.93 430.98,55.13 431.10,58.35 431.22,61.42 431.34,64.19 431.46,66.52 431.58,68.33 431.70,69.55 431.82,70.16 431.94,70.17 432.06,69.62 432.18,68.60 432.30,67.19 432.42,65.50 432.54,63.66 432.66,61.78 432.78,59.97 432.90,58.32 433.02,56.91 433.14,55.79 433.26,54.99 433.38,54.51 433.50,54.33 433.62,54.42 433.74,54.74 433.86,55.24 433.98,55.87 434.10,56.58 434.22,57.37 434.34,60.59 434.46,59.71 434.58,58.77 434.70,57.79 434.82,56.80 434.94,55.81 435.06,54.90 435.18,54.11 435.30,53.52 435.42,53.19 435.54,53.19 435.66,53.55 435.78,54.29 435.90,55.43 436.02,56.93 436.14,58.74 436.26,60.78 436.38,62.95 436.50,65.14 436.62,67.20 436.74,69.02 436.86,70.45 436.98,71.39 437.10,71.75 437.22,71.45 437.34,70.48 437.46,68.83 437.58,66.57 437.70,63.76 437.82,60.54 437.94,57.06 438.06,53.50 438.18,50.05 438.30,46.90 438.42,44.25 438.54,42.25 438.66,41.07 438.78,40.79 438.90,41.47 439.02,43.13 439.14,45.72 439.26,49.13 439.38,53.22 439.50,57.80 439.62,62.65 439.74,67.51 439.86,72.14 439.98,76.27 440.10,79.68 440.22,82.15 440.34,83.53 440.46,83.71 440.58,82.64 440.70,80.34 440.82,76.89 440.94,72.44 441.06,67.20 441.18,61.40 441.30,55.35 441.42,49.35 441.54,43.71 441.66,38.74 441.78,34.70 441.90,31.84 442.02,30.32 442.14,30.25 442.26,31.67 442.38,34.54 442.50,38.73 442.62,44.06 442.74,50.27 442.86,57.06 442.98,64.10 443.10,71.02 443.22,77.46 443.34,83.09 443.46,87.61 443.58,90.76 443.70,92.36 443.82,92.32 443.94,90.60 444.06,87.27 444.18,82.49 444.30,76.48 444.42,69.53 444.54,61.98 444.66,54.22 444.78,46.64 444.90,39.63 445.02,33.56 445.14,28.73 445.26,25.41 445.38,23.78 445.50,23.95 445.62,25.90 445.74,29.56 445.86,34.76 445.98,41.23 446.10,48.66 446.22,56.67 446.34,64.86 446.46,72.82 446.58,80.13 446.70,86.43 446.82,91.39 446.94,94.75 447.06,96.33 447.18,96.07 447.30,93.95 447.42,90.09 447.54,84.68 447.66,77.99 447.78,70.36 447.90,62.18 448.02,53.86 448.14,45.83 448.26,38.48 448.38,32.20 448.50,27.30 448.62,24.02 448.74,22.53 448.86,22.90 448.98,25.10 449.10,29.01 449.22,34.44 449.34,41.10 449.46,48.64 449.58,56.68 449.70,64.81 449.82,72.62 449.94,79.72 450.06,85.75 450.18,90.41 450.30,93.48 450.42,94.82 450.54,94.37 450.66,92.17 450.78,88.34 450.90,83.11 451.02,76.74 451.14,69.56 451.26,61.96 451.38,54.32 451.50,47.02 451.62,40.44 451.74,34.89 451.86,30.64 451.98,27.89 452.10,26.76 452.22,27.27 452.34,29.39 452.46,32.98 452.58,37.83 452.70,43.68 452.82,50.22 452.94,57.09 453.06,63.96 453.18,70.47 453.30,76.30 453.42,81.16 453.54,84.84 453.66,87.17 453.78,88.05 453.90,87.49 454.02,85.53 454.14,82.31 454.26,78.03 454.38,72.92 454.50,67.27 454.62,61.37 454.74,55.53 454.86,50.05 454.98,45.19 455.10,41.19 455.22,38.22 455.34,36.40 455.46,35.79 455.58,36.38 455.70,38.10 455.82,40.83 455.94,44.39 456.06,48.57 456.18,53.14 456.30,57.84 456.42,62.44 456.54,66.70 456.66,70.41 456.78,73.41 456.90,75.57 457.02,76.83 457.14,77.15 457.26,76.56 457.38,75.13 457.50,72.99 457.62,70.28 457.74,67.17 457.86,63.85 457.98,60.49 458.10,57.29 458.22,54.39 458.34,51.93 458.46,50.02 458.58,48.72 458.70,48.06 458.82,48.02 458.94,48.57 459.06,49.64 459.18,51.11 459.30,52.89 459.42,54.84 459.54,56.84 459.66,58.78 459.78,60.56 459.90,62.09 460.02,63.31 460.14,64.19 460.26,64.72 460.38,64.92 460.50,64.80 460.62,64.44 460.74,63.87 460.86,63.15 460.98,62.35 461.10,61.49 461.22,60.60 461.34,59.70 461.46,60.01 461.58,60.93 461.70,61.84 461.82,62.73 461.94,63.56 462.06,64.27 462.18,64.80 462.30,65.11 462.42,65.12 462.54,64.80 462.66,64.13 462.78,63.08 462.90,61.70 463.02,60.02 463.14,58.11 463.26,56.07 463.38,54.01 463.50,52.05 463.62,50.32 463.74,48.94 463.86,48.02 463.98,47.66 464.10,47.92 464.22,48.83 464.34,50.38 464.46,52.54 464.58,55.22 464.70,58.31 464.82,61.65 464.94,65.08 465.06,68.41 465.18,71.46 465.30,74.04 465.42,75.98 465.54,77.15 465.66,77.43 465.78,76.78 465.90,75.19 466.02,72.69 466.14,69.39 466.26,65.41 466.38,60.96 466.50,56.23 466.62,51.49 466.74,46.97 466.86,42.92 466.98,39.58 467.10,37.15 467.22,35.79 467.34,35.60 467.46,36.63 467.58,38.88 467.70,42.25 467.82,46.60 467.94,51.75 468.06,57.43 468.18,63.38 468.30,69.28 468.42,74.83 468.54,79.73 468.66,83.71 468.78,86.54 468.90,88.05 469.02,88.13 469.14,86.74 469.26,83.93 469.38,79.80 469.50,74.55 469.62,68.42 469.74,61.71 469.86,54.76 469.98,47.91 470.10,41.54 470.22,35.96 470.34,31.48 470.46,28.36 470.58,26.76 470.70,26.79 470.82,28.49 470.94,31.77 471.06,36.51 471.18,42.46 471.30,49.35 471.42,56.84 471.54,64.54 471.66,72.07 471.78,79.03 471.90,85.08 472.02,89.88 472.14,93.19 472.26,94.82 472.38,94.67 472.50,92.73 472.62,89.10 472.74,83.94 472.86,77.50 472.98,70.10 473.10,62.12 473.22,53.96 473.34,46.02 473.46,38.73 473.58,32.44 473.70,27.49 473.82,24.13 473.94,22.53 474.06,22.79 474.18,24.90 474.30,28.74 474.42,34.14 474.54,40.82 474.66,48.44 474.78,56.62 474.90,64.94 475.02,72.98 475.14,80.33 475.26,86.63 475.38,91.54 475.50,94.83 475.62,96.33 475.74,95.98 475.86,93.78 475.98,89.86 476.10,84.43 476.22,77.76 476.34,70.20 476.46,62.13 476.58,53.97 476.70,46.12 476.82,38.99 476.94,32.93 477.06,28.23 477.18,25.14 477.30,23.78 477.42,24.23 477.54,26.43 477.66,30.27 477.78,35.53 477.90,41.94 478.02,49.16 478.14,56.82 478.26,64.52 478.38,71.88 478.50,78.52 478.62,84.13 478.74,88.42 478.86,91.21 478.98,92.36 479.10,91.85 479.22,89.72 479.34,86.10 479.46,81.21 479.58,75.30 479.70,68.69 479.82,61.74 479.94,54.78 480.06,48.19 480.18,42.28 480.30,37.34 480.42,33.60 480.54,31.23 480.66,30.32 480.78,30.88 480.90,32.86 481.02,36.11 481.14,40.46 481.26,45.65 481.38,51.40 481.50,57.40 481.62,63.34 481.74,68.93 481.86,73.89 481.98,77.98 482.10,81.02 482.22,82.89 482.34,83.53 482.46,82.94 482.58,81.20 482.70,78.42 482.82,74.78 482.94,70.50 483.06,65.82 483.18,61.00 483.30,56.28 483.42,51.90 483.54,48.07 483.66,44.97 483.78,42.72 483.90,41.41 484.02,41.07 484.14,41.66 484.26,43.11 484.38,45.31 484.50,48.11 484.62,51.32 484.74,54.77 484.86,58.26 484.98,61.60 485.10,64.64 485.22,67.21 485.34,69.23 485.46,70.61 485.58,71.33 485.70,71.39 485.82,70.83 485.94,69.73 486.06,68.19 486.18,66.33 486.30,64.26 486.42,62.13 486.54,60.06 486.66,58.15 486.78,56.50 486.90,55.17 487.02,54.21 487.14,53.62 487.26,53.40 487.38,53.52 487.50,53.93 487.62,54.56 487.74,55.36 487.86,56.26 487.98,57.20 488.10,58.16 488.22,59.09 488.34,60.00 488.46,57.92 488.58,57.07 488.70,56.27 488.82,55.53 488.94,54.90 489.06,54.42 489.18,54.15 489.30,54.14 489.42,54.43 489.54,55.04 489.66,55.99 489.78,57.27 489.90,58.83 490.02,60.61 490.14,62.52 490.26,64.46 490.38,66.31 490.50,67.96 490.62,69.28 490.74,70.17 490.86,70.53 490.98,70.31 491.10,69.46 491.22,68.00 491.34,65.95 491.46,63.40 491.58,60.45 491.70,57.24 491.82,53.94 491.94,50.73 492.06,47.78 492.18,45.28 492.30,43.39 492.42,42.25 492.54,41.95 492.66,42.56 492.78,44.09 492.90,46.50 493.02,49.70 493.14,53.55 493.26,57.89 493.38,62.48 493.50,67.11 493.62,71.52 493.74,75.48 493.86,78.75 493.98,81.14 494.10,82.49 494.22,82.68 494.34,81.69 494.46,79.50 494.58,76.21 494.70,71.95 494.82,66.91 494.94,61.33 495.06,55.49 495.18,49.69 495.30,44.23 495.42,39.41 495.54,35.48 495.66,32.68 495.78,31.18 495.90,31.09 496.02,32.45 496.14,35.22 496.26,39.28 496.38,44.45 496.50,50.50 496.62,57.12 496.74,63.99 496.86,70.75 496.98,77.06 497.10,82.58 497.22,87.02 497.34,90.12 497.46,91.71 497.58,91.69 497.70,90.02 497.82,86.78 497.94,82.09 498.06,76.19 498.18,69.36 498.30,61.94 498.42,54.30 498.54,46.83 498.66,39.90 498.78,33.89 498.90,29.11 499.02,25.82 499.14,24.19 499.26,24.33 499.38,26.24 499.50,29.85 499.62,34.98 499.74,41.38 499.86,48.74 499.98,56.69 500.10,64.82 500.22,72.73 500.34,80.01 500.46,86.28 500.58,91.23 500.70,94.59 500.82,96.19 500.94,95.94 501.06,93.85 501.18,90.01 501.30,84.63 501.42,77.96 501.54,70.35 501.66,62.18 501.78,53.86 501.90,45.82 502.02,38.46 502.14,32.15 502.26,27.23 502.38,23.93 502.50,22.41 502.62,22.76 502.74,24.95 502.86,28.87 502.98,34.31 503.10,40.99 503.22,48.57 503.34,56.66 503.46,64.85 503.58,72.73 503.70,79.89 503.82,85.99 503.94,90.71 504.06,93.83 504.18,95.20 504.30,94.76 504.42,92.56 504.54,88.70 504.66,83.42 504.78,76.97 504.90,69.71 505.02,62.00 505.14,54.24 505.26,46.83 505.38,40.12 505.50,34.46 505.62,30.12 505.74,27.30 505.86,26.13 505.98,26.64 506.10,28.78 506.22,32.42 506.34,37.36 506.46,43.33 506.58,50.00 506.70,57.04 506.82,64.07 506.94,70.75 507.06,76.74 507.18,81.75 507.30,85.55 507.42,87.96 507.54,88.90 507.66,88.34 507.78,86.35 507.90,83.05 508.02,78.65 508.14,73.38 508.26,67.54 508.38,61.44 508.50,55.39 508.62,49.69 508.74,44.64 508.86,40.46 508.98,37.34 509.10,35.42 509.22,34.76 509.34,35.34 509.46,37.11 509.58,39.94 509.70,43.65 509.82,48.03 509.94,52.81 510.06,57.76 510.18,62.61 510.30,67.11 510.42,71.05 510.54,74.25 510.66,76.57 510.78,77.94 510.90,78.31 511.02,77.72 511.14,76.24 511.26,73.98 511.38,71.10 511.50,67.78 511.62,64.21 511.74,60.58 511.86,57.11 511.98,53.94 512.10,51.24 512.22,49.12 512.34,47.65 512.46,46.88 512.58,46.79 512.70,47.36 512.82,48.49 512.94,50.10 513.06,52.06 513.18,54.23 513.30,56.49 513.42,58.70 513.54,60.74 513.66,62.52 513.78,63.96 513.90,65.01 514.02,65.66 514.14,65.91 514.26,65.79 514.38,65.35 514.50,64.66 514.62,63.78 514.74,62.79 514.86,61.75 514.98,60.72 515.10,59.72 515.22,58.78 515.34,57.92 515.46,61.68 515.58,62.41 515.70,63.06 515.82,63.60 515.94,64.01 516.06,64.24 516.18,64.24 516.30,63.97 516.42,63.41 516.54,62.54 516.66,61.37 516.78,59.93 516.90,58.28 517.02,56.50 517.14,54.68 517.26,52.93 517.38,51.37 517.50,50.10 517.62,49.24 517.74,48.88 517.86,49.07 517.98,49.85 518.10,51.22 518.22,53.16 518.34,55.58 518.46,58.40 518.58,61.47 518.70,64.64 518.82,67.73 518.94,70.58 519.06,73.00 519.18,74.84 519.30,75.96 519.42,76.26 519.54,75.69 519.66,74.22 519.78,71.90 519.90,68.81 520.02,65.08 520.14,60.87 520.26,56.40 520.38,51.90 520.50,47.59 520.62,43.73 520.74,40.52 520.86,38.18 520.98,36.85 521.10,36.64 521.22,37.60 521.34,39.73 521.46,42.94 521.58,47.11 521.70,52.04 521.82,57.51 521.94,63.23 522.06,68.93 522.18,74.30 522.30,79.05 522.42,82.92 522.54,85.68 522.66,87.17 522.78,87.27 522.90,85.94 523.02,83.23 523.14,79.24 523.26,74.14 523.38,68.18 523.50,61.65 523.62,54.87 523.74,48.19 523.86,41.95 523.98,36.49 524.10,32.09 524.22,29.01 524.34,27.43 524.46,27.44 524.58,29.08 524.70,32.29 524.82,36.92 524.94,42.76 525.06,49.52 525.18,56.88 525.30,64.46 525.42,71.88 525.54,78.75 525.66,84.72 525.78,89.48 525.90,92.76 526.02,94.39 526.14,94.26 526.26,92.37 526.38,88.79 526.50,83.69 526.62,77.33 526.74,70.01 526.86,62.10 526.98,54.00 527.10,46.12 527.22,38.87 527.34,32.61 527.46,27.67 527.58,24.31 527.70,22.70 527.82,22.94 527.94,25.02 528.06,28.84 528.18,34.21 528.30,40.86 528.42,48.46 528.54,56.62 528.66,64.94 528.78,72.98 528.90,80.34 529.02,86.65 529.14,91.59 529.26,94.90 529.38,96.43 529.50,96.09 529.62,93.90 529.74,89.99 529.86,84.55 529.98,77.86 530.10,70.26 530.22,62.15 530.34,53.93 530.46,46.02 530.58,38.83 530.70,32.71 530.82,27.96 530.94,24.81 531.06,23.43 531.18,23.86 531.30,26.07 531.42,29.93 531.54,35.24 531.66,41.72 531.78,49.02 531.90,56.78 532.02,64.59 532.14,72.07 532.26,78.82 532.38,84.53 532.50,88.92 532.62,91.77 532.74,92.97 532.86,92.47 532.98,90.31 533.10,86.65 533.22,81.67 533.34,75.64 533.46,68.90 533.58,61.79 533.70,54.67 533.82,47.91 533.94,41.85 534.06,36.76 534.18,32.91 534.30,30.45 534.42,29.49 534.54,30.04 534.66,32.06 534.78,35.39 534.90,39.86 535.02,45.20 535.14,51.13 535.26,57.33 535.38,63.48 535.50,69.28 535.62,74.43 535.74,78.70 535.86,81.88 535.98,83.86 536.10,84.55 536.22,83.96 536.34,82.17 536.46,79.29 536.58,75.51 536.70,71.04 536.82,66.15 536.94,61.08 537.06,56.11 537.18,51.49 537.30,47.43 537.42,44.13 537.54,41.73 537.66,40.31 537.78,39.91 537.90,40.50 538.02,42.02 538.14,44.33 538.26,47.30 538.38,50.72 538.50,54.42 538.62,58.17 538.74,61.78 538.86,65.08 538.98,67.90 539.10,70.13 539.22,71.68 539.34,72.51 539.46,72.62 539.58,72.05 539.70,70.88 539.82,69.21 539.94,67.16 540.06,64.87 540.18,62.49 540.30,60.15 540.42,57.97 540.54,56.07 540.66,54.51 540.78,53.36 540.90,52.65 541.02,52.36 541.14,52.47 541.26,52.93 541.38,53.68 541.50,54.63 541.62,55.71 541.74,56.85 541.86,57.99 541.98,59.06 542.10,60.05 542.22,60.93 542.34,61.70 542.46,56.43 542.58,55.87 542.70,55.41 542.82,55.08 542.94,54.91 543.06,54.93 543.18,55.19 543.30,55.71 543.42,56.51 543.54,57.59 543.66,58.91 543.78,60.44 543.90,62.09 544.02,63.79 544.14,65.44 544.26,66.91 544.38,68.12 544.50,68.95 544.62,69.32 544.74,69.16 544.86,68.45 544.98,67.16 545.10,65.34 545.22,63.04 545.34,60.36 545.46,57.42 545.58,54.39 545.70,51.41 545.82,48.67 545.94,46.33 546.06,44.54 546.18,43.44 546.30,43.13 546.42,43.67 546.54,45.06 546.66,47.30 546.78,50.28 546.90,53.90 547.02,57.97 547.14,62.31 547.26,66.70 547.38,70.89 547.50,74.67 547.62,77.80 547.74,80.10 547.86,81.41 547.98,81.63 548.10,80.70 548.22,78.64 548.34,75.51 548.46,71.44 548.58,66.61 548.70,61.26 548.82,55.64 548.94,50.05 549.06,44.78 549.18,40.10 549.30,36.29 549.42,33.56 549.54,32.09 549.66,31.98 549.78,33.27 549.90,35.93 550.02,39.86 550.14,44.87 550.26,50.74 550.38,57.18 550.50,63.87 550.62,70.47 550.74,76.63 550.86,82.04 550.98,86.39 551.10,89.44 551.22,91.02 551.34,91.02 551.46,89.41 551.58,86.24 551.70,81.67 551.82,75.89 551.94,69.19 552.06,61.90 552.18,54.38 552.30,47.02 552.42,40.20 552.54,34.27 552.66,29.54 552.78,26.27 552.90,24.64 553.02,24.76 553.14,26.63 553.26,30.18 553.38,35.24 553.50,41.57 553.62,48.85 553.74,56.71 553.86,64.78 553.98,72.62 554.10,79.85 554.22,86.09 554.34,91.02 554.46,94.38 554.58,95.99 554.70,95.76 554.82,93.70 554.94,89.90 555.06,84.55 555.18,77.91 555.30,70.33 555.42,62.17 555.54,53.87 555.66,45.83 555.78,38.46 555.90,32.15 556.02,27.20 556.14,23.88 556.26,22.34 556.38,22.67 556.50,24.85 556.62,28.76 556.74,34.21 556.86,40.91 556.98,48.51 557.10,56.64 557.22,64.88 557.34,72.82 557.46,80.04 557.58,86.19 557.70,90.97 557.82,94.13 557.94,95.53 558.06,95.11 558.18,92.90 558.30,89.02 558.42,83.69 558.54,77.18 558.66,69.84 558.78,62.03 558.90,54.17 559.02,46.64 559.14,39.83 559.26,34.08 559.38,29.65 559.50,26.76 559.62,25.55 559.74,26.04 559.86,28.20 559.98,31.90 560.10,36.92 560.22,42.99 560.34,49.80 560.46,56.98 560.58,64.18 560.70,71.02 560.82,77.16 560.94,82.31 561.06,86.22 561.18,88.72 561.30,89.71 561.42,89.16 561.54,87.13 561.66,83.76 561.78,79.24 561.90,73.82 562.02,67.81 562.14,61.51 562.26,55.25 562.38,49.35 562.50,44.10 562.62,39.75 562.74,36.50 562.86,34.47 562.98,33.76 563.10,34.34 563.22,36.16 563.34,39.09 563.46,42.94 563.58,47.49 563.70,52.50 563.82,57.68 563.94,62.77 564.06,67.51 564.18,71.68 564.30,75.07 564.42,77.56 564.54,79.03 564.66,79.46 564.78,78.87 564.90,77.33 565.02,74.95 565.14,71.90 565.26,68.37 565.38,64.56 565.50,60.67 565.62,56.93 565.74,53.50 565.86,50.56 565.98,48.22 566.10,46.59 566.22,45.71 566.34,45.57 566.46,46.14 566.58,47.35 566.70,49.08 566.82,51.22 566.94,53.62 567.06,56.13 567.18,58.60 567.30,60.92 567.42,62.95 567.54,64.62 567.66,65.87 567.78,66.66 567.90,66.99 568.02,66.89 568.14,66.41 568.26,65.61 568.38,64.59 568.50,63.41 568.62,62.17 568.74,60.93 568.86,59.77 568.98,58.71 569.10,57.79 569.22,57.02 569.34,56.39 569.46,55.89 569.58,63.28 569.70,63.53 569.82,63.63 569.94,63.56 570.06,63.29 570.18,62.79 570.30,62.05 570.42,61.07 570.54,59.85 570.66,58.45 570.78,56.91 570.90,55.33 571.02,53.79 571.14,52.40 571.26,51.25 571.38,50.45 571.50,50.08 571.62,50.20 571.74,50.86 571.86,52.06 571.98,53.77 572.10,55.95 572.22,58.49 572.34,61.28 572.46,64.19 572.58,67.04 572.70,69.68 572.82,71.94 572.94,73.68 573.06,74.75 573.18,75.07 573.30,74.58 573.42,73.24 573.54,71.10 573.66,68.22 573.78,64.73 573.90,60.78 574.02,56.57 574.14,52.31 574.26,48.23 574.38,44.55 574.50,41.49 574.62,39.23 574.74,37.94 574.86,37.71 574.98,38.60 575.10,40.60 575.22,43.65 575.34,47.63 575.46,52.34 575.58,57.58 575.70,63.08 575.82,68.57 575.94,73.75 576.06,78.34 576.18,82.09 576.30,84.79 576.42,86.25 576.54,86.37 576.66,85.11 576.78,82.50 576.90,78.65 577.02,73.71 577.14,67.93 577.26,61.59 577.38,54.99 577.50,48.48 577.62,42.39 577.74,37.05 577.86,32.74 577.98,29.71 578.10,28.14 578.22,28.13 578.34,29.72 578.46,32.84 578.58,37.36 578.70,43.07 578.82,49.70 578.94,56.92 579.06,64.37 579.18,71.67 579.30,78.44 579.42,84.34 579.54,89.04 579.66,92.29 579.78,93.91 579.90,93.81 580.02,91.96 580.14,88.44 580.26,83.42 580.38,77.13 580.50,69.90 580.62,62.07 580.74,54.05 580.86,46.24 580.98,39.03 581.10,32.81 581.22,27.89 581.34,24.54 581.46,22.92 581.58,23.14 581.70,25.19 581.82,28.97 581.94,34.31 582.06,40.92 582.18,48.49 582.30,56.63 582.42,64.93 582.54,72.96 582.66,80.33 582.78,86.65 582.90,91.60 583.02,94.93 583.14,96.47 583.26,96.15 583.38,93.98 583.50,90.07 583.62,84.63 583.74,77.93 583.86,70.31 583.98,62.16 584.10,53.90 584.22,45.95 584.34,38.70 584.46,32.52 584.58,27.72 584.70,24.54 584.82,23.12 584.94,23.53 585.06,25.75 585.18,29.63 585.30,34.98 585.42,41.52 585.54,48.90 585.66,56.75 585.78,64.66 585.90,72.24 586.02,79.10 586.14,84.91 586.26,89.37 586.38,92.29 586.50,93.52 586.62,93.04 586.74,90.87 586.86,87.15 586.98,82.09 587.10,75.97 587.22,69.10 587.34,61.84 587.46,54.57 587.58,47.65 587.70,41.44 587.82,36.22 587.94,32.25 588.06,29.71 588.18,28.70 588.30,29.25 588.42,31.29 588.54,34.70 588.66,39.28 588.78,44.77 588.90,50.87 589.02,57.26 589.14,63.62 589.26,69.61 589.38,74.96 589.50,79.39 589.62,82.72 589.74,84.79 589.86,85.53 589.98,84.95 590.10,83.11 590.22,80.13 590.34,76.21 590.46,71.56 590.58,66.46 590.70,61.16 590.82,55.95 590.94,51.09 591.06,46.81 591.18,43.32 591.30,40.76 591.42,39.23 591.54,38.77 591.66,39.37 591.78,40.94 591.90,43.37 592.02,46.50 592.14,50.14 592.26,54.07 592.38,58.08 592.50,61.96 592.62,65.52 592.74,68.58 592.86,71.02 592.98,72.73 593.10,73.68 593.22,73.84 593.34,73.27 593.46,72.03 593.58,70.23 593.70,68.00 593.82,65.49 593.94,62.85 594.06,60.24 594.18,57.79 594.30,55.62 594.42,53.83 594.54,52.49 594.66,51.63 594.78,51.25 594.90,51.34 595.02,51.83 595.14,52.67 595.26,53.77 595.38,55.04 595.50,56.39 595.62,57.73 595.74,59.00 595.86,60.14 595.98,61.12 596.10,61.92 596.22,62.53 596.34,62.98 596.46,63.28 596.58,55.36 596.70,55.34 596.82,55.47 596.94,55.77 597.06,56.26 597.18,56.95 597.30,57.87 597.42,58.99 597.54,60.28 597.66,61.69 597.78,63.16 597.90,64.59 598.00,65.70"/>
<polyline clip-path="url(#cg)" fill="none" stroke="#4760e8" stroke-width="1.4" stroke-linejoin="round"  points="430.50,60.15 430.70,59.90 430.90,59.59 431.10,59.26 431.30,58.95 431.50,58.72 431.70,58.58 431.90,58.55 432.10,58.62 432.30,58.75 432.50,58.94 432.70,59.13 432.90,59.31 433.10,59.44 433.30,59.52 433.50,59.54 433.70,59.52 433.90,59.46 434.10,59.39 434.30,59.31 434.50,59.23 434.70,59.33 434.90,59.43 435.10,59.53 435.30,59.59 435.50,59.61 435.70,59.56 435.90,59.45 436.10,59.28 436.30,59.07 436.50,58.85 436.70,58.65 436.90,58.51 437.10,58.46 437.30,58.53 437.50,58.71 437.70,58.99 437.90,59.33 438.10,59.70 438.30,60.02 438.50,60.26 438.70,60.37 438.90,60.32 439.10,60.10 439.30,59.74 439.50,59.27 439.70,58.77 439.90,58.31 440.10,57.94 440.30,57.74 440.50,57.75 440.70,57.96 440.90,58.37 441.10,58.92 441.30,59.54 441.50,60.14 441.70,60.63 441.90,60.95 442.10,61.03 442.30,60.86 442.50,60.45 442.70,59.86 442.90,59.15 443.10,58.44 443.30,57.81 443.50,57.37 443.70,57.18 443.90,57.27 444.10,57.64 444.30,58.24 444.50,58.98 444.70,59.78 444.90,60.51 445.10,61.08 445.30,61.39 445.50,61.40 445.70,61.11 445.90,60.56 446.10,59.81 446.30,58.97 446.50,58.16 446.70,57.49 446.90,57.06 447.10,56.93 447.30,57.12 447.50,57.60 447.70,58.30 447.90,59.14 448.10,59.98 448.30,60.72 448.50,61.25 448.70,61.50 448.90,61.43 449.10,61.06 449.30,60.43 449.50,59.64 449.70,58.81 449.90,58.03 450.10,57.44 450.30,57.09 450.50,57.05 450.70,57.30 450.90,57.82 451.10,58.52 451.30,59.30 451.50,60.06 451.70,60.69 451.90,61.10 452.10,61.25 452.30,61.11 452.50,60.72 452.70,60.13 452.90,59.44 453.10,58.74 453.30,58.12 453.50,57.68 453.70,57.46 453.90,57.50 454.10,57.76 454.30,58.22 454.50,58.80 454.70,59.40 454.90,59.96 455.10,60.39 455.30,60.64 455.50,60.68 455.70,60.52 455.90,60.20 456.10,59.76 456.30,59.27 456.50,58.81 456.70,58.44 456.90,58.20 457.10,58.12 457.30,58.20 457.50,58.40 457.70,58.71 457.90,59.05 458.10,59.39 458.30,59.67 458.50,59.85 458.70,59.93 458.90,59.91 459.10,59.79 459.30,59.61 459.50,59.40 459.70,59.21 459.90,59.04 460.10,58.93 460.30,58.88 460.50,58.89 460.70,58.94 460.90,59.01 461.10,59.10 461.30,59.20 461.50,59.16 461.70,59.06 461.90,58.98 462.10,58.91 462.30,58.87 462.50,58.89 462.70,58.96 462.90,59.10 463.10,59.28 463.30,59.49 463.50,59.69 463.70,59.85 463.90,59.94 464.10,59.92 464.30,59.80 464.50,59.57 464.70,59.26 464.90,58.91 465.10,58.57 465.30,58.30 465.50,58.14 465.70,58.12 465.90,58.27 466.10,58.57 466.30,58.99 466.50,59.47 466.70,59.95 466.90,60.35 467.10,60.62 467.30,60.70 467.50,60.57 467.70,60.24 467.90,59.75 468.10,59.16 468.30,58.55 468.50,58.02 468.70,57.62 468.90,57.45 469.10,57.51 469.30,57.83 469.50,58.35 469.70,59.01 469.90,59.72 470.10,60.39 470.30,60.91 470.50,61.21 470.70,61.23 470.90,60.97 471.10,60.46 471.30,59.77 471.50,58.99 471.70,58.22 471.90,57.58 472.10,57.16 472.30,57.02 472.50,57.19 472.70,57.65 472.90,58.33 473.10,59.14 473.30,59.97 473.50,60.71 473.70,61.24 473.90,61.50 474.10,61.44 474.30,61.07 474.50,60.45 474.70,59.65 474.90,58.80 475.10,58.00 475.30,57.37 475.50,57.01 475.70,56.95 475.90,57.20 476.10,57.74 476.30,58.47 476.50,59.31 476.70,60.12 476.90,60.81 477.10,61.26 477.30,61.43 477.50,61.30 477.70,60.88 477.90,60.23 478.10,59.46 478.30,58.67 478.50,57.98 478.70,57.46 478.90,57.20 479.10,57.23 479.30,57.53 479.50,58.05 479.70,58.72 479.90,59.44 480.10,60.11 480.30,60.64 480.50,60.95 480.70,61.02 480.90,60.84 481.10,60.45 481.30,59.90 481.50,59.29 481.70,58.69 481.90,58.19 482.10,57.86 482.30,57.73 482.50,57.81 482.70,58.08 482.90,58.49 483.10,58.97 483.30,59.47 483.50,59.89 483.70,60.20 483.90,60.35 484.10,60.34 484.30,60.17 484.50,59.89 484.70,59.55 484.90,59.19 485.10,58.87 485.30,58.63 485.50,58.50 485.70,58.48 485.90,58.57 486.10,58.73 486.30,58.94 486.50,59.16 486.70,59.36 486.90,59.50 487.10,59.58 487.30,59.60 487.50,59.56 487.70,59.49 487.90,59.39 488.10,59.29 488.30,59.20 488.50,59.34 488.70,59.42 488.90,59.49 489.10,59.54 489.30,59.54 489.50,59.50 489.70,59.40 489.90,59.24 490.10,59.05 490.30,58.86 490.50,58.68 490.70,58.57 490.90,58.54 491.10,58.62 491.30,58.80 491.50,59.07 491.70,59.39 491.90,59.73 492.10,60.02 492.30,60.23 492.50,60.30 492.70,60.22 492.90,59.99 493.10,59.63 493.30,59.18 493.50,58.70 493.70,58.27 493.90,57.95 494.10,57.79 494.30,57.83 494.50,58.08 494.70,58.50 494.90,59.05 495.10,59.65 495.30,60.21 495.50,60.67 495.70,60.93 495.90,60.97 496.10,60.75 496.30,60.32 496.50,59.71 496.70,59.01 496.90,58.32 497.10,57.74 497.30,57.35 497.50,57.21 497.70,57.36 497.90,57.77 498.10,58.39 498.30,59.15 498.50,59.93 498.70,60.62 498.90,61.14 499.10,61.39 499.30,61.35 499.50,61.01 499.70,60.41 499.90,59.64 500.10,58.81 500.30,58.02 500.50,57.40 500.70,57.02 500.90,56.95 501.10,57.20 501.30,57.73 501.50,58.46 501.70,59.31 501.90,60.14 502.10,60.85 502.30,61.33 502.50,61.52 502.70,61.39 502.90,60.96 503.10,60.29 503.30,59.48 503.50,58.64 503.70,57.89 503.90,57.33 504.10,57.04 504.30,57.05 504.50,57.36 504.70,57.93 504.90,58.66 505.10,59.46 505.30,60.22 505.50,60.82 505.70,61.19 505.90,61.28 506.10,61.09 506.30,60.65 506.50,60.02 506.70,59.30 506.90,58.59 507.10,57.98 507.30,57.57 507.50,57.40 507.70,57.48 507.90,57.80 508.10,58.30 508.30,58.91 508.50,59.53 508.70,60.09 508.90,60.50 509.10,60.72 509.30,60.73 509.50,60.53 509.70,60.16 509.90,59.68 510.10,59.17 510.30,58.70 510.50,58.33 510.70,58.11 510.90,58.05 511.10,58.16 511.30,58.40 511.50,58.74 511.70,59.11 511.90,59.47 512.10,59.76 512.30,59.94 512.50,60.01 512.70,59.96 512.90,59.82 513.10,59.62 513.30,59.38 513.50,59.16 513.70,58.98 513.90,58.86 514.10,58.82 514.30,58.84 514.50,58.90 514.70,59.00 514.90,59.11 515.10,59.21 515.30,59.31 515.50,59.06 515.70,58.99 515.90,58.94 516.10,58.93 516.30,58.95 516.50,59.02 516.70,59.15 516.90,59.31 517.10,59.50 517.30,59.67 517.50,59.81 517.70,59.87 517.90,59.84 518.10,59.71 518.30,59.49 518.50,59.19 518.70,58.87 518.90,58.56 519.10,58.32 519.30,58.20 519.50,58.21 519.70,58.38 519.90,58.68 520.10,59.09 520.30,59.55 520.50,59.99 520.70,60.36 520.90,60.58 521.10,60.62 521.30,60.47 521.50,60.12 521.70,59.62 521.90,59.05 522.10,58.47 522.30,57.97 522.50,57.62 522.70,57.49 522.90,57.61 523.10,57.95 523.30,58.49 523.50,59.15 523.70,59.85 523.90,60.48 524.10,60.95 524.30,61.19 524.50,61.16 524.70,60.86 524.90,60.32 525.10,59.61 525.30,58.83 525.50,58.09 525.70,57.50 525.90,57.14 526.10,57.06 526.30,57.28 526.50,57.78 526.70,58.49 526.90,59.31 527.10,60.12 527.30,60.82 527.50,61.30 527.70,61.50 527.90,61.38 528.10,60.96 528.30,60.30 528.50,59.48 528.70,58.63 528.90,57.86 529.10,57.28 529.30,56.96 529.50,56.97 529.70,57.28 529.90,57.87 530.10,58.63 530.30,59.48 530.50,60.28 530.70,60.93 530.90,61.34 531.10,61.45 531.30,61.26 531.50,60.78 531.70,60.10 531.90,59.31 532.10,58.51 532.30,57.83 532.50,57.36 532.70,57.15 532.90,57.23 533.10,57.58 533.30,58.15 533.50,58.85 533.70,59.59 533.90,60.25 534.10,60.76 534.30,61.04 534.50,61.06 534.70,60.83 534.90,60.38 535.10,59.80 535.30,59.16 535.50,58.55 535.70,58.07 535.90,57.76 536.10,57.66 536.30,57.79 536.50,58.10 536.70,58.55 536.90,59.07 537.10,59.58 537.30,60.00 537.50,60.30 537.70,60.43 537.90,60.39 538.10,60.19 538.30,59.87 538.50,59.49 538.70,59.11 538.90,58.78 539.10,58.54 539.30,58.41 539.50,58.41 539.70,58.52 539.90,58.72 540.10,58.96 540.30,59.20 540.50,59.41 540.70,59.57 540.90,59.65 541.10,59.66 541.30,59.61 541.50,59.51 541.70,59.40 541.90,59.28 542.10,59.17 542.30,59.09 542.50,59.43 542.70,59.47 542.90,59.50 543.10,59.49 543.30,59.44 543.50,59.35 543.70,59.21 543.90,59.04 544.10,58.87 544.30,58.72 544.50,58.63 544.70,58.62 544.90,58.70 545.10,58.88 545.30,59.14 545.50,59.44 545.70,59.75 545.90,60.01 546.10,60.18 546.30,60.22 546.50,60.13 546.70,59.88 546.90,59.52 547.10,59.09 547.30,58.64 547.50,58.25 547.70,57.97 547.90,57.85 548.10,57.93 548.30,58.19 548.50,58.62 548.70,59.17 548.90,59.74 549.10,60.28 549.30,60.68 549.50,60.90 549.70,60.89 549.90,60.64 550.10,60.18 550.30,59.56 550.50,58.88 550.70,58.22 550.90,57.68 551.10,57.34 551.30,57.26 551.50,57.46 551.70,57.90 551.90,58.55 552.10,59.30 552.30,60.06 552.50,60.72 552.70,61.18 552.90,61.38 553.10,61.28 553.30,60.89 553.50,60.26 553.70,59.47 553.90,58.65 554.10,57.89 554.30,57.31 554.50,57.00 554.70,56.99 554.90,57.29 555.10,57.86 555.30,58.63 555.50,59.48 555.70,60.30 555.90,60.97 556.10,61.40 556.30,61.52 556.50,61.33 556.70,60.85 556.90,60.14 557.10,59.31 557.30,58.47 557.50,57.75 557.70,57.23 557.90,56.99 558.10,57.07 558.30,57.44 558.50,58.05 558.70,58.82 558.90,59.63 559.10,60.37 559.30,60.94 559.50,61.27 559.70,61.30 559.90,61.05 560.10,60.56 560.30,59.89 560.50,59.15 560.70,58.44 560.90,57.85 561.10,57.47 561.30,57.34 561.50,57.48 561.70,57.85 561.90,58.39 562.10,59.03 562.30,59.67 562.50,60.22 562.70,60.62 562.90,60.80 563.10,60.77 563.30,60.52 563.50,60.11 563.70,59.60 563.90,59.07 564.10,58.59 564.30,58.22 564.50,58.02 564.70,57.99 564.90,58.13 565.10,58.41 565.30,58.78 565.50,59.18 565.70,59.56 565.90,59.85 566.10,60.03 566.30,60.09 566.50,60.02 566.70,59.85 566.90,59.61 567.10,59.35 567.30,59.11 567.50,58.91 567.70,58.79 567.90,58.75 568.10,58.78 568.30,58.87 568.50,58.99 568.70,59.12 568.90,59.24 569.10,59.33 569.30,59.41 569.50,58.99 569.70,58.97 569.90,58.97 570.10,59.00 570.30,59.07 570.50,59.18 570.70,59.33 570.90,59.49 571.10,59.64 571.30,59.75 571.50,59.80 571.70,59.76 571.90,59.63 572.10,59.41 572.30,59.14 572.50,58.84 572.70,58.57 572.90,58.36 573.10,58.26 573.30,58.30 573.50,58.48 573.70,58.78 573.90,59.18 574.10,59.62 574.30,60.03 574.50,60.36 574.70,60.54 574.90,60.54 575.10,60.36 575.30,60.00 575.50,59.50 575.70,58.94 575.90,58.39 576.10,57.93 576.30,57.64 576.50,57.55 576.70,57.71 576.90,58.08 577.10,58.63 577.30,59.29 577.50,59.96 577.70,60.55 577.90,60.98 578.10,61.16 578.30,61.08 578.50,60.74 578.70,60.17 578.90,59.45 579.10,58.69 579.30,57.98 579.50,57.43 579.70,57.13 579.90,57.11 580.10,57.38 580.30,57.92 580.50,58.65 580.70,59.47 580.90,60.27 581.10,60.93 581.30,61.35 581.50,61.49 581.70,61.31 581.90,60.84 582.10,60.14 582.30,59.31 582.50,58.47 582.70,57.72 582.90,57.19 583.10,56.94 583.30,57.00 583.50,57.37 583.70,58.00 583.90,58.80 584.10,59.65 584.30,60.44 584.50,61.05 584.70,61.41 584.90,61.46 585.10,61.20 585.30,60.67 585.50,59.95 585.70,59.14 585.90,58.35 586.10,57.70 586.30,57.26 586.50,57.11 586.70,57.24 586.90,57.65 587.10,58.27 587.30,59.00 587.50,59.74 587.70,60.40 587.90,60.87 588.10,61.11 588.30,61.08 588.50,60.80 588.70,60.31 588.90,59.69 589.10,59.03 589.30,58.42 589.50,57.94 589.70,57.66 589.90,57.61 590.10,57.78 590.30,58.14 590.50,58.62 590.70,59.17 590.90,59.69 591.10,60.12 591.30,60.40 591.50,60.51 591.70,60.43 591.90,60.19 592.10,59.84 592.30,59.43 592.50,59.03 592.70,58.68 592.90,58.44 593.10,58.33 593.30,58.35 593.50,58.49 593.70,58.71 593.90,58.98 594.10,59.25 594.30,59.48 594.50,59.64 594.70,59.72 594.90,59.72 595.10,59.65 595.30,59.54 595.50,59.40 595.70,59.26 595.90,59.15 596.10,59.06 596.30,59.01 596.50,58.98 596.70,59.47 596.90,59.45 597.10,59.40 597.30,59.31 597.50,59.18 597.70,59.04 597.90,58.89 598.00,58.83"/>
<polyline clip-path="url(#ch)" fill="none" stroke="#f03535" stroke-width="1.0" stroke-linejoin="round"  points="430.50,173.46 430.75,173.45 431.00,173.49 431.25,173.56 431.50,173.68 431.75,173.84 432.00,174.00 432.25,174.15 432.50,174.27 432.75,174.35 433.00,174.38 433.25,174.37 433.50,174.34 433.75,174.30 434.00,174.29 434.25,174.31 434.50,174.37 434.75,174.48 435.00,174.63 435.25,174.79 435.50,174.94 435.75,175.07 436.00,175.16 436.25,175.20 436.50,175.19 436.75,175.16 437.00,175.12 437.25,175.09 437.50,175.09 437.75,175.13 438.00,175.22 438.25,175.35 438.50,175.50 438.75,175.65 439.00,175.77 439.25,175.86 439.50,175.90 439.75,175.89 440.00,175.85 440.25,175.80 440.50,175.75 440.75,175.72 441.00,175.74 441.25,175.80 441.50,175.90 441.75,176.03 442.00,176.16 442.25,176.27 442.50,176.35 442.75,176.39 443.00,176.37 443.25,176.32 443.50,176.25 443.75,176.17 444.00,176.12 444.25,176.10 444.50,176.12 444.75,176.19 445.00,176.29 445.25,176.40 445.50,176.50 445.75,176.57 446.00,176.59 446.25,176.57 446.50,176.50 446.75,176.41 447.00,176.31 447.25,176.22 447.50,176.17 447.75,176.15 448.00,176.19 448.25,176.25 448.50,176.34 448.75,176.42 449.00,176.47 449.25,176.49 449.50,176.45 449.75,176.37 450.00,176.26 450.25,176.14 450.50,176.02 450.75,175.93 451.00,175.88 451.25,175.88 451.50,175.92 451.75,175.98 452.00,176.04 452.25,176.08 452.50,176.09 452.75,176.04 453.00,175.95 453.25,175.83 453.50,175.68 453.75,175.54 454.00,175.43 454.25,175.35 454.50,175.32 454.75,175.33 455.00,175.36 455.25,175.41 455.50,175.44 455.75,175.44 456.00,175.40 456.25,175.31 456.50,175.18 456.75,175.02 457.00,174.87 457.25,174.73 457.50,174.63 457.75,174.57 458.00,174.56 458.25,174.58 458.50,174.62 458.75,174.65 459.00,174.65 459.25,174.61 459.50,174.53 459.75,174.40 460.00,174.25 460.25,174.08 460.50,173.93 460.75,173.82 461.00,173.75 461.25,173.72 461.50,173.73 461.75,173.77 462.00,173.80 462.25,173.82 462.50,173.79 462.75,173.72 463.00,173.61 463.25,173.47 463.50,173.31 463.75,173.16 464.00,173.04 464.25,172.96 464.50,172.93 464.75,172.94 465.00,172.98 465.25,173.03 465.50,173.06 465.75,173.06 466.00,173.01 466.25,172.92 466.50,172.80 466.75,172.66 467.00,172.52 467.25,172.40 467.50,172.32 467.75,172.30 468.00,172.31 468.25,172.36 468.50,172.43 468.75,172.48 469.00,172.51 469.25,172.50 469.50,172.44 469.75,172.34 470.00,172.22 470.25,172.10 470.50,171.99 470.75,171.92 471.00,171.90 471.25,171.93 471.50,172.00 471.75,172.08 472.00,172.16 472.25,172.22 472.50,172.24 472.75,172.22 473.00,172.16 473.25,172.06 473.50,171.96 473.75,171.88 474.00,171.82 474.25,171.81 474.50,171.85 474.75,171.93 475.00,172.03 475.25,172.14 475.50,172.24 475.75,172.29 476.00,172.31 476.25,172.28 476.50,172.22 476.75,172.14 477.00,172.07 477.25,172.03 477.50,172.03 477.75,172.08 478.00,172.17 478.25,172.29 478.50,172.42 478.75,172.55 479.00,172.64 479.25,172.69 479.50,172.69 479.75,172.66 480.00,172.60 480.25,172.55 480.50,172.52 480.75,172.52 481.00,172.58 481.25,172.68 481.50,172.81 481.75,172.96 482.00,173.11 482.25,173.23 482.50,173.30 482.75,173.34 483.00,173.33 483.25,173.29 483.50,173.25 483.75,173.22 484.00,173.23 484.25,173.29 484.50,173.38 484.75,173.52 485.00,173.68 485.25,173.84 485.50,173.98 485.75,174.07 486.00,174.13 486.25,174.14 486.50,174.11 486.75,174.08 487.00,174.05 487.25,174.05 487.50,174.09 487.75,174.18 488.00,174.32 488.25,174.47 488.50,174.63 488.75,174.78 489.00,174.89 489.25,174.95 489.50,174.97 489.75,174.95 490.00,174.92 490.25,174.88 490.50,174.87 490.75,174.89 491.00,174.96 491.25,175.08 491.50,175.22 491.75,175.38 492.00,175.52 492.25,175.63 492.50,175.70 492.75,175.72 493.00,175.70 493.25,175.65 493.50,175.60 493.75,175.57 494.00,175.57 494.25,175.61 494.50,175.70 494.75,175.82 495.00,175.96 495.25,176.09 495.50,176.20 495.75,176.26 496.00,176.27 496.25,176.25 496.50,176.19 496.75,176.11 497.00,176.05 497.25,176.02 497.50,176.03 497.75,176.09 498.00,176.18 498.25,176.30 498.50,176.41 498.75,176.50 499.00,176.56 499.25,176.56 499.50,176.52 499.75,176.45 500.00,176.35 500.25,176.26 500.50,176.20 500.75,176.17 501.00,176.19 501.25,176.25 501.50,176.34 501.75,176.43 502.00,176.50 502.25,176.55 502.50,176.54 502.75,176.49 503.00,176.40 503.25,176.28 503.50,176.17 503.75,176.07 504.00,176.01 504.25,175.99 504.50,176.02 504.75,176.07 505.00,176.14 505.25,176.20 505.50,176.23 505.75,176.22 506.00,176.16 506.25,176.05 506.50,175.92 506.75,175.78 507.00,175.65 507.25,175.56 507.50,175.51 507.75,175.51 508.00,175.54 508.25,175.59 508.50,175.63 508.75,175.65 509.00,175.64 509.25,175.57 509.50,175.46 509.75,175.32 510.00,175.16 510.25,175.02 510.50,174.90 510.75,174.82 511.00,174.79 511.25,174.80 511.50,174.83 511.75,174.87 512.00,174.89 512.25,174.88 512.50,174.82 512.75,174.71 513.00,174.57 513.25,174.40 513.50,174.25 513.75,174.11 514.00,174.02 514.25,173.97 514.50,173.97 514.75,173.99 515.00,174.03 515.25,174.05 515.50,174.05 515.75,174.00 516.00,173.91 516.25,173.77 516.50,173.62 516.75,173.46 517.00,173.32 517.25,173.22 517.50,173.16 517.75,173.15 518.00,173.17 518.25,173.22 518.50,173.25 518.75,173.27 519.00,173.24 519.25,173.17 519.50,173.05 519.75,172.91 520.00,172.76 520.25,172.63 520.50,172.52 520.75,172.47 521.00,172.46 521.25,172.49 521.50,172.54 521.75,172.60 522.00,172.64 522.25,172.64 522.50,172.60 522.75,172.51 523.00,172.39 523.25,172.26 523.50,172.14 523.75,172.05 524.00,172.00 524.25,171.99 524.50,172.03 524.75,172.11 525.00,172.18 525.25,172.25 525.50,172.29 525.75,172.28 526.00,172.22 526.25,172.14 526.50,172.03 526.75,171.93 527.00,171.85 527.25,171.81 527.50,171.82 527.75,171.87 528.00,171.96 528.25,172.06 528.50,172.16 528.75,172.23 529.00,172.25 529.25,172.24 529.50,172.18 529.75,172.10 530.00,172.02 530.25,171.96 530.50,171.93 530.75,171.95 531.00,172.01 531.25,172.12 531.50,172.24 531.75,172.37 532.00,172.47 532.25,172.53 532.50,172.55 532.75,172.53 533.00,172.48 533.25,172.42 533.50,172.37 533.75,172.35 534.00,172.37 534.25,172.45 534.50,172.56 534.75,172.70 535.00,172.85 535.25,172.98 535.50,173.07 535.75,173.12 536.00,173.13 536.25,173.10 536.50,173.05 536.75,173.01 537.00,173.00 537.25,173.03 537.50,173.10 537.75,173.22 538.00,173.37 538.25,173.53 538.50,173.68 538.75,173.80 539.00,173.87 539.25,173.90 539.50,173.89 539.75,173.85 540.00,173.82 540.25,173.80 540.50,173.82 540.75,173.89 541.00,174.00 541.25,174.15 541.50,174.31 541.75,174.47 542.00,174.60 542.25,174.69 542.50,174.73 542.75,174.73 543.00,174.70 543.25,174.66 543.50,174.64 543.75,174.65 544.00,174.70 544.25,174.80 544.50,174.93 544.75,175.09 545.00,175.24 545.25,175.37 545.50,175.47 545.75,175.51 546.00,175.51 546.25,175.48 546.50,175.43 546.75,175.39 547.00,175.38 547.25,175.41 547.50,175.48 547.75,175.59 548.00,175.73 548.25,175.87 548.50,176.00 548.75,176.09 549.00,176.13 549.25,176.13 549.50,176.09 549.75,176.03 550.00,175.97 550.25,175.92 550.50,175.92 550.75,175.96 551.00,176.05 551.25,176.16 551.50,176.28 551.75,176.39 552.00,176.47 552.25,176.51 552.50,176.50 552.75,176.44 553.00,176.36 553.25,176.28 553.50,176.20 553.75,176.17 554.00,176.17 554.25,176.22 554.50,176.30 554.75,176.40 555.00,176.49 555.25,176.56 555.50,176.59 555.75,176.56 556.00,176.50 556.25,176.40 556.50,176.28 556.75,176.18 557.00,176.11 557.25,176.08 557.50,176.09 557.75,176.14 558.00,176.21 558.25,176.29 558.50,176.34 558.75,176.35 559.00,176.32 559.25,176.24 559.50,176.13 559.75,175.99 560.00,175.86 560.25,175.76 560.50,175.69 560.75,175.67 561.00,175.69 561.25,175.74 561.50,175.79 561.75,175.83 562.00,175.84 562.25,175.80 562.50,175.72 562.75,175.59 563.00,175.45 563.25,175.30 563.50,175.16 563.75,175.07 564.00,175.02 564.25,175.02 564.50,175.04 564.75,175.08 565.00,175.12 565.25,175.12 565.50,175.09 565.75,175.00 566.00,174.88 566.25,174.72 566.50,174.56 566.75,174.41 567.00,174.30 567.25,174.23 567.50,174.21 567.75,174.22 568.00,174.25 568.25,174.29 568.50,174.30 568.75,174.27 569.00,174.20 569.25,174.08 569.50,173.93 569.75,173.77 570.00,173.62 570.25,173.49 570.50,173.41 570.75,173.38 571.00,173.38 571.25,173.42 571.50,173.46 571.75,173.48 572.00,173.47 572.25,173.42 572.50,173.32 572.75,173.18 573.00,173.03 573.25,172.88 573.50,172.76 573.75,172.68 574.00,172.64 574.25,172.65 574.50,172.69 574.75,172.74 575.00,172.78 575.25,172.80 575.50,172.77 575.75,172.70 576.00,172.59 576.25,172.46 576.50,172.32 576.75,172.21 577.00,172.13 577.25,172.10 577.50,172.11 577.75,172.16 578.00,172.24 578.25,172.30 578.50,172.35 578.75,172.36 579.00,172.32 579.25,172.24 579.50,172.13 579.75,172.02 580.00,171.92 580.25,171.85 580.50,171.83 580.75,171.85 581.00,171.92 581.25,172.01 581.50,172.11 581.75,172.18 582.00,172.22 582.25,172.22 582.50,172.18 582.75,172.10 583.00,172.01 583.25,171.93 583.50,171.87 583.75,171.86 584.00,171.90 584.25,171.98 584.50,172.09 584.75,172.21 585.00,172.32 585.25,172.40 585.50,172.43 585.75,172.42 586.00,172.38 586.25,172.31 586.50,172.25 586.75,172.21 587.00,172.20 587.25,172.25 587.50,172.34 587.75,172.47 588.00,172.61 588.25,172.74 588.50,172.85 588.75,172.92 589.00,172.94 589.25,172.92 589.50,172.88 589.75,172.83 590.00,172.80 590.25,172.80 590.50,172.85 590.75,172.94 591.00,173.08 591.25,173.23 591.50,173.38 591.75,173.52 592.00,173.61 592.25,173.66 592.50,173.66 592.75,173.63 593.00,173.59 593.25,173.57 593.50,173.57 593.75,173.61 594.00,173.70 594.25,173.84 594.50,173.99 594.75,174.15 595.00,174.30 595.25,174.41 595.50,174.47 595.75,174.49 596.00,174.47 596.25,174.44 596.50,174.41 596.75,174.40 597.00,174.43 597.25,174.51 597.50,174.63 597.75,174.78 598.00,174.94 598.00,174.94"/>
<polyline clip-path="url(#ch)" fill="none" stroke="#4760e8" stroke-width="1.15" stroke-linejoin="round"  points="430.50,163.14 430.70,163.27 430.90,163.80 431.10,164.71 431.30,165.92 431.50,167.29 431.70,168.70 431.90,170.02 432.10,171.16 432.30,172.08 432.50,172.80 432.70,173.39 432.90,173.92 433.10,174.50 433.30,175.22 433.50,176.10 433.70,177.17 433.90,178.36 434.10,179.58 434.30,180.72 434.50,181.66 434.70,182.32 434.90,182.65 435.10,182.67 435.30,182.47 435.50,182.17 435.70,181.96 435.90,182.01 436.10,182.48 436.30,183.45 436.50,184.97 436.70,186.94 436.90,189.23 437.10,191.60 437.30,193.80 437.50,195.58 437.70,196.73 437.90,197.13 438.10,196.76 438.30,195.72 438.50,194.22 438.70,192.56 438.90,191.07 439.10,190.07 439.30,189.83 439.50,190.53 439.70,192.18 439.90,194.66 440.10,197.74 440.30,201.07 440.50,204.22 440.70,206.82 440.90,208.52 441.10,209.13 441.30,208.56 441.50,206.95 441.70,204.55 441.90,201.75 442.10,199.01 442.30,196.79 442.50,195.47 442.70,195.33 442.90,196.46 443.10,198.77 443.30,201.99 443.50,205.72 443.70,209.47 443.90,212.74 444.10,215.07 444.30,216.15 444.50,215.84 444.70,214.20 444.90,211.47 445.10,208.06 445.30,204.47 445.50,201.23 445.70,198.83 445.90,197.62 446.10,197.79 446.30,199.34 446.50,202.04 446.70,205.50 446.90,209.24 447.10,212.72 447.30,215.42 447.50,216.96 447.70,217.12 447.90,215.86 448.10,213.36 448.30,209.97 448.50,206.15 448.70,202.43 448.90,199.31 449.10,197.20 449.30,196.36 449.50,196.85 449.70,198.54 449.90,201.14 450.10,204.21 450.30,207.28 450.50,209.85 450.70,211.53 450.90,212.04 451.10,211.29 451.30,209.37 451.50,206.52 451.70,203.11 451.90,199.59 452.10,196.39 452.30,193.89 452.50,192.35 452.70,191.88 452.90,192.45 453.10,193.85 453.30,195.77 453.50,197.84 453.70,199.69 453.90,200.97 454.10,201.46 454.30,201.04 454.50,199.73 454.70,197.68 454.90,195.15 455.10,192.43 455.30,189.82 455.50,187.61 455.70,185.98 455.90,185.02 456.10,184.73 456.30,184.98 456.50,185.59 456.70,186.33 456.90,186.98 457.10,187.34 457.30,187.29 457.50,186.77 457.70,185.80 457.90,184.49 458.10,182.97 458.30,181.39 458.50,179.91 458.70,178.62 458.90,177.58 459.10,176.80 459.30,176.21 459.50,175.73 459.70,175.25 459.90,174.69 460.10,173.97 460.30,173.07 460.50,172.04 460.70,170.94 460.90,169.87 461.10,168.94 461.30,168.23 461.50,167.79 461.70,167.62 461.90,167.64 462.10,167.75 462.30,167.78 462.50,167.58 462.70,167.02 462.90,166.00 463.10,164.51 463.30,162.62 463.50,160.48 463.70,158.27 463.90,156.25 464.10,154.64 464.30,153.62 464.50,153.30 464.70,153.67 464.90,154.64 465.10,156.00 465.30,157.47 465.50,158.73 465.70,159.49 465.90,159.49 466.10,158.62 466.30,156.85 466.50,154.31 466.70,151.27 466.90,148.06 467.10,145.07 467.30,142.67 467.50,141.17 467.70,140.75 467.90,141.44 468.10,143.11 468.30,145.47 468.50,148.15 468.70,150.69 468.90,152.65 469.10,153.68 469.30,153.54 469.50,152.16 469.70,149.67 469.90,146.35 470.10,142.61 470.30,138.95 470.50,135.85 470.70,133.72 470.90,132.87 471.10,133.39 471.30,135.19 471.50,138.01 471.70,141.41 471.90,144.90 472.10,147.94 472.30,150.08 472.50,150.98 472.70,150.50 472.90,148.67 473.10,145.76 473.30,142.16 473.50,138.38 473.70,134.97 473.90,132.41 474.10,131.07 474.30,131.15 474.50,132.63 474.70,135.31 474.90,138.81 475.10,142.66 475.30,146.30 475.50,149.25 475.70,151.11 475.90,151.67 476.10,150.87 476.30,148.90 476.50,146.07 476.70,142.84 476.90,139.71 477.10,137.18 477.30,135.62 477.50,135.28 477.70,136.24 477.90,138.38 478.10,141.41 478.30,144.95 478.50,148.52 478.70,151.69 478.90,154.07 479.10,155.42 479.30,155.64 479.50,154.81 479.70,153.15 479.90,151.01 480.10,148.77 480.30,146.84 480.50,145.55 480.70,145.14 480.90,145.69 481.10,147.18 481.30,149.42 481.50,152.13 481.70,155.00 481.90,157.69 482.10,159.93 482.30,161.51 482.50,162.35 482.70,162.47 482.90,162.02 483.10,161.19 483.30,160.25 483.50,159.43 483.70,158.96 483.90,158.96 484.10,159.50 484.30,160.54 484.50,161.98 484.70,163.66 484.90,165.41 485.10,167.06 485.30,168.48 485.50,169.61 485.70,170.43 485.90,170.99 486.10,171.39 486.30,171.74 486.50,172.14 486.70,172.69 486.90,173.41 487.10,174.30 487.30,175.29 487.50,176.32 487.70,177.26 487.90,178.04 488.10,178.60 488.30,178.94 488.50,179.10 488.70,179.18 488.90,179.32 489.10,179.64 489.30,180.28 489.50,181.30 489.70,182.74 489.90,184.52 490.10,186.51 490.30,188.54 490.50,190.38 490.70,191.84 490.90,192.76 491.10,193.03 491.30,192.67 491.50,191.80 491.70,190.59 491.90,189.33 492.10,188.30 492.30,187.78 492.50,187.98 492.70,189.01 492.90,190.87 493.10,193.42 493.30,196.40 493.50,199.48 493.70,202.29 493.90,204.49 494.10,205.79 494.30,206.05 494.50,205.26 494.70,203.57 494.90,201.27 495.10,198.74 495.30,196.42 495.50,194.72 495.70,193.98 495.90,194.39 496.10,195.99 496.30,198.63 496.50,202.02 496.70,205.74 496.90,209.29 497.10,212.22 497.30,214.12 497.50,214.75 497.70,214.03 497.90,212.09 498.10,209.21 498.30,205.85 498.50,202.49 498.70,199.67 498.90,197.81 499.10,197.21 499.30,198.00 499.50,200.09 499.70,203.20 499.90,206.90 500.10,210.68 500.30,214.01 500.50,216.40 500.70,217.53 500.90,217.22 501.10,215.52 501.30,212.68 501.50,209.09 501.70,205.25 501.90,201.72 502.10,198.97 502.30,197.36 502.50,197.11 502.70,198.21 502.90,200.45 503.10,203.49 503.30,206.85 503.50,210.01 503.70,212.49 503.90,213.91 504.10,214.05 504.30,212.87 504.50,210.52 504.70,207.31 504.90,203.67 505.10,200.07 505.30,196.97 505.50,194.74 505.70,193.61 505.90,193.65 506.10,194.75 506.30,196.66 506.50,199.02 506.70,201.39 506.90,203.39 507.10,204.65 507.30,204.97 507.50,204.26 507.70,202.58 507.90,200.15 508.10,197.26 508.30,194.26 508.50,191.50 508.70,189.28 508.90,187.78 509.10,187.08 509.30,187.15 509.50,187.82 509.70,188.87 509.90,190.01 510.10,190.97 510.30,191.54 510.50,191.57 510.70,190.99 510.90,189.85 511.10,188.26 511.30,186.41 511.50,184.49 511.70,182.68 511.90,181.14 512.10,179.95 512.30,179.13 512.50,178.62 512.70,178.33 512.90,178.13 513.10,177.90 513.30,177.54 513.50,176.98 513.70,176.22 513.90,175.30 514.10,174.30 514.30,173.32 514.50,172.44 514.70,171.74 514.90,171.23 515.10,170.89 515.30,170.63 515.50,170.36 515.70,169.93 515.90,169.26 516.10,168.25 516.30,166.89 516.50,165.24 516.70,163.41 516.90,161.56 517.10,159.88 517.30,158.55 517.50,157.73 517.70,157.48 517.90,157.79 518.10,158.55 518.30,159.59 518.50,160.64 518.70,161.44 518.90,161.75 519.10,161.36 519.30,160.19 519.50,158.27 519.70,155.74 519.90,152.84 520.10,149.91 520.30,147.28 520.50,145.29 520.70,144.17 520.90,144.05 521.10,144.92 521.30,146.60 521.50,148.82 521.70,151.18 521.90,153.27 522.10,154.70 522.30,155.17 522.50,154.50 522.70,152.70 522.90,149.93 523.10,146.50 523.30,142.84 523.50,139.42 523.70,136.68 523.90,135.00 524.10,134.59 524.30,135.49 524.50,137.55 524.70,140.45 524.90,143.75 525.10,146.95 525.30,149.54 525.50,151.11 525.70,151.40 525.90,150.32 526.10,147.98 526.30,144.71 526.50,140.93 526.70,137.17 526.90,133.96 527.10,131.75 527.30,130.85 527.50,131.39 527.70,133.29 527.90,136.27 528.10,139.92 528.30,143.72 528.50,147.11 528.70,149.65 528.90,150.97 529.10,150.92 529.30,149.52 529.50,147.01 529.70,143.78 529.90,140.33 530.10,137.16 530.30,134.77 530.50,133.51 530.70,133.58 530.90,134.99 531.10,137.54 531.30,140.91 531.50,144.63 531.70,148.23 531.90,151.23 532.10,153.29 532.30,154.18 532.50,153.86 532.70,152.48 532.90,150.32 533.10,147.77 533.30,145.28 533.50,143.25 533.70,142.03 533.90,141.83 534.10,142.72 534.30,144.59 534.50,147.22 534.70,150.28 534.90,153.38 535.10,156.18 535.30,158.37 535.50,159.76 535.70,160.28 535.90,160.01 536.10,159.10 536.30,157.84 536.50,156.51 536.70,155.41 536.90,154.77 537.10,154.74 537.30,155.39 537.50,156.65 537.70,158.40 537.90,160.42 538.10,162.52 538.30,164.46 538.50,166.10 538.70,167.33 538.90,168.13 539.10,168.55 539.30,168.71 539.50,168.74 539.70,168.79 539.90,168.98 540.10,169.38 540.30,170.03 540.50,170.89 540.70,171.89 540.90,172.94 541.10,173.93 541.30,174.78 541.50,175.47 541.70,175.99 541.90,176.40 542.10,176.80 542.30,177.29 542.50,177.98 542.70,178.94 542.90,180.19 543.10,181.70 543.30,183.37 543.50,185.05 543.70,186.57 543.90,187.78 544.10,188.54 544.30,188.80 544.50,188.56 544.70,187.92 544.90,187.07 545.10,186.23 545.30,185.65 545.50,185.54 545.70,186.09 545.90,187.36 546.10,189.31 546.30,191.81 546.50,194.59 546.70,197.37 546.90,199.80 547.10,201.60 547.30,202.55 547.50,202.55 547.70,201.64 547.90,199.98 548.10,197.88 548.30,195.71 548.50,193.86 548.70,192.69 548.90,192.49 549.10,193.39 549.30,195.37 549.50,198.23 549.70,201.67 549.90,205.25 550.10,208.52 550.30,211.06 550.50,212.52 550.70,212.72 550.90,211.66 551.10,209.51 551.30,206.61 551.50,203.40 551.70,200.38 551.90,198.05 552.10,196.77 552.30,196.79 552.50,198.15 552.70,200.70 552.90,204.12 553.10,207.95 553.30,211.66 553.50,214.73 553.70,216.74 553.90,217.41 554.10,216.64 554.30,214.55 554.50,211.45 554.70,207.77 554.90,204.05 555.10,200.81 555.30,198.52 555.50,197.49 555.70,197.85 555.90,199.54 556.10,202.30 556.30,205.69 556.50,209.22 556.70,212.36 556.90,214.64 557.10,215.72 557.30,215.43 557.50,213.80 557.70,211.04 557.90,207.54 558.10,203.76 558.30,200.20 558.50,197.32 558.70,195.47 558.90,194.84 559.10,195.44 559.30,197.09 559.50,199.50 559.70,202.22 559.90,204.81 560.10,206.85 560.30,207.99 560.50,208.04 560.70,206.96 560.90,204.89 561.10,202.07 561.30,198.86 561.50,195.67 561.70,192.86 561.90,190.73 562.10,189.48 562.30,189.15 562.50,189.66 562.70,190.80 562.90,192.28 563.10,193.79 563.30,195.01 563.50,195.70 563.70,195.69 563.90,194.96 564.10,193.55 564.30,191.64 564.50,189.43 564.70,187.18 564.90,185.11 565.10,183.40 565.30,182.16 565.50,181.41 565.70,181.09 565.90,181.09 566.10,181.24 566.30,181.38 566.50,181.37 566.70,181.11 566.90,180.55 567.10,179.72 567.30,178.69 567.50,177.56 567.70,176.44 567.90,175.42 568.10,174.56 568.30,173.88 568.50,173.32 568.70,172.83 568.90,172.29 569.10,171.62 569.30,170.73 569.50,169.60 569.70,168.25 569.90,166.75 570.10,165.24 570.30,163.86 570.50,162.74 570.70,162.02 570.90,161.74 571.10,161.88 571.30,162.37 571.50,163.03 571.70,163.66 571.90,164.04 572.10,163.96 572.30,163.28 572.50,161.94 572.70,159.98 572.90,157.55 573.10,154.89 573.30,152.29 573.50,150.04 573.70,148.43 573.90,147.63 574.10,147.72 574.30,148.66 574.50,150.26 574.70,152.23 574.90,154.20 575.10,155.81 575.30,156.70 575.50,156.65 575.70,155.54 575.90,153.42 576.10,150.49 576.30,147.07 576.50,143.59 576.70,140.48 576.90,138.16 577.10,136.92 577.30,136.91 577.50,138.11 577.70,140.32 577.90,143.20 578.10,146.29 578.30,149.10 578.50,151.17 578.70,152.15 578.90,151.83 579.10,150.21 579.30,147.46 579.50,143.93 579.70,140.08 579.90,136.46 580.10,133.54 580.30,131.74 580.50,131.31 580.70,132.29 580.90,134.55 581.10,137.75 581.30,141.43 581.50,145.05 581.70,148.10 581.90,150.13 582.10,150.86 582.30,150.18 582.50,148.21 582.70,145.23 582.90,141.70 583.10,138.12 583.30,135.04 583.50,132.89 583.70,132.01 583.90,132.53 584.10,134.38 584.30,137.32 584.50,140.94 584.70,144.75 584.90,148.24 585.10,150.97 585.30,152.59 585.50,152.95 585.70,152.06 585.90,150.13 586.10,147.50 586.30,144.62 586.50,141.96 586.70,139.95 586.90,138.91 587.10,139.02 587.30,140.29 587.50,142.58 587.70,145.58 587.90,148.92 588.10,152.18 588.30,154.97 588.50,157.00 588.70,158.09 588.90,158.20 589.10,157.45 589.30,156.07 589.50,154.37 589.70,152.70 589.90,151.39 590.10,150.68 590.30,150.74 590.50,151.59 590.70,153.15 590.90,155.24 591.10,157.63 591.30,160.03 591.50,162.21 591.70,163.96 591.90,165.19 592.10,165.85 592.30,166.03 592.50,165.86 592.70,165.52 592.90,165.19 593.10,165.03 593.30,165.17 593.50,165.66 593.70,166.48 593.90,167.56 594.10,168.80 594.30,170.06 594.50,171.25 594.70,172.28 594.90,173.12 595.10,173.80 595.30,174.36 595.50,174.91 595.70,175.54 595.90,176.33 596.10,177.32 596.30,178.51 596.50,179.83 596.70,181.19 596.90,182.45 597.10,183.49 597.30,184.21 597.50,184.54 597.70,184.50 597.90,184.18 598.00,183.95"/>
<path clip-path="url(#ci)" fill="none" stroke="#3a52e0" stroke-width="0.7" stroke-linejoin="round" d="M430.00,285.69 L430.89,322.70 L431.80,291.02 M436.60,317.46 L437.54,288.48 L438.43,327.54 L439.36,284.27 L440.34,331.27 L441.32,282.21 L442.24,335.76 L443.20,280.54 L444.14,335.35 L445.05,278.68 L445.94,336.92 L446.90,278.77 L447.93,336.01 L448.97,278.67 L449.86,336.75 L450.75,279.67 L451.72,336.69 L452.75,280.62 L453.61,333.36 L454.56,282.43 L455.43,331.65 L456.30,284.21 L457.15,326.37 L458.11,288.01 L459.11,315.95 M463.77,291.24 L464.80,322.82 L465.82,285.57 L466.81,331.07 L467.75,282.00 L468.63,333.27 L469.52,280.31 L470.41,335.50 L471.41,279.91 L472.43,334.81 L473.44,278.51 L474.31,335.25 L475.27,278.23 L476.17,335.52 L477.18,278.99 L478.12,335.35 L478.99,280.36 L480.02,335.52 L480.95,281.32 L481.86,333.34 L482.84,283.43 L483.86,328.51 L484.76,287.71 L485.74,318.86 M491.40,321.57 L492.43,286.78 L493.44,329.77 L494.47,282.60 L495.49,333.61 L496.47,280.94 L497.38,335.75 L498.35,280.18 L499.33,335.58 L500.26,279.40 L501.18,336.16 L502.16,279.32 L503.06,336.15 L503.94,279.20 L504.92,336.26 L505.94,279.54 L506.96,334.68 L507.89,280.83 L508.85,331.86 L509.76,283.68 L510.76,327.67 L511.76,287.18 L512.66,320.76 M518.50,322.51 L519.39,285.93 L520.27,328.61 L521.23,283.81 L522.17,333.02 L523.13,281.67 L524.10,334.68 L525.09,280.34 L526.10,335.46 L526.99,278.96 L527.87,334.88 L528.81,279.18 L529.80,335.56 L530.83,278.61 L531.73,335.16 L532.70,280.17 L533.63,336.03 L534.66,281.02 L535.68,334.31 L536.63,282.84 L537.50,328.79 L538.44,285.82 L539.36,321.95 L540.28,292.28 M545.07,318.52 L546.04,286.90 L546.90,327.34 L547.80,284.26 L548.68,332.31 L549.67,281.50 L550.68,333.98 L551.57,279.81 L552.49,335.76 L553.38,279.27 L554.37,336.12 L555.38,278.28 L556.37,336.30 L557.38,278.47 L558.25,336.36 L559.23,279.06 L560.25,335.94 L561.22,280.97 L562.19,333.69 L563.06,282.25 L564.03,330.06 L564.92,284.79 L565.87,325.61 L566.86,289.65 M572.49,289.42 L573.51,325.10 L574.52,284.91 L575.54,332.74 L576.46,281.63 L577.33,334.34 L578.24,279.91 L579.27,336.48 L580.28,279.01 L581.16,335.58 L582.03,278.65 L583.00,335.32 L583.92,278.60 L584.93,334.64 L585.94,279.45 L586.90,336.00 L587.76,280.72 L588.67,334.39 L589.62,282.38 L590.52,332.12 L591.56,284.20 L592.54,325.25 L593.50,288.85 M434.15,292.92 L434.60,299.67 L435.05,293.88 M461.19,292.92 L461.64,303.19 L462.09,293.88 M488.23,292.92 L488.68,301.63 L489.13,293.88 M515.27,292.92 L515.72,302.35 L516.17,293.88 M542.31,292.92 L542.76,304.39 L543.21,293.88 M569.35,292.92 L569.80,301.33 L570.25,293.88 M596.39,292.92 L596.84,302.00 L597.29,293.88"/>
<polyline clip-path="url(#ci)" fill="none" stroke="#f03535" stroke-width="0.9" stroke-linejoin="round"  points="430.50,272.87 430.70,272.97 430.90,273.45 431.10,274.33 431.30,275.63 431.50,277.36 431.70,279.55 431.90,282.17 432.10,285.23 432.30,288.69 432.50,292.67 432.70,297.72 432.90,299.62 433.10,299.62 433.30,295.61 433.50,289.70 433.70,285.47 433.90,282.25 434.10,279.78 434.30,277.94 434.50,276.65 434.70,275.83 434.90,275.45 435.10,275.42 435.30,275.64 435.50,275.98 435.70,276.22 435.90,276.15 436.10,275.59 436.30,274.53 436.50,273.10 436.70,271.50 436.90,269.93 437.10,268.53 437.30,267.40 437.50,266.57 437.70,266.06 437.90,265.90 438.10,266.05 438.30,266.50 438.50,267.18 438.70,268.00 438.90,268.81 439.10,269.38 439.30,269.52 439.50,269.10 439.70,268.19 439.90,266.96 440.10,265.63 440.30,264.37 440.50,263.31 440.70,262.52 440.90,262.03 441.10,261.87 441.30,262.02 441.50,262.48 441.70,263.20 441.90,264.12 442.10,265.12 442.30,266.01 442.50,266.57 442.70,266.64 442.90,266.14 443.10,265.21 443.30,264.04 443.50,262.84 443.70,261.77 443.90,260.92 444.10,260.36 444.30,260.11 444.50,260.18 444.70,260.56 444.90,261.24 445.10,262.15 445.30,263.22 445.50,264.29 445.70,265.18 445.90,265.65 446.10,265.58 446.30,264.98 446.50,264.02 446.70,262.90 446.90,261.83 447.10,260.93 447.30,260.28 447.50,259.93 447.70,259.89 447.90,260.18 448.10,260.77 448.30,261.63 448.50,262.71 448.70,263.89 448.90,265.00 449.10,265.83 449.30,266.18 449.50,265.98 449.70,265.29 449.90,264.33 450.10,263.31 450.30,262.38 450.50,261.67 450.70,261.23 450.90,261.10 451.10,261.29 451.30,261.80 451.50,262.60 451.70,263.67 451.90,264.90 452.10,266.19 452.30,267.32 452.50,268.09 452.70,268.34 452.90,268.04 453.10,267.35 453.30,266.46 453.50,265.59 453.70,264.88 453.90,264.41 454.10,264.24 454.30,264.39 454.50,264.87 454.70,265.66 454.90,266.75 455.10,268.08 455.30,269.55 455.50,271.00 455.70,272.23 455.90,273.03 456.10,273.30 456.30,273.08 456.50,272.57 456.70,271.98 456.90,271.48 457.10,271.22 457.30,271.26 457.50,271.65 457.70,272.42 457.90,273.57 458.10,275.10 458.30,276.99 458.50,279.19 458.70,281.62 458.90,284.14 459.10,286.62 459.30,289.03 459.50,291.61 459.70,295.18 459.90,299.62 460.10,299.62 460.30,294.68 460.50,288.46 460.70,284.52 460.90,281.82 461.10,279.96 461.30,278.76 461.50,278.09 461.70,277.83 461.90,277.87 462.10,278.02 462.30,278.07 462.50,277.78 462.70,276.99 462.90,275.72 463.10,274.13 463.30,272.42 463.50,270.80 463.70,269.37 463.90,268.23 464.10,267.41 464.30,266.92 464.50,266.77 464.70,266.95 464.90,267.41 465.10,268.10 465.30,268.90 465.50,269.65 465.70,270.12 465.90,270.13 466.10,269.57 466.30,268.54 466.50,267.24 466.70,265.88 466.90,264.63 467.10,263.60 467.30,262.84 467.50,262.40 467.70,262.27 467.90,262.47 468.10,262.97 468.30,263.73 468.50,264.66 468.70,265.64 468.90,266.47 469.10,266.93 469.30,266.87 469.50,266.25 469.70,265.23 469.90,264.02 470.10,262.82 470.30,261.77 470.50,260.96 470.70,260.45 470.90,260.25 471.10,260.37 471.30,260.80 471.50,261.52 471.70,262.46 471.90,263.53 472.10,264.58 472.30,265.39 472.50,265.75 472.70,265.55 472.90,264.85 473.10,263.82 473.30,262.68 473.50,261.62 473.70,260.75 473.90,260.14 474.10,259.84 474.30,259.86 474.50,260.19 474.70,260.83 474.90,261.73 475.10,262.83 475.30,264.00 475.50,265.06 475.70,265.80 475.90,266.04 476.10,265.71 476.30,264.93 476.50,263.92 476.70,262.89 476.90,261.98 477.10,261.30 477.30,260.91 477.50,260.82 477.70,261.06 477.90,261.62 478.10,262.46 478.30,263.55 478.50,264.80 478.70,266.05 478.90,267.12 479.10,267.78 479.30,267.90 479.50,267.48 479.70,266.70 479.90,265.77 480.10,264.89 480.30,264.20 480.50,263.76 480.70,263.62 480.90,263.80 481.10,264.32 481.30,265.14 481.50,266.25 481.70,267.58 481.90,269.03 482.10,270.42 482.30,271.54 482.50,272.19 482.70,272.29 482.90,271.93 483.10,271.31 483.30,270.64 483.50,270.10 483.70,269.79 483.90,269.79 484.10,270.14 484.30,270.84 484.50,271.91 484.70,273.32 484.90,275.06 485.10,277.05 485.30,279.19 485.50,281.29 485.70,283.18 485.90,284.72 486.10,285.99 486.30,287.26 486.50,288.97 486.70,291.89 486.90,297.95 487.10,299.62 487.30,294.94 487.50,288.70 487.70,285.18 487.90,283.00 488.10,281.69 488.30,280.97 488.50,280.63 488.70,280.45 488.90,280.19 489.10,279.59 489.30,278.54 489.50,277.07 489.70,275.32 489.90,273.53 490.10,271.84 490.30,270.39 490.50,269.23 490.70,268.41 490.90,267.92 491.10,267.78 491.30,267.96 491.50,268.42 491.70,269.09 491.90,269.85 492.10,270.51 492.30,270.87 492.50,270.72 492.70,270.04 492.90,268.92 493.10,267.56 493.30,266.19 493.50,264.95 493.70,263.95 493.90,263.23 494.10,262.83 494.30,262.75 494.50,262.99 494.70,263.52 494.90,264.30 495.10,265.23 495.30,266.17 495.50,266.92 495.70,267.27 495.90,267.07 496.10,266.35 496.30,265.26 496.50,264.03 496.70,262.83 496.90,261.82 497.10,261.05 497.30,260.59 497.50,260.44 497.70,260.61 497.90,261.08 498.10,261.84 498.30,262.80 498.50,263.86 498.70,264.86 498.90,265.58 499.10,265.82 499.30,265.50 499.50,264.70 499.70,263.63 499.90,262.48 500.10,261.44 500.30,260.61 500.50,260.05 500.70,259.80 500.90,259.87 501.10,260.25 501.30,260.94 501.50,261.87 501.70,262.98 501.90,264.12 502.10,265.12 502.30,265.76 502.50,265.86 502.70,265.42 502.90,264.57 503.10,263.53 503.30,262.50 503.50,261.62 503.70,260.98 503.90,260.64 504.10,260.60 504.30,260.89 504.50,261.49 504.70,262.37 504.90,263.48 505.10,264.72 505.30,265.93 505.50,266.91 505.70,267.45 505.90,267.43 506.10,266.91 506.30,266.07 506.50,265.12 506.70,264.25 506.90,263.58 507.10,263.18 507.30,263.08 507.50,263.30 507.70,263.85 507.90,264.71 508.10,265.83 508.30,267.16 508.50,268.57 508.70,269.87 508.90,270.87 509.10,271.36 509.30,271.32 509.50,270.85 509.70,270.15 509.90,269.44 510.10,268.88 510.30,268.57 510.50,268.56 510.70,268.88 510.90,269.55 511.10,270.58 511.30,271.92 511.50,273.56 511.70,275.39 511.90,277.29 512.10,279.07 512.30,280.53 512.50,281.57 512.70,282.23 512.90,282.73 513.10,283.33 513.30,284.34 513.50,286.11 513.70,289.16 513.90,294.89 514.10,299.62 514.30,296.76 514.50,290.41 514.70,287.23 514.90,285.45 515.10,284.41 515.30,283.71 515.50,282.99 515.70,282.00 515.90,280.58 516.10,278.80 516.30,276.83 516.50,274.88 516.70,273.10 516.90,271.58 517.10,270.39 517.30,269.54 517.50,269.05 517.70,268.91 517.90,269.08 518.10,269.54 518.30,270.19 518.50,270.91 518.70,271.49 518.90,271.72 519.10,271.43 519.30,270.60 519.50,269.37 519.70,267.96 519.90,266.56 520.10,265.33 520.30,264.35 520.50,263.67 520.70,263.31 520.90,263.27 521.10,263.55 521.30,264.11 521.50,264.91 521.70,265.84 521.90,266.75 522.10,267.42 522.30,267.65 522.50,267.33 522.70,266.49 522.90,265.33 523.10,264.07 523.30,262.89 523.50,261.90 523.70,261.18 523.90,260.76 524.10,260.66 524.30,260.87 524.50,261.40 524.70,262.19 524.90,263.17 525.10,264.23 525.30,265.18 525.50,265.80 525.70,265.92 525.90,265.48 526.10,264.59 526.30,263.47 526.50,262.32 526.70,261.30 526.90,260.50 527.10,259.99 527.30,259.79 527.50,259.91 527.70,260.35 527.90,261.07 528.10,262.04 528.30,263.15 528.50,264.28 528.70,265.22 528.90,265.75 529.10,265.72 529.30,265.17 529.50,264.25 529.70,263.18 529.90,262.15 530.10,261.30 530.30,260.70 530.50,260.40 530.70,260.42 530.90,260.75 531.10,261.40 531.30,262.32 531.50,263.45 531.70,264.69 531.90,265.86 532.10,266.75 532.30,267.17 532.50,267.02 532.70,266.40 532.90,265.49 533.10,264.52 533.30,263.66 533.50,263.02 533.70,262.65 533.90,262.59 534.10,262.85 534.30,263.44 534.50,264.33 534.70,265.48 534.90,266.81 535.10,268.19 535.30,269.42 535.50,270.30 535.70,270.66 535.90,270.47 536.10,269.88 536.30,269.11 536.50,268.37 536.70,267.79 536.90,267.47 537.10,267.46 537.30,267.78 537.50,268.45 537.70,269.45 537.90,270.76 538.10,272.34 538.30,274.08 538.50,275.84 538.70,277.42 538.90,278.61 539.10,279.30 539.30,279.57 539.50,279.63 539.70,279.71 539.90,280.04 540.10,280.80 540.30,282.17 540.50,284.37 540.70,287.79 540.90,293.48 541.10,299.62 541.30,299.62 541.50,293.59 541.70,290.25 541.90,288.23 542.10,286.62 542.30,284.97 542.50,283.07 542.70,280.93 542.90,278.71 543.10,276.58 543.30,274.67 543.50,273.06 543.70,271.80 543.90,270.91 544.10,270.39 544.30,270.22 544.50,270.37 544.70,270.80 544.90,271.40 545.10,272.04 545.30,272.50 545.50,272.58 545.70,272.13 545.90,271.17 546.10,269.86 546.30,268.41 546.50,267.01 546.70,265.79 546.90,264.84 547.10,264.19 547.30,263.86 547.50,263.86 547.70,264.17 547.90,264.77 548.10,265.57 548.30,266.49 548.50,267.34 548.70,267.91 548.90,268.01 549.10,267.56 549.30,266.63 549.50,265.42 549.70,264.15 549.90,262.98 550.10,262.03 550.30,261.35 550.50,260.98 550.70,260.93 550.90,261.19 551.10,261.76 551.30,262.57 551.50,263.57 551.70,264.60 551.90,265.49 552.10,266.01 552.30,266.00 552.50,265.44 552.70,264.48 552.90,263.33 553.10,262.18 553.30,261.19 553.50,260.44 553.70,259.98 553.90,259.83 554.10,260.00 554.30,260.48 554.50,261.24 554.70,262.23 554.90,263.35 555.10,264.44 555.30,265.30 555.50,265.71 555.70,265.56 555.90,264.91 556.10,263.93 556.30,262.84 556.50,261.83 556.70,261.02 556.90,260.46 557.10,260.21 557.30,260.28 557.50,260.66 557.70,261.35 557.90,262.30 558.10,263.45 558.30,264.67 558.50,265.78 558.70,266.57 558.90,266.86 559.10,266.59 559.30,265.88 559.50,264.94 559.70,263.96 559.90,263.12 560.10,262.51 560.30,262.18 560.50,262.17 560.70,262.48 560.90,263.10 561.10,264.02 561.30,265.19 561.50,266.51 561.70,267.84 561.90,268.99 562.10,269.73 562.30,269.94 562.50,269.63 562.70,268.96 562.90,268.15 563.10,267.39 563.30,266.82 563.50,266.51 563.70,266.52 563.90,266.85 564.10,267.52 564.30,268.51 564.50,269.81 564.70,271.33 564.90,272.98 565.10,274.60 565.30,275.97 565.50,276.91 565.70,277.34 565.90,277.36 566.10,277.17 566.30,276.99 566.50,277.02 566.70,277.38 566.90,278.19 567.10,279.53 567.30,281.51 567.50,284.28 567.70,288.16 567.90,293.96 568.10,299.62 568.30,299.62 568.50,297.09 568.70,292.85 568.90,289.71 569.10,286.81 569.30,283.97 569.50,281.26 569.70,278.79 569.90,276.65 570.10,274.88 570.30,273.50 570.50,272.52 570.70,271.94 570.90,271.72 571.10,271.83 571.30,272.22 571.50,272.77 571.70,273.32 571.90,273.67 572.10,273.59 572.30,272.98 572.50,271.87 572.70,270.45 572.90,268.95 573.10,267.53 573.30,266.32 573.50,265.39 573.70,264.77 573.90,264.48 574.10,264.51 574.30,264.86 574.50,265.47 574.70,266.29 574.90,267.19 575.10,267.99 575.30,268.46 575.50,268.43 575.70,267.85 575.90,266.82 576.10,265.56 576.30,264.27 576.50,263.12 576.70,262.20 576.90,261.56 577.10,261.24 577.30,261.23 577.50,261.54 577.70,262.15 577.90,263.00 578.10,264.00 578.30,265.01 578.50,265.83 578.70,266.25 578.90,266.11 579.10,265.44 579.30,264.41 579.50,263.22 579.70,262.08 579.90,261.12 580.10,260.41 580.30,259.99 580.50,259.89 580.70,260.12 580.90,260.64 581.10,261.45 581.30,262.46 581.50,263.58 581.70,264.64 581.90,265.41 582.10,265.70 582.30,265.43 582.50,264.67 582.70,263.64 582.90,262.54 583.10,261.55 583.30,260.76 583.50,260.25 583.70,260.05 583.90,260.17 584.10,260.61 584.30,261.34 584.50,262.32 584.70,263.49 584.90,264.69 585.10,265.75 585.30,266.44 585.50,266.60 585.70,266.21 585.90,265.41 586.10,264.42 586.30,263.45 586.50,262.62 586.70,262.05 586.90,261.76 587.10,261.79 587.30,262.14 587.50,262.81 587.70,263.76 587.90,264.95 588.10,266.27 588.30,267.56 588.50,268.63 588.70,269.25 588.90,269.32 589.10,268.88 589.30,268.13 589.50,267.27 589.70,266.50 589.90,265.94 590.10,265.64 590.30,265.67 590.50,266.02 590.70,266.70 590.90,267.71 591.10,268.99 591.30,270.49 591.50,272.09 591.70,273.60 591.90,274.82 592.10,275.56 592.30,275.77 592.50,275.57 592.70,275.18 592.90,274.82 593.10,274.66 593.30,274.80 593.50,275.33 593.70,276.29 593.90,277.74 594.10,279.71 594.30,282.27 594.50,285.52 594.70,289.65 594.90,295.19 595.10,299.62 595.30,299.62 595.50,298.47 595.70,292.84 595.90,288.56 596.10,284.95 596.30,281.89 596.50,279.34 596.70,277.28 596.90,275.69 597.10,274.55 597.30,273.84 597.50,273.52 597.70,273.55 597.90,273.85 598.00,274.06"/>
<rect x="26.90" y="9.90" width="16.00" height="11.60" fill="#000"/>
<text x="34.90" y="18.70" font-size="10.5" fill="#fff" text-anchor="middle">a</text>
<rect x="27.80" y="124.80" width="16.10" height="11.80" fill="#000"/>
<text x="35.85" y="133.70" font-size="10.5" fill="#fff" text-anchor="middle">b</text>
<rect x="27.30" y="240.70" width="16.50" height="11.80" fill="#000"/>
<text x="35.55" y="249.60" font-size="10.5" fill="#fff" text-anchor="middle">c</text>
<rect x="234.00" y="9.60" width="16.10" height="11.30" fill="#000"/>
<text x="242.05" y="18.25" font-size="10.5" fill="#fff" text-anchor="middle">d</text>
<rect x="235.50" y="124.30" width="16.60" height="11.80" fill="#000"/>
<text x="243.80" y="133.20" font-size="10.5" fill="#fff" text-anchor="middle">e</text>
<rect x="235.00" y="241.20" width="16.00" height="10.80" fill="#000"/>
<text x="243.00" y="249.60" font-size="10.5" fill="#fff" text-anchor="middle">f</text>
<rect x="438.00" y="8.10" width="16.00" height="12.60" fill="#000"/>
<text x="446.00" y="17.40" font-size="10.5" fill="#fff" text-anchor="middle">g</text>
<rect x="438.00" y="123.00" width="15.90" height="11.50" fill="#000"/>
<text x="445.95" y="131.75" font-size="10.5" fill="#fff" text-anchor="middle">h</text>
<rect x="438.00" y="240.80" width="16.00" height="11.70" fill="#000"/>
<text x="446.00" y="249.65" font-size="10.5" fill="#fff" text-anchor="middle">i</text>
<rect x="144.00" y="7.20" width="44.40" height="15.30" fill="#fff"/>
<line x1="145.80" y1="12.20" x2="153.50" y2="12.20" stroke="#4760e8" stroke-width="0.9"/>
<line x1="145.80" y1="18.90" x2="153.50" y2="18.90" stroke="#f03535" stroke-width="0.9"/>
<text x="155.20" y="14.10" font-size="6.0" fill="#1f30ff" stroke="#1f30ff" stroke-width="0.22">Real [&#968;<tspan font-size="4.2" dy="1.8">A</tspan><tspan dy="-1.8">(x)]</tspan></text>
<text x="155.20" y="20.80" font-size="6.0" fill="#ff1c1c" stroke="#ff1c1c" stroke-width="0.22">Imag [&#968;<tspan font-size="4.2" dy="1.8">A</tspan><tspan dy="-1.8">(x)]</tspan></text>
<rect x="144.00" y="122.10" width="44.90" height="16.70" fill="#fff"/>
<line x1="146.70" y1="127.10" x2="154.30" y2="127.10" stroke="#4760e8" stroke-width="0.9"/>
<line x1="146.70" y1="135.20" x2="154.30" y2="135.20" stroke="#f03535" stroke-width="0.9"/>
<text x="156.10" y="129.00" font-size="6.0" fill="#1f30ff" stroke="#1f30ff" stroke-width="0.22">Real [&#968;<tspan font-size="4.2" dy="1.8">B</tspan><tspan dy="-1.8">(x)]</tspan></text>
<text x="156.10" y="137.10" font-size="6.0" fill="#ff1c1c" stroke="#ff1c1c" stroke-width="0.22">Imag [&#968;<tspan font-size="4.2" dy="1.8">B</tspan><tspan dy="-1.8">(x)]</tspan></text>
<rect x="145.80" y="239.90" width="43.10" height="16.40" fill="#fff"/>
<line x1="149.00" y1="244.90" x2="156.60" y2="244.90" stroke="#4760e8" stroke-width="0.9"/>
<line x1="149.00" y1="252.70" x2="156.60" y2="252.70" stroke="#f03535" stroke-width="0.9"/>
<text x="158.40" y="246.80" font-size="6.0" fill="#1f30ff" stroke="#1f30ff" stroke-width="0.22">log|&#968;<tspan font-size="4.2" dy="1.8">A</tspan><tspan dy="-1.8">(x)|</tspan><tspan font-size="4.2" dy="-2.4">2</tspan></text>
<text x="158.40" y="254.60" font-size="6.0" fill="#ff1c1c" stroke="#ff1c1c" stroke-width="0.22">log|&#968;<tspan font-size="4.2" dy="1.8">B</tspan><tspan dy="-1.8">(x)|</tspan><tspan font-size="4.2" dy="-2.4">2</tspan></text>
<rect x="349.50" y="7.60" width="44.40" height="17.10" fill="#fff"/>
<line x1="351.70" y1="12.60" x2="359.30" y2="12.60" stroke="#4760e8" stroke-width="0.9"/>
<line x1="351.70" y1="21.10" x2="359.30" y2="21.10" stroke="#f03535" stroke-width="0.9"/>
<text x="361.10" y="14.50" font-size="6.0" fill="#1f30ff" stroke="#1f30ff" stroke-width="0.22">Real [&#968;<tspan font-size="4.2" dy="1.8">A</tspan><tspan dy="-1.8">(x)]</tspan></text>
<text x="361.10" y="23.00" font-size="6.0" fill="#ff1c1c" stroke="#ff1c1c" stroke-width="0.22">Imag [&#968;<tspan font-size="4.2" dy="1.8">A</tspan><tspan dy="-1.8">(x)]</tspan></text>
<rect x="350.00" y="122.50" width="44.80" height="16.90" fill="#fff"/>
<line x1="352.20" y1="127.50" x2="359.80" y2="127.50" stroke="#4760e8" stroke-width="0.9"/>
<line x1="352.20" y1="135.80" x2="359.80" y2="135.80" stroke="#f03535" stroke-width="0.9"/>
<text x="361.60" y="129.40" font-size="6.0" fill="#1f30ff" stroke="#1f30ff" stroke-width="0.22">Real [&#968;<tspan font-size="4.2" dy="1.8">B</tspan><tspan dy="-1.8">(x)]</tspan></text>
<text x="361.60" y="137.70" font-size="6.0" fill="#ff1c1c" stroke="#ff1c1c" stroke-width="0.22">Imag [&#968;<tspan font-size="4.2" dy="1.8">B</tspan><tspan dy="-1.8">(x)]</tspan></text>
<rect x="353.50" y="240.50" width="41.70" height="17.10" fill="#fff"/>
<line x1="354.90" y1="245.50" x2="362.50" y2="245.50" stroke="#4760e8" stroke-width="0.9"/>
<line x1="354.90" y1="254.00" x2="362.50" y2="254.00" stroke="#f03535" stroke-width="0.9"/>
<text x="364.30" y="247.40" font-size="6.0" fill="#1f30ff" stroke="#1f30ff" stroke-width="0.22">log|&#968;<tspan font-size="4.2" dy="1.8">A</tspan><tspan dy="-1.8">(x)|</tspan><tspan font-size="4.2" dy="-2.4">2</tspan></text>
<text x="364.30" y="255.90" font-size="6.0" fill="#ff1c1c" stroke="#ff1c1c" stroke-width="0.22">log|&#968;<tspan font-size="4.2" dy="1.8">B</tspan><tspan dy="-1.8">(x)|</tspan><tspan font-size="4.2" dy="-2.4">2</tspan></text>
<rect x="549.00" y="7.20" width="43.50" height="16.20" fill="#fff"/>
<line x1="551.30" y1="11.70" x2="558.90" y2="11.70" stroke="#4760e8" stroke-width="0.9"/>
<line x1="551.30" y1="19.80" x2="558.90" y2="19.80" stroke="#f03535" stroke-width="0.9"/>
<text x="560.70" y="13.60" font-size="6.0" fill="#1f30ff" stroke="#1f30ff" stroke-width="0.22">Real [&#968;<tspan font-size="4.2" dy="1.8">A</tspan><tspan dy="-1.8">(x)]</tspan></text>
<text x="560.70" y="21.70" font-size="6.0" fill="#ff1c1c" stroke="#ff1c1c" stroke-width="0.22">Imag [&#968;<tspan font-size="4.2" dy="1.8">A</tspan><tspan dy="-1.8">(x)]</tspan></text>
<rect x="533.60" y="122.10" width="45.70" height="16.70" fill="#fff"/>
<line x1="537.20" y1="127.10" x2="544.30" y2="127.10" stroke="#4760e8" stroke-width="0.9"/>
<line x1="537.20" y1="135.20" x2="544.30" y2="135.20" stroke="#f03535" stroke-width="0.9"/>
<text x="546.00" y="129.00" font-size="6.0" fill="#1f30ff" stroke="#1f30ff" stroke-width="0.22">Real [&#968;<tspan font-size="4.2" dy="1.8">B</tspan><tspan dy="-1.8">(x)]</tspan></text>
<text x="546.00" y="137.10" font-size="6.0" fill="#ff1c1c" stroke="#ff1c1c" stroke-width="0.22">Imag [&#968;<tspan font-size="4.2" dy="1.8">B</tspan><tspan dy="-1.8">(x)]</tspan></text>
<rect x="554.00" y="240.80" width="39.90" height="16.80" fill="#fff"/>
<line x1="555.30" y1="245.80" x2="563.40" y2="245.80" stroke="#4760e8" stroke-width="0.9"/>
<line x1="555.30" y1="254.00" x2="563.40" y2="254.00" stroke="#f03535" stroke-width="0.9"/>
<text x="565.20" y="247.70" font-size="6.0" fill="#1f30ff" stroke="#1f30ff" stroke-width="0.22">log|&#968;<tspan font-size="4.2" dy="1.8">A</tspan><tspan dy="-1.8">(x)|</tspan><tspan font-size="4.2" dy="-2.4">2</tspan></text>
<text x="565.20" y="255.90" font-size="6.0" fill="#ff1c1c" stroke="#ff1c1c" stroke-width="0.22">log|&#968;<tspan font-size="4.2" dy="1.8">B</tspan><tspan dy="-1.8">(x)|</tspan><tspan font-size="4.2" dy="-2.4">2</tspan></text>
<path d="M72.96,112.20 v-1.6 M72.96,6.60 v1.6 M125.11,112.20 v-1.6 M125.11,6.60 v1.6 M177.27,112.20 v-1.6 M177.27,6.60 v1.6 M20.80,59.40 h1.6 M192.50,59.40 h-1.6 M72.96,227.00 v-1.6 M72.96,121.40 v1.6 M125.11,227.00 v-1.6 M125.11,121.40 v1.6 M177.27,227.00 v-1.6 M177.27,121.40 v1.6 M20.80,174.20 h1.6 M192.50,174.20 h-1.6 M72.96,343.40 v-1.6 M72.96,237.40 v1.6 M125.11,343.40 v-1.6 M125.11,237.40 v1.6 M177.27,343.40 v-1.6 M177.27,237.40 v1.6 M20.80,335.83 h1.6 M192.50,335.83 h-1.6 M20.80,320.69 h1.6 M192.50,320.69 h-1.6 M20.80,305.54 h1.6 M192.50,305.54 h-1.6 M20.80,290.40 h1.6 M192.50,290.40 h-1.6 M20.80,275.26 h1.6 M192.50,275.26 h-1.6 M20.80,260.11 h1.6 M192.50,260.11 h-1.6 M20.80,244.97 h1.6 M192.50,244.97 h-1.6 M279.57,112.20 v-1.6 M279.57,6.60 v1.6 M331.55,112.20 v-1.6 M331.55,6.60 v1.6 M383.52,112.20 v-1.6 M383.52,6.60 v1.6 M227.60,85.80 h1.6 M398.70,85.80 h-1.6 M227.60,59.40 h1.6 M398.70,59.40 h-1.6 M227.60,33.00 h1.6 M398.70,33.00 h-1.6 M279.57,227.00 v-1.6 M279.57,121.40 v1.6 M331.55,227.00 v-1.6 M331.55,121.40 v1.6 M383.52,227.00 v-1.6 M383.52,121.40 v1.6 M227.60,209.40 h1.6 M398.70,209.40 h-1.6 M227.60,191.80 h1.6 M398.70,191.80 h-1.6 M227.60,174.20 h1.6 M398.70,174.20 h-1.6 M227.60,156.60 h1.6 M398.70,156.60 h-1.6 M227.60,139.00 h1.6 M398.70,139.00 h-1.6 M279.57,342.80 v-1.6 M279.57,237.40 v1.6 M331.55,342.80 v-1.6 M331.55,237.40 v1.6 M383.52,342.80 v-1.6 M383.52,237.40 v1.6 M227.60,325.23 h1.6 M398.70,325.23 h-1.6 M227.60,307.67 h1.6 M398.70,307.67 h-1.6 M227.60,290.10 h1.6 M398.70,290.10 h-1.6 M227.60,272.53 h1.6 M398.70,272.53 h-1.6 M227.60,254.97 h1.6 M398.70,254.97 h-1.6 M481.38,112.20 v-1.6 M481.38,6.60 v1.6 M532.26,112.20 v-1.6 M532.26,6.60 v1.6 M583.14,112.20 v-1.6 M583.14,6.60 v1.6 M430.50,94.60 h1.6 M598.00,94.60 h-1.6 M430.50,77.00 h1.6 M598.00,77.00 h-1.6 M430.50,59.40 h1.6 M598.00,59.40 h-1.6 M430.50,41.80 h1.6 M598.00,41.80 h-1.6 M430.50,24.20 h1.6 M598.00,24.20 h-1.6 M481.38,227.00 v-1.6 M481.38,121.40 v1.6 M532.26,227.00 v-1.6 M532.26,121.40 v1.6 M583.14,227.00 v-1.6 M583.14,121.40 v1.6 M430.50,219.72 h1.6 M598.00,219.72 h-1.6 M430.50,204.54 h1.6 M598.00,204.54 h-1.6 M430.50,189.37 h1.6 M598.00,189.37 h-1.6 M430.50,174.20 h1.6 M598.00,174.20 h-1.6 M430.50,159.03 h1.6 M598.00,159.03 h-1.6 M430.50,143.86 h1.6 M598.00,143.86 h-1.6 M430.50,128.68 h1.6 M598.00,128.68 h-1.6 M481.38,342.70 v-1.6 M481.38,237.40 v1.6 M532.26,342.70 v-1.6 M532.26,237.40 v1.6 M583.14,342.70 v-1.6 M583.14,237.40 v1.6 M430.50,333.13 h1.6 M598.00,333.13 h-1.6 M430.50,309.20 h1.6 M598.00,309.20 h-1.6 M430.50,285.26 h1.6 M598.00,285.26 h-1.6 M430.50,261.33 h1.6 M598.00,261.33 h-1.6" stroke="#6f7a6f" stroke-width="0.9" fill="none"/>
<text x="19.00" y="115.50" font-size="8.1" text-anchor="end">-5</text>
<text x="19.00" y="62.70" font-size="8.1" text-anchor="end">0</text>
<text x="19.00" y="9.90" font-size="8.1" text-anchor="end">5</text>
<text transform="translate(8.90,60.40) rotate(-90)" font-size="9.6" text-anchor="middle">Probability amplitudes</text>
<text x="19.00" y="230.30" font-size="8.1" text-anchor="end">-0.5</text>
<text x="19.00" y="177.50" font-size="8.1" text-anchor="end">0</text>
<text x="19.00" y="124.70" font-size="8.1" text-anchor="end">0.5</text>
<text transform="translate(6.00,175.20) rotate(-90)" font-size="9.6" text-anchor="middle">Probability amplitudes</text>
<text x="19.00" y="339.13" font-size="8.1" text-anchor="end">-8</text>
<text x="19.00" y="323.99" font-size="8.1" text-anchor="end">-6</text>
<text x="19.00" y="308.84" font-size="8.1" text-anchor="end">-4</text>
<text x="19.00" y="293.70" font-size="8.1" text-anchor="end">-2</text>
<text x="19.00" y="278.56" font-size="8.1" text-anchor="end">0</text>
<text x="19.00" y="263.41" font-size="8.1" text-anchor="end">2</text>
<text x="19.00" y="248.27" font-size="8.1" text-anchor="end">4</text>
<text transform="translate(8.90,291.40) rotate(-90)" font-size="9.6" text-anchor="middle">Probability density</text>
<text x="225.80" y="115.50" font-size="8.1" text-anchor="end">0</text>
<text x="225.80" y="89.10" font-size="8.1" text-anchor="end">0.5</text>
<text x="225.80" y="62.70" font-size="8.1" text-anchor="end">1</text>
<text x="225.80" y="36.30" font-size="8.1" text-anchor="end">1.5</text>
<text x="225.80" y="9.90" font-size="8.1" text-anchor="end">2</text>
<text transform="translate(212.10,60.40) rotate(-90)" font-size="9.6" text-anchor="middle">Probability amplitudes</text>
<text x="225.80" y="230.30" font-size="8.1" text-anchor="end">0</text>
<text x="225.80" y="212.70" font-size="8.1" text-anchor="end">0.02</text>
<text x="225.80" y="195.10" font-size="8.1" text-anchor="end">0.04</text>
<text x="225.80" y="177.50" font-size="8.1" text-anchor="end">0.06</text>
<text x="225.80" y="159.90" font-size="8.1" text-anchor="end">0.08</text>
<text x="225.80" y="142.30" font-size="8.1" text-anchor="end">0.1</text>
<text x="225.80" y="124.70" font-size="8.1" text-anchor="end">0.12</text>
<text transform="translate(209.30,175.20) rotate(-90)" font-size="9.6" text-anchor="middle">Probability amplitudes</text>
<text x="225.80" y="346.10" font-size="8.1" text-anchor="end">-50</text>
<text x="225.80" y="328.53" font-size="8.1" text-anchor="end">-40</text>
<text x="225.80" y="310.97" font-size="8.1" text-anchor="end">-30</text>
<text x="225.80" y="293.40" font-size="8.1" text-anchor="end">-20</text>
<text x="225.80" y="275.83" font-size="8.1" text-anchor="end">-10</text>
<text x="225.80" y="258.27" font-size="8.1" text-anchor="end">0</text>
<text x="225.80" y="240.70" font-size="8.1" text-anchor="end">10</text>
<text transform="translate(213.00,291.10) rotate(-90)" font-size="9.6" text-anchor="middle">Probability density</text>
<text x="428.70" y="115.50" font-size="8.1" text-anchor="end">-3</text>
<text x="428.70" y="97.90" font-size="8.1" text-anchor="end">-2</text>
<text x="428.70" y="80.30" font-size="8.1" text-anchor="end">-1</text>
<text x="428.70" y="62.70" font-size="8.1" text-anchor="end">0</text>
<text x="428.70" y="45.10" font-size="8.1" text-anchor="end">1</text>
<text x="428.70" y="27.50" font-size="8.1" text-anchor="end">2</text>
<text x="428.70" y="9.90" font-size="8.1" text-anchor="end">3</text>
<text transform="translate(418.80,60.40) rotate(-90)" font-size="9.6" text-anchor="middle">Probability amplitudes</text>
<text x="428.70" y="223.02" font-size="8.1" text-anchor="end">-15</text>
<text x="428.70" y="207.84" font-size="8.1" text-anchor="end">-10</text>
<text x="428.70" y="192.67" font-size="8.1" text-anchor="end">-5</text>
<text x="428.70" y="177.50" font-size="8.1" text-anchor="end">0</text>
<text x="428.70" y="162.33" font-size="8.1" text-anchor="end">5</text>
<text x="428.70" y="147.16" font-size="8.1" text-anchor="end">10</text>
<text x="428.70" y="131.98" font-size="8.1" text-anchor="end">15</text>
<text transform="translate(415.90,175.20) rotate(-90)" font-size="9.6" text-anchor="middle">Probability amplitudes</text>
<text x="428.70" y="336.43" font-size="8.1" text-anchor="end">-10</text>
<text x="428.70" y="312.50" font-size="8.1" text-anchor="end">-5</text>
<text x="428.70" y="288.56" font-size="8.1" text-anchor="end">0</text>
<text x="428.70" y="264.63" font-size="8.1" text-anchor="end">5</text>
<text x="428.70" y="240.70" font-size="8.1" text-anchor="end">10</text>
<text transform="translate(418.20,291.05) rotate(-90)" font-size="9.6" text-anchor="middle">Probability density</text>
<text x="107.15" y="248.20" font-size="9.3" text-anchor="middle">X (A)</text>
<text x="107.15" y="364.60" font-size="9.3" text-anchor="middle">X (A)</text>
<text x="313.65" y="364.00" font-size="9.3" text-anchor="middle">X (A)</text>
<text x="514.75" y="363.90" font-size="9.3" text-anchor="middle">X (A)</text>
</svg>
</body></html>
